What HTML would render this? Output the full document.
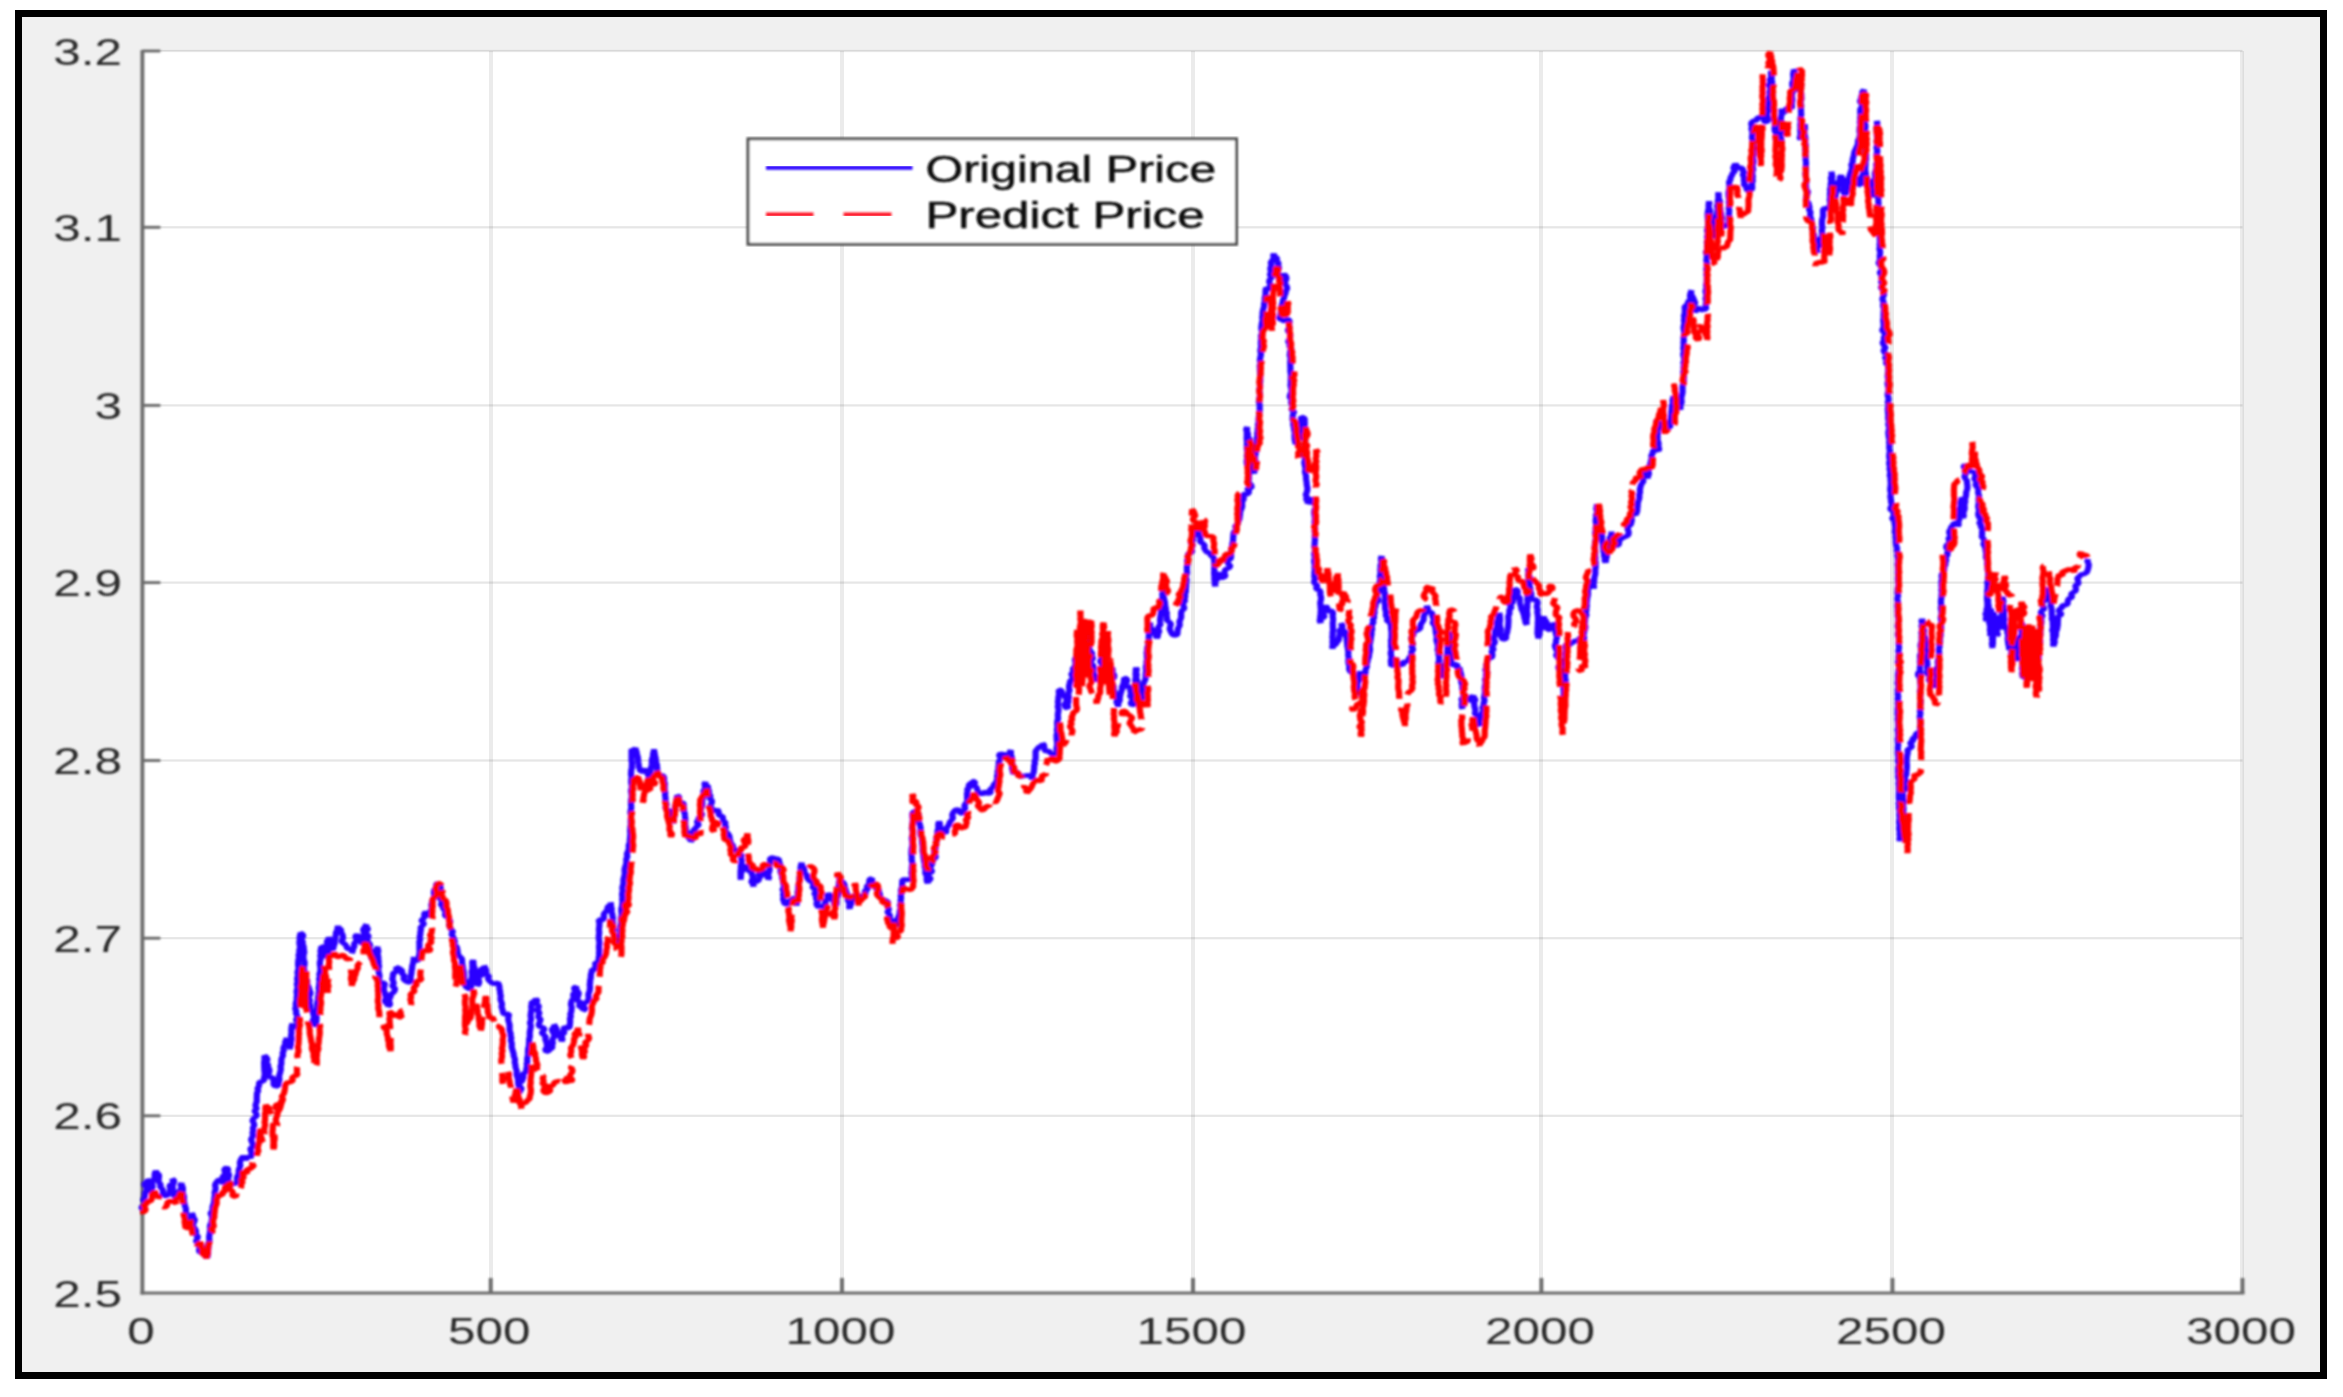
<!DOCTYPE html>
<html><head><meta charset="utf-8"><title>Original Price vs Predict Price</title>
<style>
html,body{margin:0;padding:0;background:#fff;}
body{width:2343px;height:1397px;overflow:hidden;}
svg{display:block;}
text{font-family:"Liberation Sans",Arial,Helvetica,sans-serif;fill:#2a2a2a;}
.lg text{fill:#111;stroke:#111;stroke-width:0.5px;}
</style></head><body>
<svg width="2343" height="1397" viewBox="0 0 2343 1397">
<defs><filter id="bl" x="-2%" y="-2%" width="104%" height="104%"><feGaussianBlur stdDeviation="0.9"/></filter></defs>
<rect x="0" y="0" width="2343" height="1397" fill="#ffffff"/>
<rect x="18.5" y="13.5" width="2305" height="1362" fill="#f0f0f0" stroke="#000" stroke-width="7"/>
<rect x="142.4" y="51" width="2100.1" height="1242" fill="#ffffff"/>
<g fill="#000">
<rect x="489" y="51" width="4" height="1242" fill-opacity="0.078"/>
<rect x="840" y="51" width="4" height="1242" fill-opacity="0.078"/>
<rect x="1191" y="51" width="4" height="1242" fill-opacity="0.078"/>
<rect x="1539" y="51" width="4" height="1242" fill-opacity="0.078"/>
<rect x="1890" y="51" width="4" height="1242" fill-opacity="0.078"/>
<rect x="2240" y="51" width="4" height="1242" fill-opacity="0.078"/>
<rect x="142.4" y="49.85" width="2100.1" height="2.3" fill-opacity="0.098"/>
<rect x="142.4" y="226.15" width="2100.1" height="2.3" fill-opacity="0.098"/>
<rect x="142.4" y="404.25" width="2100.1" height="2.3" fill-opacity="0.098"/>
<rect x="142.4" y="581.45" width="2100.1" height="2.3" fill-opacity="0.098"/>
<rect x="142.4" y="759.35" width="2100.1" height="2.3" fill-opacity="0.098"/>
<rect x="142.4" y="937.05" width="2100.1" height="2.3" fill-opacity="0.098"/>
<rect x="142.4" y="1114.65" width="2100.1" height="2.3" fill-opacity="0.098"/>
</g>
<g stroke="#6c6c6c" fill="none" filter="url(#bl)">
<line x1="142.4" y1="50" x2="142.4" y2="1294.5" stroke-width="3.8"/>
<line x1="140.5" y1="1293" x2="2244.5" y2="1293" stroke-width="3"/>
<line x1="490.7" y1="1293" x2="490.7" y2="1278" stroke-width="3.8"/>
<line x1="842" y1="1293" x2="842" y2="1278" stroke-width="3.8"/>
<line x1="1193" y1="1293" x2="1193" y2="1278" stroke-width="3.8"/>
<line x1="1541.4" y1="1293" x2="1541.4" y2="1278" stroke-width="3.8"/>
<line x1="1892.5" y1="1293" x2="1892.5" y2="1278" stroke-width="3.8"/>
<line x1="2242.5" y1="1293" x2="2242.5" y2="1278" stroke-width="3.8"/>
<line x1="142.4" y1="51" x2="160.4" y2="51" stroke-width="2.8"/>
<line x1="142.4" y1="227.3" x2="160.4" y2="227.3" stroke-width="2.8"/>
<line x1="142.4" y1="405.4" x2="160.4" y2="405.4" stroke-width="2.8"/>
<line x1="142.4" y1="582.6" x2="160.4" y2="582.6" stroke-width="2.8"/>
<line x1="142.4" y1="760.5" x2="160.4" y2="760.5" stroke-width="2.8"/>
<line x1="142.4" y1="938.2" x2="160.4" y2="938.2" stroke-width="2.8"/>
<line x1="142.4" y1="1115.8" x2="160.4" y2="1115.8" stroke-width="2.8"/>
</g>
<g transform="scale(1.35 1)" fill="none" stroke-linejoin="bevel" stroke-linecap="butt" filter="url(#bl)">
<path d="M105.5 1209.5 L104.7 1206.8 L107.2 1205.0 L107.3 1202.5 L106.0 1199.7 L107.1 1197.5 L107.3 1195.1 L107.4 1192.7 L108.3 1190.5 L108.9 1188.2 L107.1 1185.5 L107.1 1183.1 L109.8 1181.1 L109.0 1178.6 L109.7 1180.8 L109.0 1183.4 L111.9 1184.9 L110.9 1187.7 L110.4 1190.3 L111.6 1192.3 L111.7 1190.1 L112.8 1188.1 L113.1 1186.0 L112.6 1183.6 L113.0 1181.4 L113.9 1179.4 L114.7 1177.4 L114.5 1175.1 L114.8 1172.9 L115.4 1170.8 L116.1 1173.0 L117.8 1174.9 L117.7 1177.5 L117.4 1180.0 L117.7 1182.4 L119.0 1184.5 L118.6 1187.1 L120.1 1188.8 L120.8 1190.9 L120.6 1193.5 L121.1 1195.7 L123.1 1195.3 L124.3 1197.5 L123.2 1194.7 L126.2 1193.1 L125.7 1190.5 L126.3 1188.2 L125.3 1185.4 L128.3 1183.8 L128.2 1181.3 L127.5 1178.6 L129.0 1180.7 L128.6 1183.2 L127.7 1185.9 L128.1 1188.2 L127.7 1190.7 L129.6 1192.7 L128.7 1195.4 L130.0 1197.5 L131.2 1195.7 L130.6 1193.0 L132.2 1191.4 L133.8 1189.9 L134.4 1187.7 L133.8 1185.0 L134.4 1182.9 L134.6 1185.2 L135.4 1187.4 L135.5 1189.8 L135.2 1192.2 L135.8 1194.4 L136.3 1196.7 L136.2 1199.1 L136.3 1201.4 L136.6 1203.7 L137.0 1206.0 L137.7 1208.3 L137.7 1210.7 L137.7 1213.1 L137.2 1215.6 L138.2 1217.8 L138.8 1220.1 L138.8 1222.5 L139.0 1224.9 L138.0 1221.7 L138.7 1219.4 L141.6 1218.0 L143.1 1216.1 L142.1 1212.9 L142.3 1215.4 L143.3 1217.5 L144.4 1219.7 L143.7 1222.4 L142.6 1225.2 L143.7 1227.3 L144.8 1229.5 L145.3 1231.8 L144.5 1234.3 L146.7 1236.2 L146.1 1238.7 L145.1 1241.3 L146.5 1243.3 L147.1 1245.5 L148.0 1247.7 L147.4 1250.1 L147.9 1252.4 L150.4 1252.4 L148.3 1247.1 L151.0 1247.3 L150.7 1250.3 L151.2 1252.9 L151.6 1255.6 L153.6 1257.6 L153.9 1255.3 L154.2 1252.9 L154.1 1250.6 L154.3 1248.2 L154.4 1245.9 L154.2 1243.5 L155.1 1241.2 L155.0 1238.8 L154.9 1236.5 L155.3 1234.1 L155.5 1231.8 L155.7 1229.5 L155.5 1227.1 L155.7 1224.9 L156.5 1222.7 L156.9 1220.4 L157.1 1218.1 L156.9 1215.8 L155.8 1213.2 L157.4 1211.2 L157.4 1208.8 L157.5 1206.4 L158.1 1204.1 L158.6 1201.8 L158.7 1199.5 L158.9 1197.1 L159.2 1194.7 L158.9 1192.3 L159.6 1190.0 L159.7 1187.6 L159.3 1185.2 L159.9 1182.9 L161.9 1179.7 L163.6 1180.0 L165.0 1183.7 L166.3 1181.6 L165.0 1178.8 L165.0 1176.3 L167.0 1174.5 L166.6 1171.9 L166.1 1169.3 L167.9 1167.4 L169.1 1169.5 L168.3 1172.0 L169.6 1174.1 L169.6 1176.4 L168.5 1179.0 L169.5 1181.1 L170.2 1183.3 L170.0 1185.7 L170.1 1188.0 L170.5 1183.8 L173.2 1184.0 L175.2 1182.9 L175.4 1180.7 L175.5 1178.4 L175.8 1176.2 L176.9 1174.2 L176.8 1171.9 L176.9 1169.7 L177.5 1167.6 L178.1 1165.5 L177.6 1163.1 L178.0 1160.9 L178.7 1158.8 L180.2 1156.0 L182.2 1159.9 L183.6 1155.7 L185.4 1157.9 L186.2 1155.7 L186.3 1153.4 L186.0 1151.1 L185.3 1148.6 L187.6 1146.6 L187.3 1144.3 L186.6 1141.9 L185.9 1139.5 L186.9 1137.3 L187.5 1135.1 L187.0 1132.6 L187.7 1130.4 L187.2 1128.0 L188.3 1125.8 L188.1 1123.4 L187.0 1120.8 L187.8 1118.4 L190.0 1116.2 L189.9 1113.7 L188.4 1111.0 L190.2 1108.8 L189.3 1106.2 L189.4 1104.0 L190.2 1101.9 L190.2 1099.7 L190.2 1097.4 L190.3 1095.2 L190.3 1093.0 L191.3 1090.9 L190.7 1088.6 L191.7 1086.5 L192.0 1084.4 L191.9 1082.1 L193.9 1081.7 L195.7 1080.4 L195.5 1078.1 L196.0 1075.9 L196.1 1073.6 L195.9 1071.3 L195.8 1069.1 L195.7 1066.8 L195.7 1064.6 L195.6 1062.3 L196.0 1060.0 L195.9 1057.8 L195.9 1055.5 L197.4 1057.4 L198.2 1059.6 L196.9 1062.7 L198.6 1064.5 L198.5 1067.1 L199.5 1069.2 L199.5 1071.8 L198.8 1074.6 L199.2 1077.0 L202.7 1078.0 L202.6 1080.6 L202.7 1083.1 L202.7 1085.6 L205.9 1086.5 L206.5 1082.1 L207.0 1079.9 L206.8 1077.6 L206.8 1075.4 L207.4 1073.2 L207.8 1071.0 L208.1 1068.8 L207.7 1066.5 L208.4 1064.3 L208.4 1062.1 L208.4 1059.8 L208.8 1057.6 L209.7 1055.5 L209.3 1053.0 L210.2 1050.9 L209.9 1048.5 L210.4 1046.3 L211.5 1044.3 L211.2 1041.9 L212.1 1039.8 L212.2 1037.5 L212.4 1040.0 L212.1 1042.7 L214.2 1044.5 L214.8 1046.9 L214.8 1049.5 L214.8 1047.1 L215.5 1044.9 L215.4 1042.5 L215.9 1040.2 L216.0 1037.8 L215.5 1035.4 L216.0 1033.1 L215.8 1030.7 L215.9 1028.3 L216.1 1026.0 L216.7 1023.7 L217.2 1027.2 L219.9 1027.1 L220.6 1024.8 L220.6 1022.5 L219.2 1020.3 L219.9 1017.9 L220.3 1015.6 L219.1 1013.4 L219.6 1011.1 L218.6 1008.8 L219.3 1006.5 L219.0 1004.2 L219.3 1002.0 L219.9 999.8 L219.7 997.5 L220.1 995.3 L219.8 993.1 L219.7 990.8 L220.3 988.6 L220.4 986.4 L219.8 984.1 L220.5 981.9 L220.1 979.6 L220.2 977.4 L220.9 975.2 L220.3 972.9 L220.6 970.7 L221.3 968.5 L220.9 966.2 L220.8 963.9 L220.9 961.7 L221.1 959.5 L221.6 957.2 L221.1 955.0 L221.9 952.8 L221.6 950.5 L222.2 948.3 L222.2 946.1 L221.8 943.8 L221.8 941.5 L222.1 939.3 L221.9 937.1 L222.5 934.8 L222.4 932.6 L224.3 934.4 L224.7 936.6 L222.0 939.7 L224.5 941.3 L223.9 943.8 L224.8 945.8 L225.0 948.1 L225.2 950.4 L225.4 952.7 L224.8 955.0 L224.8 957.3 L224.9 959.6 L225.6 961.8 L225.6 964.1 L225.3 966.4 L225.1 968.7 L225.5 971.0 L225.4 973.3 L225.6 975.6 L225.7 978.4 L227.7 980.4 L227.4 983.4 L228.1 985.9 L228.9 988.1 L229.3 990.3 L230.0 992.6 L229.7 994.9 L227.8 997.6 L229.6 999.6 L229.2 1002.0 L229.4 1004.3 L230.1 1006.5 L229.1 1009.3 L231.3 1011.0 L232.0 1013.2 L232.3 1015.5 L232.8 1017.7 L231.5 1020.6 L231.7 1022.9 L234.1 1024.6 L233.9 1027.1 L233.9 1024.8 L234.2 1022.5 L234.4 1020.2 L234.5 1018.0 L234.4 1015.6 L234.3 1013.3 L234.6 1011.1 L234.6 1008.7 L235.2 1006.5 L234.9 1004.2 L235.1 1001.9 L235.7 999.6 L235.5 997.3 L236.1 995.1 L236.0 992.8 L236.5 990.5 L236.0 988.2 L236.4 985.9 L236.5 983.6 L236.8 981.3 L236.3 978.9 L237.1 976.6 L236.5 974.3 L237.1 972.0 L237.4 969.7 L237.3 967.3 L237.0 965.0 L236.9 962.6 L237.3 960.3 L237.7 958.0 L237.2 955.7 L237.8 953.4 L237.3 951.0 L238.0 948.7 L237.7 946.4 L240.1 947.4 L239.8 950.1 L238.6 953.5 L239.7 955.3 L241.5 956.7 L242.9 954.7 L242.9 952.5 L242.9 950.2 L242.9 948.0 L241.6 945.5 L242.6 943.5 L242.0 941.1 L243.8 939.2 L243.4 936.9 L243.4 939.3 L245.3 940.8 L246.5 942.7 L244.0 946.2 L245.0 948.1 L246.6 949.8 L247.0 947.6 L247.3 945.4 L248.0 943.4 L247.9 941.1 L248.2 938.9 L248.5 936.7 L248.8 934.5 L248.9 932.2 L249.9 930.2 L250.0 928.0 L250.4 925.8 L250.7 928.0 L252.8 929.5 L252.3 932.1 L253.5 933.9 L254.0 936.1 L254.1 938.4 L252.7 941.3 L254.2 943.0 L255.6 944.3 L256.7 946.1 L257.0 948.6 L259.4 948.9 L261.2 949.7 L260.6 953.3 L261.2 951.0 L261.6 948.6 L262.5 946.4 L262.3 943.8 L263.6 941.7 L264.2 939.4 L263.1 936.4 L264.4 934.4 L265.2 936.4 L266.0 938.5 L267.7 939.9 L267.8 942.4 L268.2 944.7 L268.8 942.5 L270.2 940.5 L270.6 938.2 L268.9 935.3 L270.5 933.4 L268.9 930.6 L269.4 928.3 L271.1 926.4 L271.4 924.1 L270.5 926.7 L272.9 928.6 L271.3 931.3 L271.2 933.8 L273.2 935.8 L272.3 938.4 L272.0 940.8 L273.3 943.0 L274.2 945.0 L273.6 947.5 L274.0 949.7 L274.9 951.7 L274.6 954.2 L274.9 956.4 L275.2 958.6 L277.2 960.1 L277.8 957.9 L277.0 955.2 L277.6 953.0 L278.0 950.7 L279.5 948.8 L279.7 946.4 L279.6 948.6 L280.3 950.8 L279.8 953.0 L279.9 955.2 L280.3 957.4 L280.2 959.6 L280.6 961.8 L280.2 964.1 L280.9 966.2 L280.2 968.5 L280.4 970.7 L280.7 972.9 L281.1 975.1 L281.0 977.3 L280.5 980.6 L281.3 982.9 L285.1 982.7 L284.8 985.9 L284.3 988.4 L284.3 990.7 L285.2 992.9 L285.3 995.2 L286.4 997.3 L285.2 999.9 L285.3 1002.2 L287.4 1004.1 L287.3 1006.5 L289.0 1004.7 L288.4 1001.8 L288.1 999.1 L289.3 997.1 L289.3 994.4 L291.2 992.8 L292.4 990.6 L292.6 988.3 L290.3 985.9 L291.7 983.7 L291.3 981.3 L290.5 979.0 L291.1 976.7 L291.0 974.5 L291.8 972.2 L293.9 972.5 L293.5 967.0 L296.2 968.7 L297.9 970.8 L297.7 973.8 L299.8 975.7 L298.8 979.0 L300.2 980.9 L301.9 982.0 L303.9 982.5 L304.4 980.2 L304.1 977.8 L304.4 975.4 L304.8 973.1 L304.8 970.7 L305.3 968.4 L305.3 966.0 L305.9 963.8 L306.2 961.4 L306.5 959.1 L306.4 956.7 L307.0 961.0 L310.2 960.1 L310.4 957.8 L310.4 955.4 L310.8 953.1 L310.8 950.8 L310.7 948.5 L310.7 946.1 L310.7 943.8 L310.6 941.4 L311.3 939.2 L310.8 936.8 L311.4 934.5 L311.3 932.2 L311.8 929.9 L311.5 927.5 L312.9 925.7 L314.2 923.8 L311.9 920.3 L313.7 918.6 L314.5 916.5 L314.2 913.9 L315.3 912.0 L316.6 913.7 L318.4 914.8 L319.2 917.2 L319.4 914.8 L318.1 912.1 L319.6 909.8 L319.8 907.4 L319.5 904.8 L320.0 902.4 L320.4 900.0 L321.6 897.6 L321.6 895.0 L321.4 892.3 L321.7 889.7 L323.1 887.7 L323.0 884.8 L324.2 882.8 L325.5 885.0 L326.5 887.3 L326.0 890.0 L325.4 892.7 L324.9 895.4 L325.4 897.8 L326.8 900.0 L327.4 902.2 L326.4 905.2 L328.8 906.4 L328.2 909.2 L330.3 910.6 L329.8 913.3 L329.6 915.9 L331.9 917.2 L332.8 919.5 L333.6 921.8 L332.6 924.7 L333.2 927.1 L334.1 929.4 L335.6 931.5 L334.4 934.4 L335.6 936.6 L336.2 939.1 L337.0 941.4 L336.2 944.7 L338.2 946.4 L338.7 949.0 L339.0 951.7 L339.2 954.4 L340.5 956.5 L342.1 958.4 L342.3 960.6 L342.3 962.8 L342.6 965.0 L342.9 967.2 L343.1 969.4 L343.5 971.5 L343.6 973.8 L343.8 976.0 L343.7 978.2 L344.1 980.4 L344.6 982.5 L344.7 986.0 L346.2 988.0 L348.4 989.3 L348.9 987.1 L348.8 984.8 L348.8 982.5 L348.8 980.3 L349.4 978.1 L349.7 975.9 L349.5 973.6 L349.3 971.3 L350.1 969.1 L349.9 966.8 L350.0 964.6 L349.8 962.3 L350.4 960.1 L350.7 962.4 L350.7 964.8 L351.3 967.1 L351.7 969.5 L351.7 971.9 L352.5 974.1 L352.4 976.5 L352.3 979.0 L352.8 981.2 L353.4 983.5 L353.6 985.9 L354.7 983.9 L355.0 981.5 L354.3 978.6 L354.8 976.3 L357.6 975.0 L356.1 971.8 L356.1 969.2 L359.1 968.1 L358.6 965.3 L359.1 967.5 L360.1 969.5 L360.2 972.0 L360.0 974.5 L362.4 975.9 L361.4 978.8 L362.4 980.8 L364.3 982.9 L366.4 984.1 L368.8 982.5 L369.6 984.8 L370.0 987.0 L369.9 989.2 L370.5 991.3 L370.4 993.6 L371.0 995.7 L370.7 998.0 L370.8 1000.2 L371.5 1002.3 L371.9 1004.5 L371.4 1006.8 L372.1 1008.9 L372.5 1011.7 L373.2 1014.3 L377.1 1013.8 L376.6 1017.5 L376.4 1019.8 L376.9 1022.1 L377.4 1024.3 L377.5 1026.6 L377.4 1029.0 L377.6 1031.2 L378.3 1033.4 L378.2 1035.8 L378.8 1038.0 L378.3 1040.4 L379.0 1042.6 L379.1 1044.9 L379.0 1047.2 L379.5 1049.3 L379.9 1051.5 L380.5 1053.6 L380.5 1055.9 L381.2 1058.0 L381.5 1060.2 L381.2 1062.5 L381.8 1064.6 L381.8 1066.9 L382.3 1069.0 L382.8 1071.1 L382.6 1073.4 L382.8 1075.6 L383.4 1077.7 L383.8 1079.9 L383.8 1082.1 L383.9 1084.3 L384.5 1086.5 L384.6 1088.7 L385.0 1090.8 L384.8 1093.1 L385.3 1090.8 L386.5 1088.6 L384.7 1085.9 L384.4 1083.4 L386.6 1081.4 L387.2 1079.1 L387.9 1076.8 L386.7 1074.2 L388.7 1073.0 L389.9 1070.7 L389.9 1068.4 L390.5 1066.2 L390.1 1063.9 L390.7 1061.7 L390.4 1059.4 L390.8 1057.2 L391.0 1054.9 L391.1 1052.6 L391.1 1050.4 L391.3 1048.1 L391.9 1045.9 L391.8 1043.6 L392.0 1041.4 L391.9 1039.1 L392.5 1036.9 L392.4 1034.6 L392.4 1032.3 L392.7 1029.9 L393.1 1027.6 L393.2 1025.3 L392.5 1022.9 L393.2 1020.6 L393.4 1018.3 L393.0 1016.0 L393.2 1013.6 L393.4 1011.3 L393.8 1009.0 L393.4 1006.7 L393.9 1004.4 L393.7 1002.0 L396.1 1001.6 L396.9 998.6 L398.2 1000.8 L396.1 1003.6 L399.1 1005.4 L398.9 1007.9 L397.6 1010.5 L399.7 1012.5 L398.9 1015.1 L398.8 1017.5 L400.5 1019.1 L399.9 1021.7 L399.1 1024.4 L399.4 1026.6 L402.8 1027.6 L403.2 1029.7 L401.1 1032.9 L402.7 1034.6 L404.3 1036.8 L403.9 1039.4 L404.7 1041.7 L405.0 1044.2 L405.5 1046.6 L403.9 1049.4 L404.6 1051.8 L406.5 1051.0 L407.4 1049.1 L409.1 1048.0 L409.0 1044.9 L409.6 1042.7 L409.0 1040.3 L409.8 1038.1 L410.9 1035.9 L410.1 1033.5 L409.1 1031.1 L408.8 1028.7 L411.4 1026.7 L410.3 1024.3 L410.7 1026.6 L412.3 1028.1 L412.2 1030.7 L413.1 1032.7 L414.1 1034.6 L414.6 1036.9 L416.8 1038.4 L416.0 1041.5 L415.8 1039.2 L416.3 1037.0 L415.9 1034.6 L418.3 1032.9 L417.1 1030.4 L418.1 1028.3 L417.9 1026.0 L419.4 1028.3 L421.7 1027.8 L422.1 1025.5 L422.2 1023.2 L422.4 1021.0 L422.1 1018.6 L422.9 1016.4 L422.4 1014.0 L423.2 1011.8 L423.3 1009.5 L423.5 1007.2 L422.9 1004.8 L423.1 1002.5 L423.6 1000.3 L425.2 998.4 L424.6 995.7 L424.8 993.2 L427.4 991.8 L424.8 988.2 L426.8 986.5 L427.0 988.8 L427.6 991.0 L428.8 993.1 L428.3 995.6 L427.6 998.1 L427.4 1000.5 L430.3 1002.2 L429.0 1004.8 L429.4 1007.1 L432.0 1007.1 L431.9 1010.6 L433.7 1009.2 L432.0 1005.5 L432.6 1003.3 L434.5 1002.1 L435.7 1000.3 L436.1 998.1 L435.9 995.8 L435.9 993.6 L436.7 991.5 L436.9 989.3 L437.1 987.1 L436.8 984.8 L437.1 982.6 L437.1 980.3 L437.6 978.2 L437.6 975.9 L437.8 973.7 L438.4 971.6 L438.3 969.3 L441.0 969.6 L441.1 966.3 L440.9 962.5 L443.4 962.5 L443.6 960.2 L443.4 957.9 L443.9 955.5 L443.7 953.2 L443.9 950.9 L443.8 948.6 L443.7 946.2 L444.0 943.9 L444.0 941.6 L443.6 939.3 L443.5 936.9 L443.7 934.6 L443.9 932.3 L443.6 930.0 L443.8 927.6 L444.0 925.3 L444.0 923.0 L443.4 919.6 L447.0 919.9 L447.4 917.4 L447.2 914.4 L448.1 912.3 L449.7 910.9 L449.9 908.5 L450.4 906.3 L452.5 904.9 L452.3 902.3 L452.5 904.6 L452.7 906.9 L453.2 909.1 L452.8 911.5 L453.5 913.7 L453.7 916.0 L454.1 918.3 L453.5 920.7 L454.2 922.9 L454.0 925.3 L454.2 927.6 L454.8 929.8 L453.9 932.9 L455.0 934.9 L455.3 937.4 L456.0 939.7 L457.0 941.8 L458.7 943.6 L458.5 941.4 L458.9 939.2 L459.1 937.0 L459.6 934.8 L459.5 932.6 L459.6 930.4 L459.7 928.2 L459.5 925.9 L460.1 923.8 L460.0 921.5 L459.9 919.3 L460.1 917.1 L460.6 914.9 L460.4 912.7 L460.2 910.4 L460.3 908.2 L460.9 906.1 L460.9 903.8 L461.3 901.7 L460.8 899.4 L461.2 897.2 L460.8 895.3 L460.9 893.0 L461.4 890.8 L461.0 888.5 L461.2 886.2 L461.8 884.0 L461.8 881.7 L461.8 879.5 L462.2 877.2 L462.7 875.0 L462.8 872.8 L462.6 870.4 L462.8 868.2 L463.3 866.0 L463.9 863.7 L464.0 861.4 L463.9 858.9 L464.8 856.7 L464.3 854.2 L464.9 852.0 L465.7 849.7 L465.8 847.4 L465.7 844.9 L466.6 842.7 L466.5 840.3 L466.7 838.1 L466.9 835.8 L467.0 833.6 L466.7 831.3 L466.9 829.1 L466.9 826.8 L467.3 824.6 L467.2 822.4 L467.2 820.1 L467.3 817.9 L467.5 815.6 L467.0 813.4 L467.0 811.1 L467.5 808.9 L467.6 806.7 L467.4 804.4 L467.4 802.2 L467.4 799.9 L467.9 797.7 L467.9 795.4 L467.7 793.2 L467.3 790.9 L467.8 788.7 L468.1 786.4 L467.7 784.1 L467.5 781.7 L467.6 779.4 L467.9 777.1 L467.4 774.8 L467.5 772.4 L467.6 770.1 L468.1 767.8 L468.0 765.5 L468.2 763.1 L467.8 760.8 L467.8 758.5 L467.8 756.2 L467.8 753.8 L467.8 751.5 L467.8 749.2 L470.0 750.4 L471.0 747.5 L470.8 749.8 L471.6 751.8 L471.7 754.1 L472.3 756.2 L472.6 758.4 L472.7 760.6 L472.9 762.8 L473.2 765.0 L473.1 767.2 L474.2 769.2 L474.1 771.5 L476.0 771.2 L478.4 772.1 L478.7 768.1 L478.4 770.9 L479.4 773.3 L480.5 775.7 L480.5 778.4 L480.7 776.1 L481.5 774.0 L481.8 771.7 L481.9 769.5 L482.4 767.3 L482.7 765.0 L482.9 762.8 L482.8 760.4 L483.2 758.2 L483.8 756.0 L483.7 753.7 L484.3 751.5 L484.4 749.2 L484.6 751.4 L485.0 753.6 L485.2 755.9 L485.7 758.0 L485.8 760.3 L486.0 762.6 L486.6 764.7 L486.7 767.0 L486.9 769.2 L486.9 771.5 L487.0 774.8 L489.2 775.3 L491.4 775.8 L492.0 778.4 L491.7 780.9 L492.5 783.2 L492.4 785.6 L492.3 788.1 L492.5 790.5 L492.8 792.9 L492.6 795.3 L493.0 797.7 L492.9 800.1 L493.3 802.5 L493.9 804.8 L492.8 807.8 L494.2 809.7 L496.9 811.0 L497.3 813.4 L495.1 816.9 L498.1 818.1 L499.4 820.1 L498.4 823.1 L498.4 820.8 L498.9 818.5 L499.6 816.3 L499.3 813.9 L499.9 811.7 L500.3 809.4 L499.9 807.0 L500.6 804.8 L501.2 802.6 L501.1 800.2 L501.3 797.9 L501.6 795.6 L503.2 796.7 L502.3 800.8 L503.3 802.6 L506.0 802.5 L506.5 804.7 L506.3 807.0 L506.7 809.2 L506.6 811.5 L507.3 813.7 L507.4 815.9 L507.6 818.2 L507.6 820.5 L507.5 822.8 L507.6 825.0 L507.9 827.2 L508.2 829.5 L508.5 831.7 L510.6 833.0 L510.2 835.6 L509.9 838.2 L511.8 839.5 L511.7 842.0 L512.4 839.8 L514.3 838.3 L512.3 834.7 L515.4 833.8 L513.5 830.2 L515.1 828.5 L516.1 826.5 L517.8 824.8 L516.0 821.9 L517.4 820.1 L517.5 817.8 L519.4 816.2 L520.1 814.1 L518.3 811.2 L519.3 809.3 L519.6 807.0 L520.2 804.8 L520.2 802.5 L520.1 800.1 L520.9 797.9 L520.8 795.6 L521.2 793.3 L521.0 790.9 L522.2 788.8 L522.1 786.5 L522.6 784.3 L522.5 781.9 L521.6 785.0 L524.6 786.1 L524.3 788.8 L525.3 790.9 L524.9 793.8 L526.4 795.6 L525.5 798.1 L527.3 800.5 L527.3 802.9 L526.1 805.5 L527.0 807.9 L527.9 810.3 L527.0 812.8 L527.7 809.9 L530.1 810.8 L531.5 809.3 L532.4 811.9 L532.4 815.5 L535.3 816.2 L535.5 818.4 L535.6 820.7 L537.4 822.5 L537.0 825.0 L537.8 827.1 L536.8 829.7 L537.8 831.7 L539.3 833.6 L540.3 835.9 L540.5 838.6 L541.0 841.2 L541.6 843.7 L543.0 845.6 L542.9 848.5 L544.1 850.6 L546.6 849.8 L546.7 855.2 L549.3 854.0 L549.0 856.3 L549.1 858.7 L549.5 861.1 L549.2 863.4 L548.8 865.7 L548.8 868.1 L548.6 870.4 L548.5 872.8 L548.9 875.1 L548.7 877.5 L548.7 879.8 L548.6 877.3 L548.5 874.8 L549.1 872.6 L550.0 870.6 L550.0 868.1 L552.0 866.6 L552.4 864.3 L552.6 866.9 L554.0 868.6 L554.5 871.0 L556.9 871.8 L556.9 874.6 L558.0 876.8 L557.2 879.5 L556.5 882.1 L558.1 884.2 L558.1 886.7 L557.8 882.8 L559.2 881.1 L562.0 881.5 L561.8 879.0 L563.2 877.1 L561.9 874.2 L562.8 872.1 L564.7 870.3 L564.5 867.8 L563.6 870.9 L566.5 871.4 L566.4 874.0 L567.4 875.8 L569.9 876.7 L569.0 879.8 L569.0 877.5 L569.0 875.3 L569.3 873.1 L570.0 870.9 L570.1 868.7 L569.7 866.4 L569.9 864.1 L570.7 862.0 L570.3 859.7 L570.9 857.5 L572.9 857.7 L574.7 858.7 L576.8 858.7 L577.3 862.6 L578.0 864.7 L578.2 867.0 L578.3 869.3 L578.1 871.6 L578.7 873.8 L579.4 875.9 L579.3 878.3 L580.0 880.4 L580.1 882.7 L580.4 884.9 L581.0 887.2 L579.4 889.7 L581.1 892.0 L579.9 894.4 L580.5 896.7 L580.0 899.1 L580.7 901.5 L581.1 903.8 L583.6 904.5 L583.9 900.6 L586.2 900.7 L587.5 899.0 L588.7 897.0 L589.1 899.9 L589.4 902.8 L590.0 905.6 L590.2 903.3 L590.3 901.1 L591.0 898.9 L590.9 896.6 L591.0 894.3 L590.8 892.0 L591.4 889.8 L591.3 887.4 L591.5 885.2 L591.9 883.0 L592.2 880.7 L592.2 878.4 L592.4 876.1 L592.8 873.9 L593.0 871.6 L593.1 869.4 L593.0 867.1 L593.5 864.8 L593.8 862.6 L594.0 865.3 L595.2 867.5 L595.9 869.9 L595.7 872.9 L597.6 874.6 L597.7 877.4 L598.7 879.6 L600.1 881.5 L602.5 882.5 L602.4 885.2 L601.8 888.1 L604.4 888.9 L604.0 891.8 L603.1 894.4 L605.9 895.9 L603.9 898.8 L606.3 900.4 L604.7 903.2 L605.1 905.4 L606.5 907.3 L607.8 905.1 L610.8 907.3 L611.6 903.8 L611.0 900.9 L613.7 899.0 L612.7 895.9 L613.6 893.5 L614.7 895.3 L616.8 896.4 L616.1 899.9 L618.2 900.9 L617.7 904.1 L619.3 905.6 L619.7 903.4 L619.8 901.0 L619.5 898.6 L620.5 896.5 L620.7 894.2 L620.7 891.9 L620.7 889.5 L621.0 887.3 L621.5 885.0 L621.4 882.7 L621.9 880.4 L621.9 878.1 L622.8 880.7 L624.6 882.4 L625.6 884.9 L625.6 887.2 L626.4 889.3 L626.6 891.5 L627.5 893.5 L627.4 895.8 L628.2 897.9 L627.9 900.3 L628.9 902.3 L629.2 904.5 L629.5 906.7 L629.5 909.0 L628.8 906.3 L630.6 904.6 L630.6 902.1 L630.9 899.8 L633.8 898.6 L634.1 896.3 L633.3 893.5 L635.2 895.2 L637.2 896.8 L639.6 895.3 L641.5 893.9 L640.3 890.4 L643.1 889.6 L641.9 886.1 L643.8 884.7 L643.9 882.1 L644.0 879.5 L646.0 878.1 L645.9 881.0 L646.3 883.6 L649.2 884.5 L648.1 888.1 L650.8 889.2 L651.1 891.8 L651.8 894.5 L651.9 897.9 L654.0 899.2 L656.1 900.4 L658.0 902.2 L657.2 904.9 L657.8 907.2 L658.5 909.4 L657.3 912.2 L658.7 914.2 L659.3 916.4 L658.9 919.0 L659.6 921.2 L660.4 923.4 L662.3 925.1 L661.3 927.9 L662.7 926.0 L664.3 924.3 L662.7 920.3 L665.2 919.1 L665.5 916.5 L666.4 914.2 L666.4 911.9 L666.8 909.6 L667.2 907.4 L666.5 905.0 L667.4 902.8 L667.0 900.4 L667.6 898.2 L667.1 895.8 L667.7 893.6 L667.3 891.2 L667.6 889.0 L668.3 886.7 L668.2 884.4 L668.4 882.1 L668.3 879.8 L670.0 879.5 L671.8 879.6 L673.5 879.7 L675.3 879.8 L675.5 877.6 L675.5 875.3 L675.1 873.1 L675.3 870.9 L675.4 868.6 L675.5 866.4 L675.8 864.2 L675.7 861.9 L675.2 859.7 L675.4 857.5 L675.2 855.2 L675.1 853.0 L675.2 850.8 L675.3 848.5 L675.8 846.3 L675.8 844.1 L675.9 841.8 L675.5 839.6 L675.4 837.4 L676.1 835.1 L676.0 832.9 L676.1 830.7 L675.4 828.4 L675.7 826.2 L675.9 824.0 L676.0 821.7 L676.2 819.5 L675.9 817.3 L675.8 815.0 L675.9 812.8 L678.9 810.3 L680.4 814.5 L680.3 816.9 L680.4 819.3 L680.7 821.6 L681.1 823.9 L681.7 826.2 L682.0 828.5 L681.7 831.0 L681.8 833.3 L682.0 835.7 L683.0 837.9 L682.9 840.3 L683.0 842.5 L683.2 844.7 L683.5 846.9 L683.4 849.2 L683.4 851.4 L683.8 853.6 L684.0 855.8 L684.2 858.0 L684.4 860.2 L684.7 862.4 L685.1 864.5 L684.9 866.8 L685.6 868.9 L685.5 871.2 L685.4 873.7 L686.6 875.9 L686.4 878.5 L686.5 880.9 L687.3 883.2 L687.7 880.8 L689.6 878.9 L687.7 875.9 L687.4 873.3 L690.8 871.8 L689.1 868.8 L689.4 866.4 L690.5 864.3 L690.6 861.8 L691.6 859.5 L693.2 857.3 L692.7 854.7 L691.8 851.9 L692.8 849.6 L693.1 847.1 L693.3 844.8 L693.6 842.4 L693.7 840.1 L693.7 837.7 L694.2 835.4 L694.4 833.1 L694.4 830.7 L695.2 828.5 L695.0 826.1 L695.1 823.7 L695.6 821.4 L696.2 823.6 L696.1 826.3 L697.2 828.2 L698.6 829.7 L699.1 832.0 L700.7 833.4 L700.9 830.8 L701.0 828.2 L702.1 826.3 L703.1 824.2 L703.6 821.9 L705.0 820.0 L705.9 817.9 L705.3 815.1 L705.9 812.9 L706.9 811.0 L708.4 809.3 L710.7 810.2 L711.1 813.5 L713.4 813.1 L713.8 810.3 L715.0 808.4 L714.3 805.8 L715.3 803.4 L716.9 801.2 L716.3 798.6 L716.4 796.1 L716.2 793.6 L716.8 791.2 L716.4 788.6 L718.5 787.3 L717.3 784.2 L720.3 783.5 L720.0 780.9 L722.5 781.8 L721.1 785.9 L723.3 787.0 L723.9 789.5 L724.5 792.0 L726.1 793.3 L727.6 794.6 L729.4 791.4 L731.9 793.7 L734.0 792.9 L733.3 789.8 L734.6 788.2 L735.9 786.4 L736.3 784.2 L737.9 782.6 L738.3 780.4 L738.8 778.2 L738.5 775.9 L739.2 773.7 L738.9 771.4 L739.6 769.3 L739.5 767.0 L739.9 764.8 L739.7 762.5 L740.4 760.3 L741.6 758.2 L739.9 755.5 L741.0 753.4 L742.6 754.3 L744.5 754.4 L745.5 756.8 L747.6 755.4 L747.9 752.5 L748.7 750.0 L748.8 752.4 L748.8 754.8 L749.5 757.2 L749.8 759.5 L749.3 762.0 L750.0 764.4 L749.7 766.8 L749.8 769.3 L750.3 771.6 L750.6 774.0 L752.5 771.1 L754.4 774.0 L755.6 777.0 L757.6 776.1 L759.5 775.7 L761.8 775.3 L763.6 776.3 L764.6 779.2 L764.9 777.0 L764.8 774.6 L765.7 772.6 L765.8 770.3 L766.1 768.1 L766.0 765.7 L766.7 763.6 L766.3 761.2 L767.1 759.1 L767.1 756.8 L767.1 753.9 L767.1 751.1 L768.4 749.1 L769.5 747.0 L772.3 746.0 L772.2 743.1 L773.3 745.0 L773.5 747.4 L773.7 749.8 L774.7 751.7 L776.8 750.5 L778.4 753.5 L780.3 754.2 L782.4 753.4 L782.8 751.1 L782.5 748.8 L782.9 746.4 L783.1 744.1 L783.0 741.8 L782.7 739.5 L782.7 737.1 L782.6 734.8 L783.3 732.5 L782.8 730.1 L783.2 727.8 L783.2 725.5 L783.0 723.2 L783.2 720.9 L783.8 718.6 L783.6 716.2 L783.6 713.9 L784.0 711.5 L784.1 709.1 L783.5 706.7 L784.0 704.3 L783.6 701.8 L784.0 699.4 L784.0 697.0 L784.5 694.6 L784.3 692.2 L784.3 689.8 L786.4 690.3 L786.5 693.3 L787.6 695.1 L788.7 696.7 L790.1 698.8 L790.0 701.4 L788.7 704.2 L788.8 706.7 L790.7 708.7 L791.1 706.4 L790.6 704.1 L791.5 701.9 L791.3 699.5 L791.8 697.3 L791.3 694.9 L791.5 692.6 L792.3 690.4 L791.9 688.1 L791.9 685.7 L792.4 683.5 L792.6 681.2 L794.5 679.2 L794.4 676.6 L793.4 673.8 L795.7 671.9 L794.5 669.0 L796.0 667.0 L796.7 664.6 L796.6 662.0 L796.2 659.3 L797.1 657.0 L797.8 654.9 L797.7 652.5 L798.5 650.4 L798.4 648.1 L799.1 645.9 L799.0 643.6 L799.3 641.3 L799.7 639.1 L799.8 636.8 L800.3 634.6 L800.2 631.6 L802.7 631.5 L803.5 629.5 L803.0 632.4 L805.8 633.1 L804.5 636.5 L805.5 638.4 L807.3 639.8 L806.6 642.2 L807.8 644.4 L806.2 646.8 L807.0 649.0 L807.7 651.3 L809.2 653.4 L808.0 655.8 L809.8 658.0 L808.5 660.4 L807.6 663.2 L809.8 665.2 L810.0 667.7 L809.8 670.3 L809.9 672.8 L810.5 675.2 L811.1 677.6 L811.6 681.2 L812.9 678.9 L814.7 677.1 L815.5 674.4 L816.7 672.1 L815.7 669.5 L816.0 667.0 L817.1 664.7 L814.9 661.9 L815.6 659.5 L816.7 657.2 L817.6 659.5 L818.4 661.9 L816.6 664.9 L819.3 666.7 L819.8 669.2 L819.5 671.8 L819.3 674.4 L820.4 672.7 L822.6 672.2 L824.3 671.2 L823.8 667.5 L822.9 670.0 L823.6 672.4 L825.3 674.8 L825.3 677.3 L823.8 679.8 L823.4 682.3 L824.4 684.7 L825.0 686.9 L824.7 689.3 L825.5 691.4 L825.8 693.6 L826.2 695.9 L827.1 698.0 L827.4 700.2 L827.0 702.7 L828.1 704.7 L828.2 707.0 L828.2 704.6 L828.7 702.5 L829.5 700.3 L829.4 698.0 L829.7 695.7 L830.1 693.5 L830.6 691.3 L831.2 689.1 L831.1 686.7 L832.0 684.6 L832.4 682.4 L832.6 680.1 L832.7 677.8 L834.9 678.8 L834.8 681.4 L833.4 684.8 L834.4 686.6 L837.6 686.9 L837.1 689.8 L837.5 692.0 L837.9 694.2 L836.9 696.6 L839.2 698.5 L838.6 700.8 L837.5 703.2 L838.4 705.3 L841.0 703.9 L841.0 700.1 L840.6 697.8 L841.1 695.4 L841.2 693.1 L841.4 690.8 L841.1 688.5 L841.6 686.1 L841.0 683.8 L841.0 681.5 L841.0 679.1 L841.5 676.8 L841.1 674.5 L841.3 672.2 L841.3 669.8 L841.6 667.5 L842.1 669.8 L841.4 672.2 L842.1 674.5 L841.7 676.9 L842.1 679.2 L842.6 681.4 L842.1 683.8 L843.1 686.1 L842.4 688.5 L843.3 690.7 L843.3 693.1 L843.2 695.4 L843.8 697.7 L843.5 700.1 L845.6 699.6 L846.0 696.7 L845.0 694.0 L847.6 692.2 L845.5 689.3 L847.4 687.3 L846.7 684.7 L847.3 682.4 L848.2 680.2 L848.6 677.8 L848.6 675.5 L848.7 673.2 L849.0 670.9 L848.8 668.6 L848.8 666.3 L849.4 664.1 L849.2 661.7 L849.8 659.5 L849.5 657.2 L849.6 654.9 L849.3 652.6 L849.9 650.3 L849.9 651.8 L849.7 649.5 L849.9 647.3 L850.5 645.1 L850.7 642.8 L851.1 640.6 L850.8 638.3 L851.1 636.1 L851.0 633.8 L850.9 631.5 L851.3 629.3 L851.7 627.1 L852.0 624.9 L851.9 622.6 L851.0 625.7 L852.2 627.7 L853.8 629.4 L854.6 631.6 L855.4 633.7 L856.2 635.8 L856.9 638.1 L857.7 635.9 L857.7 633.6 L858.8 631.5 L857.9 628.9 L858.2 626.6 L859.6 624.6 L859.4 622.2 L859.3 619.8 L859.5 617.5 L859.7 615.2 L860.1 613.0 L860.1 610.6 L859.9 608.3 L860.1 606.0 L860.5 603.8 L860.2 601.4 L860.7 599.2 L861.3 596.9 L860.9 594.6 L861.2 592.3 L861.4 590.0 L861.5 592.3 L861.5 594.7 L862.0 596.9 L862.3 599.2 L862.8 601.4 L863.0 603.7 L863.1 606.1 L863.6 608.3 L863.5 610.7 L864.4 612.8 L864.0 615.3 L864.5 617.5 L864.2 620.1 L866.0 621.9 L867.4 623.8 L866.8 626.5 L866.4 629.0 L867.1 631.2 L868.2 634.1 L869.7 635.7 L872.2 634.6 L872.2 632.4 L872.4 630.1 L872.7 628.0 L873.8 626.0 L873.8 623.7 L873.6 621.4 L874.4 619.4 L875.0 617.2 L874.9 615.0 L874.9 612.7 L875.4 610.6 L877.3 608.7 L876.8 606.1 L875.6 603.2 L877.8 601.4 L877.4 598.8 L878.0 596.5 L877.7 593.9 L878.5 591.7 L878.4 589.3 L878.6 587.0 L878.7 584.7 L878.7 582.3 L879.1 580.0 L878.5 577.6 L878.7 575.3 L879.4 573.0 L879.2 570.6 L879.2 568.3 L879.2 565.9 L880.0 563.7 L879.2 560.9 L880.0 558.7 L879.9 556.2 L880.1 553.7 L883.1 552.2 L882.7 549.6 L882.4 547.0 L883.9 545.1 L881.5 542.1 L884.1 540.5 L883.2 538.0 L884.2 535.9 L885.1 533.9 L884.9 531.5 L887.7 531.2 L887.9 534.4 L888.7 536.7 L889.3 539.0 L888.9 541.9 L890.9 543.4 L892.3 545.2 L892.0 548.0 L892.8 550.2 L893.9 552.2 L896.1 552.8 L897.1 555.8 L898.9 557.3 L899.2 559.5 L899.5 561.8 L899.4 564.0 L899.6 566.3 L899.4 568.5 L899.5 570.8 L899.3 573.0 L899.5 575.3 L899.6 577.5 L899.5 579.8 L900.2 582.0 L900.2 584.2 L900.2 586.5 L899.8 583.9 L899.8 581.5 L901.5 579.7 L901.9 577.4 L901.1 574.7 L902.7 572.8 L903.5 576.5 L905.1 578.0 L907.9 576.2 L906.9 573.5 L907.2 571.2 L907.8 569.2 L910.5 567.9 L911.4 565.9 L909.3 562.7 L909.5 560.5 L911.6 559.0 L911.9 556.7 L911.9 554.4 L911.8 552.1 L912.1 549.8 L912.5 547.5 L912.7 545.2 L913.0 542.9 L913.4 540.7 L913.4 538.3 L913.6 536.0 L913.7 533.7 L914.2 531.5 L916.3 529.9 L914.8 526.2 L916.7 524.4 L917.1 521.8 L918.0 519.5 L918.2 517.2 L918.5 515.0 L918.5 512.7 L919.0 510.5 L919.7 508.4 L920.2 506.2 L920.0 503.8 L920.2 501.6 L921.2 499.5 L921.2 497.2 L920.7 494.0 L924.1 494.1 L925.3 492.3 L923.8 488.1 L927.1 488.2 L926.9 485.2 L925.4 483.2 L924.8 481.1 L925.2 478.6 L925.0 476.3 L925.4 473.8 L924.6 471.7 L925.4 469.1 L924.6 466.9 L923.8 464.8 L923.5 462.6 L923.5 460.4 L924.0 458.1 L923.5 455.9 L924.1 453.7 L924.0 451.5 L923.6 449.2 L923.6 447.0 L923.6 444.8 L923.7 442.6 L923.6 440.3 L923.4 438.1 L923.6 435.9 L923.5 433.7 L923.7 431.4 L923.7 429.2 L923.8 427.0 L923.0 429.8 L924.0 432.1 L924.5 434.5 L924.1 437.1 L926.0 439.2 L926.2 441.7 L926.4 444.2 L926.8 446.4 L926.5 448.7 L926.6 451.0 L926.8 453.2 L927.2 455.4 L927.9 457.6 L928.1 459.9 L927.7 462.2 L927.8 464.5 L928.3 466.7 L928.1 469.0 L928.3 471.2 L928.9 473.4 L929.3 471.2 L929.1 468.9 L929.3 466.7 L929.4 464.5 L929.6 462.3 L929.8 460.1 L929.5 457.8 L929.8 455.6 L930.0 453.4 L930.5 451.2 L930.9 449.0 L930.9 446.7 L930.6 444.5 L931.0 442.3 L931.3 440.1 L931.0 437.8 L931.5 435.6 L931.2 433.3 L931.8 431.1 L931.6 428.9 L932.1 426.7 L931.8 424.4 L932.5 422.2 L932.2 419.9 L932.4 417.7 L932.7 415.4 L932.7 413.2 L933.1 411.0 L933.1 408.7 L933.1 406.4 L933.0 404.2 L932.5 401.9 L932.7 399.6 L933.0 397.4 L933.4 395.1 L933.2 392.9 L932.8 390.6 L933.0 388.4 L933.5 386.1 L933.2 383.8 L933.5 381.6 L933.5 379.3 L933.5 377.1 L933.4 374.8 L933.4 372.6 L933.3 370.3 L933.3 367.9 L933.1 365.6 L933.9 363.3 L933.2 360.9 L933.4 358.6 L933.8 356.2 L934.1 353.9 L933.6 351.5 L933.7 349.2 L934.2 346.9 L934.0 344.5 L934.0 342.2 L934.1 340.0 L934.2 337.8 L934.0 335.5 L934.9 333.3 L934.7 331.0 L934.3 328.7 L934.4 326.5 L934.6 324.3 L934.9 322.0 L935.4 319.8 L934.9 317.5 L935.3 315.3 L935.2 313.0 L935.5 310.7 L935.9 308.4 L936.5 306.2 L936.3 303.8 L936.9 301.6 L936.8 299.3 L936.9 297.0 L937.5 294.7 L937.4 292.4 L937.5 290.1 L937.8 287.8 L939.3 288.7 L941.0 289.5 L940.7 287.0 L941.0 284.6 L940.1 282.0 L940.5 279.6 L942.2 277.3 L940.5 274.7 L941.6 272.3 L941.0 269.8 L941.1 267.4 L941.9 265.1 L941.2 262.6 L942.4 260.4 L943.4 258.2 L943.8 255.9 L943.6 253.4 L943.0 256.4 L946.2 257.6 L945.0 260.9 L947.1 262.6 L946.7 265.5 L947.4 267.6 L946.9 269.9 L946.3 272.2 L947.0 274.4 L946.2 276.7 L949.2 278.5 L948.0 280.9 L948.4 278.1 L950.1 276.3 L951.2 274.1 L952.7 276.4 L952.9 278.8 L952.1 281.4 L951.7 283.9 L953.1 286.2 L953.5 288.6 L952.4 291.2 L952.2 293.6 L951.4 295.7 L951.1 298.1 L950.3 300.2 L950.2 302.6 L949.5 304.8 L949.4 307.2 L949.1 309.5 L948.7 311.9 L948.6 314.3 L948.2 316.6 L947.3 318.7 L949.5 319.8 L951.6 321.3 L953.7 318.7 L955.3 320.8 L955.1 323.1 L954.8 325.5 L955.1 327.8 L953.8 330.4 L955.0 332.5 L955.7 334.7 L955.6 337.0 L955.2 339.4 L954.0 341.7 L955.9 343.9 L955.0 346.3 L956.7 348.4 L955.7 350.8 L955.6 353.1 L955.3 355.4 L956.0 357.7 L955.9 360.0 L955.7 362.3 L955.8 364.6 L955.8 366.9 L955.9 369.2 L955.8 371.5 L956.2 373.7 L956.2 376.0 L956.2 378.3 L956.1 380.6 L956.2 382.9 L955.9 385.2 L956.3 387.5 L956.7 389.9 L956.6 392.4 L955.6 394.9 L955.3 397.4 L957.4 399.7 L956.2 402.2 L956.9 404.6 L957.8 407.0 L956.5 409.6 L958.8 411.8 L957.6 414.4 L957.6 416.9 L957.4 419.4 L958.1 421.8 L957.9 424.1 L958.2 426.3 L958.5 428.5 L958.7 430.8 L959.2 433.0 L958.9 435.2 L959.0 437.5 L959.0 439.7 L959.6 441.9 L959.5 444.2 L961.0 442.8 L960.5 438.8 L963.3 439.0 L963.5 436.8 L963.7 434.6 L963.4 432.3 L963.7 430.1 L963.7 427.9 L963.5 425.6 L963.4 423.4 L964.0 421.2 L963.7 418.9 L963.9 416.7 L966.4 418.2 L966.4 421.8 L966.5 424.1 L966.2 426.3 L966.1 428.6 L966.4 430.9 L966.1 433.1 L966.7 435.4 L966.5 437.6 L966.8 439.9 L966.7 442.2 L966.1 444.4 L966.8 446.7 L966.3 449.0 L966.4 451.2 L966.1 453.5 L966.0 455.7 L966.7 458.0 L966.6 460.3 L966.1 462.5 L966.4 464.8 L966.8 467.1 L967.1 469.3 L966.6 471.7 L967.0 474.0 L967.5 476.2 L967.4 478.6 L967.7 480.8 L967.9 483.1 L968.0 485.4 L968.5 487.7 L968.4 490.0 L968.0 492.3 L967.1 494.7 L968.1 497.0 L967.5 499.4 L968.9 501.8 L968.3 504.1 L969.5 500.8 L971.1 498.7 L974.0 500.6 L972.7 503.1 L975.0 505.5 L974.3 508.0 L973.6 510.4 L973.4 512.9 L973.7 515.3 L974.0 517.8 L974.0 520.0 L973.7 522.3 L974.0 524.5 L973.6 526.7 L974.3 528.9 L973.7 531.2 L974.2 533.4 L973.9 535.6 L973.9 537.8 L974.1 540.1 L973.8 542.3 L973.8 544.6 L973.5 546.9 L974.1 549.2 L974.0 551.5 L973.4 553.8 L973.8 556.1 L973.9 558.4 L973.4 560.7 L973.6 563.0 L974.0 565.2 L973.7 567.5 L974.0 569.8 L973.6 572.1 L973.7 574.4 L973.5 576.7 L974.1 579.0 L973.4 581.3 L973.8 583.6 L975.8 584.9 L974.8 589.0 L977.3 589.9 L978.2 592.2 L977.9 594.4 L978.5 596.6 L978.6 598.8 L978.2 601.0 L977.9 603.2 L978.2 605.4 L978.2 607.7 L978.5 609.9 L978.2 612.1 L978.3 614.3 L977.9 616.5 L978.0 618.7 L978.2 620.9 L978.2 623.1 L977.5 620.5 L978.0 618.3 L981.2 617.3 L980.5 614.6 L979.7 612.0 L982.1 610.6 L980.7 607.7 L982.1 605.9 L983.2 607.8 L982.8 611.2 L986.5 610.9 L987.5 612.9 L987.1 616.2 L987.5 618.5 L987.4 620.9 L987.2 623.2 L987.3 625.5 L987.3 627.9 L987.5 630.2 L987.1 632.5 L987.2 634.9 L986.9 637.2 L987.3 639.6 L987.0 641.9 L987.3 644.2 L986.9 646.6 L987.1 648.9 L987.1 645.7 L989.3 644.6 L990.3 642.3 L991.6 640.3 L991.8 637.8 L992.3 635.4 L992.5 632.9 L992.1 630.4 L993.9 628.2 L994.6 625.8 L993.5 623.1 L993.9 625.5 L994.3 627.9 L994.7 630.3 L996.7 631.9 L996.4 634.7 L997.3 636.8 L997.5 639.1 L997.7 641.4 L997.9 643.7 L998.0 646.0 L998.4 648.2 L998.6 650.5 L998.8 652.8 L998.6 655.2 L999.1 657.4 L998.8 659.8 L998.8 662.1 L999.1 664.4 L999.7 666.6 L999.3 669.0 L999.9 671.2 L1001.7 673.0 L1002.9 675.3 L1003.7 678.1 L1003.5 680.6 L1003.4 683.0 L1004.2 685.5 L1003.2 688.0 L1003.1 690.4 L1004.8 692.8 L1004.3 695.3 L1004.3 693.0 L1004.8 690.9 L1005.3 688.8 L1005.6 686.6 L1005.4 684.3 L1005.9 682.1 L1006.7 680.1 L1007.0 677.9 L1007.0 675.6 L1007.5 673.5 L1007.5 671.2 L1007.0 674.0 L1009.7 675.0 L1010.9 676.8 L1010.1 679.8 L1010.6 677.6 L1010.7 675.3 L1011.4 673.2 L1011.4 670.8 L1011.9 668.6 L1012.6 666.5 L1012.3 664.1 L1013.0 661.9 L1013.1 659.6 L1013.9 657.5 L1014.1 655.2 L1014.4 652.8 L1014.8 650.5 L1014.8 648.1 L1014.4 645.7 L1014.8 643.4 L1015.1 641.1 L1015.4 638.8 L1015.6 636.4 L1016.0 634.1 L1015.8 631.7 L1016.5 629.4 L1016.1 626.9 L1016.3 624.6 L1017.4 622.4 L1016.9 619.9 L1017.9 617.7 L1017.5 615.2 L1018.2 613.0 L1018.0 610.5 L1018.3 608.2 L1019.0 605.9 L1018.8 603.4 L1020.7 601.6 L1020.9 599.3 L1020.1 596.6 L1019.9 594.1 L1021.5 592.2 L1021.5 589.9 L1021.4 587.7 L1021.6 585.4 L1022.0 583.2 L1022.1 580.9 L1022.6 578.7 L1022.0 576.4 L1022.5 574.2 L1022.6 571.9 L1022.4 569.6 L1022.7 567.4 L1022.6 565.1 L1023.4 562.9 L1023.0 560.6 L1022.9 558.3 L1023.4 556.1 L1023.6 558.4 L1023.7 560.8 L1023.5 563.1 L1023.8 565.4 L1024.3 567.7 L1023.9 570.1 L1024.8 572.4 L1024.3 574.7 L1025.0 577.0 L1024.5 579.4 L1025.2 581.7 L1024.8 584.1 L1024.9 586.4 L1025.3 588.7 L1025.2 591.0 L1025.9 593.3 L1025.7 595.6 L1026.1 597.8 L1025.7 600.2 L1025.5 602.5 L1026.0 604.7 L1026.0 607.0 L1026.1 609.3 L1026.7 611.6 L1026.6 613.9 L1026.6 616.2 L1027.9 617.9 L1027.3 620.9 L1029.2 622.2 L1030.1 624.1 L1030.4 626.5 L1030.4 628.8 L1030.7 631.1 L1030.8 633.5 L1030.7 635.8 L1030.8 638.1 L1030.3 640.4 L1030.5 642.8 L1030.4 645.1 L1030.4 647.4 L1030.8 649.7 L1030.2 652.1 L1030.2 654.4 L1030.8 656.7 L1030.5 659.0 L1030.2 661.4 L1030.5 663.7 L1030.4 666.0 L1032.6 664.9 L1033.0 662.3 L1033.8 660.1 L1034.2 657.5 L1034.1 661.1 L1035.8 662.8 L1037.8 664.2 L1039.3 666.0 L1038.8 662.5 L1041.3 661.8 L1043.2 660.6 L1043.7 658.1 L1044.9 656.3 L1045.7 654.0 L1045.4 651.6 L1047.0 649.4 L1045.4 646.8 L1046.7 644.6 L1046.3 642.2 L1045.6 639.7 L1045.4 637.3 L1047.0 635.1 L1047.0 631.8 L1048.8 630.7 L1050.7 629.8 L1052.1 628.2 L1052.1 625.8 L1052.7 623.6 L1053.9 621.6 L1054.6 619.5 L1054.5 617.0 L1055.1 614.8 L1055.7 612.6 L1055.7 610.2 L1056.6 608.1 L1057.1 605.9 L1057.8 608.8 L1058.2 612.0 L1061.0 612.8 L1060.9 615.4 L1061.5 617.8 L1062.3 620.1 L1061.1 623.0 L1062.7 625.1 L1063.2 627.5 L1063.5 630.0 L1063.5 632.2 L1063.9 634.4 L1064.4 636.6 L1064.1 638.8 L1064.1 641.1 L1064.7 643.2 L1065.1 645.4 L1065.3 647.6 L1064.8 649.9 L1065.7 652.0 L1065.4 654.3 L1066.1 656.4 L1065.9 658.7 L1066.1 660.9 L1065.1 663.5 L1067.2 665.7 L1067.2 668.2 L1066.5 670.8 L1066.8 673.2 L1067.0 675.7 L1067.3 678.1 L1067.5 675.7 L1066.9 673.0 L1069.3 671.6 L1068.7 668.9 L1070.4 667.2 L1070.4 664.7 L1071.1 662.6 L1071.1 660.4 L1071.9 658.3 L1071.5 656.0 L1072.3 653.8 L1072.0 651.6 L1072.3 649.4 L1072.2 647.1 L1072.3 644.9 L1073.0 642.8 L1072.9 640.5 L1073.2 638.3 L1073.1 636.1 L1073.5 633.9 L1073.7 631.7 L1073.7 634.0 L1073.7 636.2 L1073.9 638.4 L1074.2 640.7 L1074.0 642.9 L1074.2 645.2 L1074.4 647.4 L1074.4 649.7 L1074.7 651.9 L1075.0 654.1 L1075.1 656.4 L1074.5 658.7 L1075.0 660.9 L1075.1 664.2 L1076.5 665.3 L1079.5 663.8 L1079.1 668.1 L1081.3 667.8 L1081.3 670.0 L1081.8 672.2 L1082.2 674.3 L1082.6 676.5 L1082.0 678.8 L1082.3 681.0 L1082.6 683.1 L1083.2 685.2 L1083.2 687.5 L1083.3 689.7 L1083.9 691.8 L1083.7 694.2 L1084.7 696.8 L1082.3 699.1 L1083.4 701.6 L1082.7 704.0 L1083.0 706.5 L1083.3 709.0 L1082.6 705.8 L1084.8 704.9 L1084.1 701.7 L1085.8 700.4 L1089.1 700.2 L1088.3 697.0 L1090.3 697.4 L1091.5 695.3 L1091.5 697.6 L1093.1 699.7 L1091.6 702.2 L1092.1 704.5 L1092.2 706.8 L1092.8 709.0 L1092.7 711.4 L1092.4 713.9 L1094.4 715.4 L1094.3 717.7 L1095.1 719.8 L1095.4 722.0 L1095.5 724.3 L1096.6 726.2 L1095.9 723.7 L1095.8 721.3 L1096.3 719.1 L1096.3 716.7 L1098.2 714.8 L1097.7 712.3 L1099.4 710.4 L1097.8 707.7 L1099.1 705.6 L1098.9 703.2 L1099.7 700.8 L1099.2 698.3 L1099.5 695.9 L1099.9 693.6 L1100.0 691.1 L1099.8 688.7 L1099.9 686.3 L1100.4 683.9 L1100.4 681.5 L1099.9 679.1 L1101.7 677.0 L1100.2 674.6 L1102.2 672.5 L1099.8 669.9 L1101.6 667.8 L1100.8 665.4 L1101.5 663.2 L1101.7 660.9 L1102.7 658.4 L1105.3 657.4 L1105.5 654.0 L1104.8 651.4 L1106.6 649.2 L1104.7 646.4 L1106.6 644.2 L1107.4 641.8 L1106.4 639.2 L1106.8 636.8 L1107.5 634.7 L1107.4 632.4 L1107.7 630.2 L1108.6 628.2 L1109.0 626.0 L1109.1 623.8 L1109.0 621.5 L1110.0 619.5 L1109.8 617.1 L1110.6 615.1 L1110.6 612.8 L1110.9 615.2 L1111.1 617.6 L1111.2 620.0 L1110.9 622.4 L1110.8 624.8 L1111.3 627.2 L1111.8 629.6 L1111.4 632.0 L1111.4 634.4 L1111.9 636.8 L1113.3 639.6 L1115.7 638.6 L1115.5 636.3 L1115.9 634.1 L1116.5 631.9 L1116.7 629.6 L1117.1 627.4 L1117.2 625.1 L1117.3 622.9 L1117.4 620.6 L1117.3 618.3 L1117.2 616.0 L1118.1 613.8 L1118.0 611.5 L1118.2 609.3 L1119.8 607.4 L1117.9 604.3 L1120.7 602.8 L1120.4 600.3 L1121.6 598.3 L1121.4 595.8 L1121.0 593.2 L1121.7 591.0 L1122.1 588.7 L1124.1 590.3 L1124.2 592.9 L1123.7 595.7 L1125.7 597.4 L1125.7 600.0 L1125.9 602.5 L1126.2 604.8 L1126.8 607.0 L1127.0 609.4 L1128.0 611.4 L1128.4 613.7 L1129.0 615.8 L1129.2 618.2 L1129.8 620.4 L1130.0 622.8 L1131.0 624.8 L1130.7 622.5 L1130.8 620.3 L1130.9 618.0 L1131.3 615.7 L1131.3 613.5 L1131.0 611.2 L1131.1 608.9 L1131.4 606.7 L1131.2 604.4 L1131.7 602.1 L1131.2 599.8 L1131.8 597.6 L1131.3 595.3 L1131.8 593.1 L1132.0 590.8 L1132.1 588.5 L1132.2 586.3 L1131.5 584.0 L1132.1 581.7 L1132.3 579.5 L1132.2 577.2 L1132.0 574.9 L1132.3 572.6 L1132.0 570.4 L1132.2 568.1 L1132.1 570.4 L1132.6 572.6 L1132.3 574.9 L1133.2 577.0 L1132.9 579.3 L1133.4 581.5 L1133.0 583.9 L1133.0 586.1 L1133.6 588.3 L1133.4 590.6 L1134.1 592.8 L1134.4 595.0 L1134.1 597.3 L1134.9 600.2 L1137.3 599.1 L1138.6 600.8 L1139.0 603.0 L1138.5 605.3 L1138.4 607.5 L1139.1 609.7 L1138.7 611.9 L1139.0 614.1 L1139.2 616.4 L1139.3 618.6 L1139.3 620.8 L1139.1 623.0 L1139.2 625.3 L1139.0 627.5 L1139.0 629.7 L1138.9 631.9 L1138.9 634.2 L1139.5 636.4 L1139.3 638.6 L1139.8 636.4 L1140.5 634.3 L1140.3 631.8 L1141.1 629.7 L1142.0 627.6 L1142.1 625.2 L1142.6 623.0 L1142.6 620.6 L1143.7 618.6 L1143.7 616.2 L1143.1 618.9 L1145.1 620.6 L1145.6 622.9 L1147.0 624.9 L1145.9 627.7 L1146.2 630.0 L1148.8 629.0 L1149.8 626.4 L1150.1 623.1 L1151.5 625.3 L1151.6 627.8 L1152.2 630.2 L1152.3 632.7 L1152.8 635.1 L1153.3 637.6 L1152.6 640.3 L1152.6 642.8 L1151.7 645.4 L1152.1 647.8 L1153.0 650.2 L1154.0 652.5 L1152.5 655.2 L1153.9 657.5 L1155.1 659.6 L1155.9 661.9 L1155.7 664.4 L1154.2 667.2 L1154.9 669.5 L1156.4 671.5 L1157.0 673.8 L1156.4 676.4 L1156.5 678.6 L1156.9 680.8 L1156.9 683.0 L1157.4 685.1 L1158.0 687.2 L1158.2 689.4 L1158.3 691.6 L1158.3 693.9 L1158.3 696.1 L1158.7 698.2 L1159.0 700.4 L1158.6 698.1 L1159.4 695.9 L1159.1 693.6 L1159.2 691.3 L1159.0 689.0 L1159.1 686.8 L1159.1 684.5 L1159.5 682.3 L1159.8 680.0 L1159.3 677.7 L1159.4 675.4 L1159.4 673.2 L1159.2 670.9 L1159.3 668.6 L1159.9 666.4 L1160.2 664.1 L1159.4 661.8 L1159.5 659.6 L1159.9 657.3 L1159.8 655.0 L1159.8 652.8 L1160.4 650.5 L1159.9 648.2 L1159.9 646.0 L1160.2 643.7 L1162.6 645.5 L1163.6 642.8 L1165.4 642.4 L1166.6 640.3 L1168.7 641.5 L1170.8 636.9 L1173.0 640.3 L1173.5 638.1 L1172.9 635.7 L1173.2 633.4 L1173.6 631.1 L1174.1 628.9 L1174.4 626.6 L1173.7 624.2 L1174.0 621.9 L1174.1 619.6 L1174.3 617.3 L1175.2 615.1 L1174.6 612.7 L1175.2 610.5 L1175.0 608.2 L1175.5 605.9 L1175.2 603.5 L1175.5 601.2 L1175.6 598.8 L1176.0 596.5 L1176.4 594.2 L1176.2 591.8 L1176.4 589.5 L1176.3 587.1 L1176.3 584.8 L1176.7 582.4 L1176.8 580.1 L1178.1 582.0 L1177.3 585.5 L1180.7 585.7 L1180.6 588.7 L1180.3 586.3 L1180.5 583.9 L1180.8 581.5 L1180.9 579.1 L1181.1 576.7 L1181.7 574.3 L1181.7 571.9 L1181.7 569.5 L1182.0 567.1 L1181.9 564.7 L1182.1 562.4 L1181.5 560.2 L1181.9 557.9 L1181.5 555.6 L1181.7 553.4 L1181.6 551.1 L1181.5 548.8 L1181.3 546.5 L1181.4 544.3 L1181.6 542.0 L1181.9 539.8 L1182.2 537.6 L1182.2 535.4 L1181.5 533.1 L1182.1 530.9 L1181.8 528.6 L1182.2 526.4 L1182.3 524.2 L1182.0 522.0 L1182.0 519.7 L1182.4 517.5 L1182.1 515.3 L1182.9 513.1 L1183.0 510.9 L1182.3 508.6 L1183.1 506.4 L1182.9 504.2 L1182.8 506.5 L1183.8 508.6 L1183.5 511.0 L1183.9 513.2 L1184.4 515.4 L1184.1 517.7 L1184.5 519.9 L1184.6 522.2 L1184.7 524.5 L1184.9 526.7 L1185.4 528.9 L1185.5 531.2 L1186.1 533.4 L1186.7 535.6 L1186.7 537.9 L1186.8 540.1 L1187.0 542.4 L1187.4 544.6 L1187.3 546.9 L1187.7 549.1 L1187.7 551.4 L1188.3 553.6 L1188.1 555.9 L1188.9 558.1 L1188.6 560.4 L1189.3 562.6 L1189.6 560.4 L1189.8 558.1 L1190.3 556.0 L1190.2 553.6 L1191.0 551.6 L1191.3 549.3 L1191.8 547.2 L1191.4 544.8 L1192.0 542.7 L1192.5 540.5 L1192.3 538.1 L1193.3 536.1 L1193.8 533.9 L1193.7 531.6 L1193.7 534.0 L1193.7 536.5 L1193.6 539.0 L1195.6 540.8 L1195.8 543.1 L1196.3 545.4 L1198.8 545.4 L1199.4 542.7 L1199.4 539.3 L1201.4 538.5 L1203.0 537.2 L1204.8 536.2 L1206.3 534.8 L1206.4 531.6 L1205.6 529.0 L1206.1 526.6 L1208.0 524.7 L1208.4 522.3 L1208.8 520.0 L1208.4 517.4 L1208.4 515.0 L1209.0 512.7 L1211.7 514.9 L1212.8 511.0 L1212.8 508.6 L1213.1 506.3 L1213.1 503.9 L1213.4 501.6 L1214.1 499.3 L1214.4 497.0 L1214.2 494.6 L1214.9 492.3 L1214.6 489.9 L1215.1 487.6 L1215.4 485.3 L1216.4 483.3 L1217.4 481.3 L1216.9 478.6 L1218.6 476.9 L1218.0 474.2 L1219.2 472.3 L1219.2 469.8 L1218.6 472.9 L1219.8 475.6 L1220.4 478.4 L1220.8 476.1 L1221.5 473.9 L1221.0 471.4 L1221.3 469.1 L1221.6 466.8 L1222.2 464.6 L1222.7 462.4 L1223.1 460.1 L1223.5 457.8 L1223.2 455.4 L1224.3 453.3 L1224.3 450.9 L1226.5 449.0 L1228.7 450.9 L1229.0 448.6 L1228.3 446.5 L1228.6 444.2 L1228.4 442.1 L1227.6 439.9 L1227.9 437.7 L1227.7 435.5 L1228.1 433.2 L1227.3 431.1 L1227.3 428.8 L1226.9 426.7 L1226.7 424.5 L1227.0 422.2 L1226.8 420.0 L1227.4 422.4 L1230.0 423.1 L1228.7 427.2 L1231.9 427.4 L1231.9 430.3 L1234.6 430.5 L1235.0 427.6 L1237.3 427.2 L1237.0 423.4 L1237.2 421.1 L1237.8 418.9 L1237.8 416.5 L1238.1 414.3 L1238.0 411.9 L1238.3 409.7 L1238.3 407.3 L1238.6 405.0 L1239.3 402.8 L1238.8 400.4 L1239.6 398.2 L1239.6 395.9 L1239.4 398.5 L1242.2 399.1 L1242.0 401.7 L1241.3 404.6 L1243.2 405.8 L1243.9 407.7 L1244.7 409.7 L1244.8 407.5 L1244.7 405.2 L1245.6 403.1 L1245.6 400.9 L1245.4 398.6 L1245.6 396.4 L1246.1 394.2 L1246.4 392.0 L1246.3 389.8 L1246.3 387.5 L1246.5 385.3 L1246.9 383.1 L1247.3 381.0 L1247.2 378.7 L1247.4 376.4 L1247.0 374.1 L1246.8 371.9 L1247.3 369.6 L1247.0 367.3 L1247.5 365.0 L1246.9 362.8 L1247.6 360.5 L1247.5 358.2 L1247.0 355.9 L1246.8 353.7 L1247.5 351.4 L1246.9 349.1 L1247.0 346.8 L1247.2 344.6 L1247.0 342.3 L1247.3 340.0 L1247.0 337.8 L1247.4 335.6 L1247.5 333.4 L1247.6 331.2 L1247.1 329.0 L1247.1 326.7 L1247.5 324.6 L1247.7 322.4 L1247.3 320.1 L1247.7 317.9 L1247.3 315.7 L1248.0 313.5 L1248.0 311.3 L1248.1 309.1 L1247.8 306.9 L1249.2 305.0 L1251.1 304.3 L1250.1 301.6 L1252.7 299.8 L1251.9 297.2 L1251.9 294.8 L1252.4 292.5 L1253.0 290.2 L1252.6 292.6 L1252.8 294.8 L1253.9 296.9 L1254.6 299.1 L1255.2 301.2 L1255.8 303.4 L1253.3 306.2 L1254.9 308.2 L1255.6 312.1 L1258.9 307.1 L1259.7 310.8 L1261.3 309.5 L1263.8 309.4 L1263.5 305.6 L1263.6 303.4 L1264.0 301.2 L1263.3 298.9 L1263.8 296.7 L1264.0 294.5 L1263.4 292.2 L1263.5 290.0 L1264.2 287.8 L1263.7 285.5 L1264.0 283.3 L1264.3 281.1 L1264.2 278.9 L1264.3 276.7 L1263.9 274.4 L1264.4 272.2 L1263.9 270.0 L1264.1 267.7 L1264.3 265.5 L1264.5 263.3 L1264.0 261.0 L1264.1 258.8 L1264.4 256.6 L1264.1 254.2 L1263.5 251.8 L1265.5 249.4 L1264.3 247.0 L1264.7 244.5 L1264.2 242.1 L1265.4 239.7 L1264.4 237.3 L1264.9 235.1 L1265.0 232.8 L1264.4 230.5 L1264.9 228.3 L1265.1 226.0 L1265.3 223.8 L1265.1 221.5 L1265.1 219.2 L1265.0 217.0 L1264.9 214.7 L1265.0 212.5 L1265.3 210.2 L1265.8 208.0 L1265.6 205.7 L1265.8 203.5 L1265.9 201.2 L1266.2 203.4 L1265.7 205.8 L1265.9 208.0 L1266.7 210.2 L1266.7 212.5 L1267.1 214.7 L1267.0 217.0 L1267.3 219.2 L1267.0 221.5 L1267.5 223.7 L1267.4 226.0 L1268.1 228.2 L1267.7 230.6 L1267.9 232.8 L1268.3 235.0 L1268.3 237.3 L1269.7 235.5 L1270.4 233.5 L1271.0 231.4 L1270.8 229.0 L1270.4 226.5 L1271.1 224.4 L1271.3 222.1 L1271.6 219.8 L1271.4 217.5 L1272.0 215.2 L1272.0 212.9 L1272.1 210.6 L1272.3 208.3 L1271.8 206.0 L1272.6 203.7 L1272.4 201.4 L1272.8 199.1 L1272.9 196.8 L1272.8 194.5 L1273.0 192.2 L1273.0 194.6 L1273.1 196.9 L1273.2 199.2 L1274.2 201.4 L1273.6 203.9 L1273.9 206.2 L1274.3 208.5 L1274.3 210.8 L1274.9 213.1 L1275.0 215.4 L1275.6 217.7 L1275.0 220.1 L1275.3 222.4 L1275.7 224.7 L1275.9 227.0 L1277.8 225.9 L1280.0 225.2 L1280.7 221.9 L1280.4 219.7 L1280.7 217.5 L1280.8 215.2 L1280.7 213.0 L1281.0 210.8 L1280.5 208.6 L1280.8 206.3 L1280.9 204.1 L1280.6 201.9 L1281.0 199.7 L1280.6 197.5 L1280.4 195.2 L1280.4 193.0 L1280.6 190.8 L1281.1 188.6 L1281.0 186.3 L1281.0 184.1 L1280.7 181.9 L1281.8 179.9 L1281.9 177.4 L1283.0 175.4 L1283.4 173.1 L1285.2 171.4 L1283.9 168.2 L1284.5 166.0 L1285.5 163.9 L1286.9 166.6 L1288.6 168.3 L1291.2 167.7 L1290.5 170.0 L1292.1 172.2 L1290.8 174.5 L1291.8 176.8 L1291.8 179.0 L1291.8 181.3 L1292.5 183.5 L1291.2 185.8 L1293.9 185.6 L1293.8 190.1 L1295.9 190.9 L1297.9 189.1 L1297.9 185.8 L1297.6 183.4 L1298.4 181.1 L1298.1 178.8 L1298.4 176.4 L1297.9 174.0 L1298.0 171.7 L1298.7 169.4 L1298.2 167.0 L1298.3 164.7 L1298.9 162.4 L1298.8 160.0 L1298.3 157.8 L1298.6 155.6 L1298.8 153.4 L1298.1 151.2 L1298.7 148.9 L1298.6 146.7 L1298.6 144.5 L1298.2 142.3 L1298.3 140.1 L1297.7 138.0 L1297.9 135.7 L1298.1 133.5 L1298.0 131.3 L1297.3 129.1 L1297.8 126.9 L1297.3 124.7 L1297.3 122.5 L1298.9 120.8 L1301.3 120.5 L1301.9 117.3 L1304.0 117.6 L1305.6 115.6 L1307.3 117.4 L1306.5 121.2 L1308.8 122.5 L1309.3 120.3 L1309.4 118.1 L1308.8 115.8 L1308.9 113.6 L1309.6 111.4 L1309.3 109.2 L1309.4 107.0 L1310.2 104.8 L1309.7 102.5 L1310.0 100.3 L1310.2 98.1 L1310.8 96.0 L1311.0 93.8 L1310.7 91.5 L1311.7 89.3 L1310.9 86.9 L1310.1 84.5 L1312.6 82.5 L1310.6 80.0 L1312.0 77.8 L1312.5 75.6 L1311.9 73.2 L1312.0 70.9 L1311.8 73.2 L1311.8 75.4 L1312.4 77.6 L1312.2 79.9 L1312.8 82.1 L1312.6 84.4 L1312.5 86.6 L1313.0 88.9 L1313.0 91.1 L1312.7 93.4 L1313.3 95.6 L1312.8 97.9 L1313.6 100.1 L1313.6 102.3 L1313.4 104.6 L1313.8 106.8 L1313.4 109.1 L1313.9 111.3 L1314.2 113.6 L1313.8 115.8 L1314.1 118.1 L1314.0 120.3 L1314.6 122.5 L1314.7 124.8 L1314.6 127.0 L1314.5 129.3 L1314.8 131.8 L1316.2 134.0 L1316.5 136.4 L1314.9 139.4 L1317.2 141.4 L1317.2 143.9 L1317.1 146.5 L1318.8 144.3 L1319.7 141.9 L1319.4 139.1 L1319.0 136.2 L1318.8 133.9 L1319.4 131.6 L1318.8 129.3 L1319.5 127.0 L1319.1 124.7 L1319.1 122.4 L1319.3 120.2 L1319.1 117.9 L1319.6 115.6 L1319.8 113.3 L1319.7 111.0 L1319.6 108.7 L1320.3 111.9 L1322.8 112.2 L1322.8 109.1 L1324.3 107.9 L1327.3 108.3 L1327.3 105.3 L1327.2 103.0 L1327.6 100.8 L1327.6 98.5 L1327.3 96.3 L1327.4 94.0 L1328.1 91.8 L1328.1 89.5 L1328.0 87.3 L1327.6 85.0 L1327.6 82.7 L1328.5 80.5 L1328.5 78.2 L1328.4 76.0 L1328.2 73.7 L1328.8 71.5 L1328.5 69.2 L1329.3 71.3 L1329.1 73.7 L1329.5 75.9 L1330.2 78.1 L1330.1 80.4 L1331.1 82.5 L1330.8 84.9 L1331.2 87.2 L1332.1 89.2 L1332.4 91.5 L1332.3 89.1 L1334.3 87.7 L1333.3 84.9 L1334.3 83.0 L1334.2 85.3 L1334.1 87.5 L1333.9 89.8 L1334.0 92.1 L1334.3 94.3 L1334.3 96.6 L1334.5 98.9 L1333.8 101.1 L1333.8 103.4 L1334.3 105.7 L1334.0 107.9 L1334.1 110.2 L1334.1 112.5 L1334.3 114.8 L1333.8 117.0 L1333.5 119.3 L1334.1 121.6 L1333.6 123.8 L1333.6 126.1 L1333.7 128.4 L1333.5 130.6 L1333.8 132.9 L1333.6 135.2 L1334.0 137.4 L1333.6 139.7 L1333.0 137.1 L1334.8 135.4 L1336.1 133.5 L1335.4 130.8 L1337.3 129.2 L1336.3 126.4 L1336.8 124.2 L1336.9 126.5 L1336.7 128.8 L1336.6 131.1 L1336.7 133.4 L1336.9 135.7 L1337.3 138.0 L1337.3 140.2 L1337.1 142.5 L1337.6 144.8 L1337.4 147.1 L1337.1 149.4 L1337.6 151.7 L1337.3 154.0 L1337.6 156.3 L1337.5 158.6 L1337.5 160.0 L1337.8 162.3 L1337.7 164.6 L1337.7 166.8 L1337.8 169.1 L1337.8 171.4 L1337.3 173.7 L1337.7 175.9 L1337.8 178.2 L1338.0 180.5 L1338.0 182.8 L1337.6 185.1 L1338.0 187.3 L1337.9 189.6 L1339.3 191.6 L1338.8 194.0 L1338.2 196.4 L1337.7 198.8 L1338.3 200.9 L1339.6 202.9 L1339.9 205.1 L1340.4 207.3 L1340.0 209.8 L1341.1 211.9 L1340.9 214.3 L1340.8 216.7 L1341.7 218.9 L1341.8 221.2 L1342.2 223.5 L1342.4 225.8 L1343.0 228.0 L1342.8 230.4 L1343.0 232.7 L1343.8 234.9 L1343.7 237.3 L1345.7 239.0 L1345.3 241.5 L1345.4 243.8 L1345.5 246.1 L1345.0 248.6 L1346.1 250.6 L1346.5 252.8 L1345.4 250.1 L1345.8 247.8 L1347.6 246.1 L1347.1 243.6 L1349.6 242.1 L1349.8 239.8 L1349.4 237.3 L1349.7 235.0 L1349.7 232.6 L1349.4 230.2 L1350.0 227.9 L1349.6 225.5 L1349.6 223.1 L1349.6 220.8 L1350.0 218.4 L1350.5 216.1 L1350.4 213.7 L1350.4 211.4 L1350.4 209.0 L1352.7 208.1 L1355.1 209.0 L1355.1 206.8 L1355.6 204.6 L1355.8 202.4 L1355.3 200.2 L1355.6 198.0 L1355.6 195.8 L1355.5 193.6 L1355.8 191.4 L1355.5 189.2 L1356.2 187.0 L1356.0 184.8 L1356.3 182.6 L1356.5 180.4 L1356.1 178.2 L1356.8 176.0 L1356.9 173.8 L1356.6 171.6 L1356.8 173.9 L1357.3 176.1 L1357.0 178.4 L1357.2 180.7 L1357.8 182.9 L1357.4 185.3 L1358.1 187.5 L1358.3 189.8 L1358.6 192.0 L1358.3 194.4 L1358.4 196.7 L1358.6 198.9 L1359.0 201.2 L1359.2 199.0 L1359.6 196.9 L1359.7 194.6 L1360.2 192.5 L1360.7 190.4 L1361.1 188.3 L1361.3 186.1 L1362.0 184.0 L1362.0 181.8 L1362.9 179.8 L1362.8 177.5 L1363.7 175.5 L1364.4 177.8 L1365.7 180.0 L1365.8 182.4 L1364.5 185.3 L1366.8 187.2 L1365.0 190.2 L1365.7 192.5 L1366.6 194.8 L1367.6 192.7 L1367.9 190.2 L1369.1 188.2 L1368.0 185.1 L1369.5 183.2 L1369.7 180.9 L1369.6 178.5 L1369.9 176.1 L1370.5 173.9 L1371.0 171.6 L1371.6 169.4 L1371.8 167.0 L1371.3 164.5 L1372.4 162.4 L1372.3 160.0 L1372.7 157.8 L1373.2 155.6 L1373.4 153.4 L1373.8 151.2 L1374.6 149.2 L1375.2 147.0 L1376.0 145.0 L1376.3 142.8 L1376.3 140.4 L1377.2 138.4 L1377.6 136.2 L1377.9 133.9 L1377.4 131.6 L1377.5 129.3 L1377.6 127.0 L1378.2 124.8 L1377.6 122.4 L1378.0 120.2 L1377.8 117.9 L1378.2 115.6 L1378.0 113.3 L1377.9 111.0 L1378.1 108.7 L1379.6 106.6 L1378.9 104.0 L1377.6 101.2 L1378.6 99.0 L1378.7 96.6 L1379.5 94.4 L1379.4 91.9 L1380.7 89.8 L1380.7 92.0 L1380.8 94.2 L1381.0 96.5 L1381.2 98.7 L1380.9 100.9 L1381.2 103.1 L1380.9 105.4 L1380.9 107.6 L1381.0 109.8 L1380.9 112.0 L1381.5 114.2 L1381.1 116.5 L1381.5 118.7 L1381.2 120.9 L1381.4 123.1 L1381.8 125.3 L1381.8 127.5 L1381.4 129.8 L1381.8 132.0 L1382.1 134.2 L1381.8 136.4 L1382.2 138.6 L1382.3 140.9 L1382.0 143.1 L1382.2 145.4 L1381.8 147.7 L1382.2 150.0 L1381.7 152.3 L1382.4 154.6 L1382.1 156.9 L1382.4 159.2 L1381.8 161.4 L1381.9 163.7 L1381.8 166.0 L1381.7 168.3 L1381.7 170.6 L1382.1 172.9 L1382.1 175.2 L1382.0 177.5 L1380.5 178.7 L1379.7 180.9 L1379.5 183.8 L1377.5 184.4 L1376.1 185.8 L1376.3 183.4 L1378.5 181.9 L1376.4 178.5 L1379.1 177.3 L1379.5 175.0 L1380.8 173.1 L1379.9 170.3 L1380.4 172.6 L1380.6 175.1 L1383.3 176.2 L1381.4 179.9 L1384.9 180.5 L1383.7 183.8 L1384.7 185.8 L1386.4 187.7 L1386.4 190.2 L1385.3 192.9 L1386.7 195.0 L1386.7 197.4 L1387.1 195.2 L1386.9 193.0 L1387.0 190.7 L1387.4 188.6 L1387.8 186.4 L1388.3 184.3 L1388.6 182.1 L1388.3 179.8 L1389.1 177.7 L1388.9 175.4 L1388.8 173.1 L1389.3 171.0 L1389.7 168.8 L1390.0 166.6 L1389.7 164.3 L1390.6 162.3 L1390.4 160.0 L1390.5 157.7 L1390.0 155.4 L1390.2 153.1 L1390.7 150.8 L1390.0 148.5 L1390.2 146.2 L1390.5 143.9 L1390.1 141.6 L1390.5 139.2 L1390.4 136.9 L1390.2 134.6 L1390.6 132.3 L1390.0 130.0 L1390.1 127.7 L1390.5 125.4 L1390.4 123.1 L1390.3 120.8 L1390.6 123.1 L1390.5 125.4 L1390.1 127.8 L1390.7 130.1 L1390.8 132.4 L1390.5 134.7 L1390.8 137.1 L1390.4 139.4 L1390.8 141.7 L1390.9 144.0 L1390.6 146.4 L1390.3 148.7 L1390.7 151.0 L1390.4 153.3 L1390.4 155.7 L1390.6 158.0 L1390.9 160.3 L1390.9 162.5 L1391.0 164.8 L1391.3 167.0 L1391.0 169.3 L1391.3 171.5 L1391.0 173.7 L1391.1 176.0 L1391.1 178.2 L1391.1 180.5 L1391.1 182.7 L1390.8 184.9 L1391.2 187.2 L1391.5 189.4 L1390.9 191.7 L1391.1 193.9 L1391.4 196.1 L1391.4 198.4 L1391.3 200.6 L1391.5 202.9 L1391.4 205.1 L1391.1 207.6 L1390.3 210.0 L1393.1 212.2 L1390.8 214.8 L1390.7 217.2 L1391.2 219.6 L1392.4 221.9 L1392.4 224.2 L1392.2 226.4 L1392.4 228.7 L1392.5 231.0 L1392.6 233.3 L1392.6 235.5 L1392.4 237.8 L1392.5 240.1 L1392.6 242.3 L1392.3 244.6 L1392.5 246.9 L1392.1 249.1 L1392.7 251.4 L1392.6 253.7 L1392.4 256.0 L1392.6 258.2 L1392.4 260.5 L1391.5 263.0 L1392.6 265.4 L1393.9 267.7 L1393.6 270.2 L1392.3 272.7 L1393.6 275.1 L1393.7 277.5 L1394.0 279.9 L1393.3 282.4 L1395.0 284.6 L1393.0 287.4 L1394.6 289.6 L1395.1 292.0 L1395.7 294.3 L1394.8 297.0 L1394.3 299.5 L1395.3 301.8 L1394.9 304.1 L1394.9 306.5 L1395.6 308.8 L1395.3 311.1 L1395.3 313.5 L1395.2 315.8 L1395.3 318.2 L1394.9 320.5 L1395.2 322.8 L1395.3 325.2 L1395.3 327.5 L1394.1 330.1 L1395.4 332.5 L1396.9 334.9 L1395.3 337.5 L1395.7 340.0 L1394.5 342.7 L1395.4 345.2 L1396.8 347.8 L1395.1 350.4 L1396.1 353.0 L1398.0 354.9 L1395.9 358.2 L1398.6 359.8 L1396.8 363.0 L1398.4 365.0 L1398.7 367.2 L1398.7 369.4 L1398.6 371.6 L1398.5 373.8 L1398.3 376.0 L1398.5 378.2 L1398.9 380.4 L1398.2 382.6 L1398.3 384.8 L1398.7 387.0 L1399.0 389.2 L1398.7 391.4 L1398.3 393.6 L1398.3 395.8 L1398.9 398.0 L1398.9 400.2 L1398.3 402.4 L1398.9 404.6 L1398.6 406.8 L1398.4 409.0 L1398.5 411.2 L1398.6 413.4 L1398.8 415.6 L1398.6 417.8 L1398.9 420.0 L1399.2 422.2 L1398.7 424.5 L1399.3 426.7 L1399.4 428.9 L1398.9 431.2 L1398.8 433.4 L1399.0 435.6 L1399.2 437.8 L1399.7 440.1 L1399.3 442.3 L1399.7 444.5 L1399.4 446.8 L1399.6 449.0 L1399.9 451.2 L1399.6 453.4 L1399.4 455.7 L1399.5 457.9 L1400.0 460.1 L1399.4 462.4 L1399.5 464.6 L1400.0 466.8 L1399.6 469.1 L1400.2 471.3 L1400.1 473.5 L1399.8 475.8 L1400.5 478.0 L1400.3 480.2 L1400.6 482.4 L1400.5 484.7 L1400.4 486.9 L1400.1 489.1 L1400.3 491.4 L1400.8 493.6 L1400.3 495.8 L1400.4 498.0 L1400.8 500.3 L1400.7 502.5 L1402.0 504.6 L1400.5 507.2 L1400.2 509.7 L1402.7 511.5 L1402.6 513.8 L1402.9 516.1 L1401.2 518.9 L1404.3 520.5 L1403.3 523.1 L1403.8 525.3 L1403.9 527.6 L1403.8 530.0 L1403.5 532.3 L1404.5 534.5 L1404.0 536.9 L1404.4 539.2 L1404.3 541.5 L1404.4 543.8 L1404.7 546.1 L1405.3 548.3 L1404.9 550.7 L1405.9 552.9 L1405.2 555.3 L1405.8 557.5 L1405.8 559.7 L1406.0 562.0 L1405.5 564.2 L1405.8 566.5 L1405.9 568.7 L1405.9 570.9 L1405.8 573.2 L1406.0 575.4 L1405.8 577.7 L1405.8 579.9 L1406.0 582.1 L1406.2 584.4 L1406.1 586.6 L1405.6 588.8 L1405.6 591.1 L1405.4 593.3 L1406.1 595.6 L1405.4 597.8 L1405.5 600.0 L1405.9 602.3 L1405.4 604.5 L1405.4 606.8 L1405.8 609.0 L1405.5 611.2 L1405.8 613.4 L1405.6 615.7 L1406.2 617.9 L1406.2 620.1 L1406.2 622.3 L1405.8 624.5 L1405.6 626.7 L1406.3 629.0 L1406.4 631.2 L1405.8 633.4 L1405.8 635.6 L1406.5 637.8 L1406.6 640.0 L1406.4 642.3 L1406.4 644.5 L1406.7 646.7 L1406.6 648.9 L1406.1 651.1 L1406.7 653.3 L1406.4 655.6 L1406.2 657.8 L1406.4 660.0 L1405.7 662.4 L1406.8 664.8 L1407.2 667.3 L1406.3 669.6 L1406.3 672.0 L1405.9 674.4 L1405.9 676.6 L1406.0 678.8 L1405.9 681.0 L1405.5 683.3 L1406.2 685.5 L1406.1 687.7 L1405.6 689.9 L1405.9 692.1 L1405.6 694.3 L1406.2 696.6 L1405.5 698.8 L1406.2 701.0 L1405.6 703.2 L1406.1 705.4 L1405.7 707.6 L1405.6 709.9 L1405.7 712.1 L1405.5 714.3 L1406.1 716.5 L1405.6 718.7 L1405.8 720.9 L1406.1 723.2 L1406.1 725.4 L1406.2 727.6 L1405.5 729.8 L1406.0 732.0 L1406.0 734.2 L1406.2 736.5 L1405.6 738.7 L1405.8 740.9 L1405.9 743.1 L1406.1 745.3 L1405.7 747.6 L1405.9 749.8 L1405.7 752.1 L1405.8 754.3 L1406.1 756.5 L1406.2 758.8 L1405.8 761.0 L1406.4 763.2 L1406.5 765.5 L1405.9 767.7 L1406.0 770.0 L1405.9 772.2 L1406.2 774.4 L1405.9 776.7 L1406.4 778.9 L1406.7 781.2 L1406.2 783.4 L1406.6 785.6 L1406.5 787.9 L1406.6 790.1 L1406.6 792.4 L1406.5 794.6 L1406.5 796.8 L1406.5 799.0 L1407.0 801.2 L1406.3 803.4 L1406.8 805.6 L1406.5 807.9 L1406.9 810.1 L1407.1 812.3 L1406.9 814.5 L1407.1 816.7 L1407.0 818.9 L1406.8 821.1 L1406.8 823.3 L1407.2 825.5 L1406.8 827.7 L1406.9 830.0 L1407.3 832.2 L1407.0 834.4 L1407.5 836.6 L1407.0 838.8 L1407.2 841.0 L1407.7 838.3 L1409.7 837.6 L1409.8 835.3 L1410.1 833.1 L1409.9 830.8 L1409.8 828.5 L1409.8 826.3 L1409.5 824.0 L1409.7 821.8 L1409.3 819.5 L1409.7 817.2 L1410.1 815.0 L1409.7 812.7 L1409.9 810.4 L1410.0 808.2 L1409.8 805.9 L1409.4 803.7 L1410.1 801.4 L1409.7 799.1 L1409.6 796.9 L1409.7 794.6 L1408.6 792.0 L1410.9 790.2 L1411.6 788.0 L1410.9 785.5 L1410.1 782.9 L1412.0 781.0 L1410.7 778.4 L1411.5 776.2 L1412.2 774.0 L1412.1 771.6 L1412.4 769.2 L1412.5 766.8 L1412.5 764.4 L1412.3 762.0 L1412.4 759.6 L1412.5 757.2 L1412.8 754.8 L1413.2 752.4 L1412.9 750.0 L1414.5 748.4 L1416.3 746.9 L1414.8 742.2 L1417.3 741.4 L1416.5 738.1 L1419.2 737.5 L1419.0 734.6 L1420.2 732.9 L1422.4 731.9 L1422.4 729.3 L1422.1 727.1 L1422.7 724.8 L1422.4 722.6 L1422.5 720.3 L1422.1 718.1 L1422.1 715.8 L1422.6 713.6 L1422.1 711.3 L1422.6 709.1 L1422.3 706.8 L1422.3 704.6 L1422.8 702.3 L1422.7 700.1 L1422.3 697.9 L1422.4 695.6 L1422.3 693.4 L1422.1 691.1 L1422.8 688.9 L1422.6 686.6 L1422.6 684.4 L1422.4 682.1 L1422.2 679.9 L1422.5 677.6 L1422.2 675.4 L1422.8 673.1 L1422.4 670.9 L1420.9 672.9 L1420.7 675.1 L1421.9 677.5 L1421.7 675.2 L1421.8 673.0 L1422.4 670.8 L1422.1 668.5 L1422.3 666.3 L1422.5 664.0 L1422.1 661.7 L1422.4 659.5 L1422.2 657.2 L1422.2 655.0 L1423.1 652.8 L1422.9 650.5 L1422.9 648.3 L1422.6 646.0 L1422.8 643.7 L1423.4 641.5 L1423.5 639.3 L1423.3 637.0 L1423.6 634.8 L1423.2 632.5 L1423.7 630.3 L1423.7 628.0 L1423.3 625.7 L1424.0 623.5 L1423.3 621.2 L1423.8 619.0 L1424.2 621.3 L1424.2 623.7 L1424.1 626.1 L1424.8 628.3 L1425.3 630.6 L1424.9 633.0 L1425.2 635.4 L1425.9 637.6 L1425.7 640.1 L1426.2 642.3 L1426.4 644.7 L1426.1 647.1 L1426.4 649.4 L1427.0 651.7 L1426.6 654.0 L1426.9 656.2 L1427.3 658.4 L1427.3 660.6 L1427.6 662.8 L1427.7 665.1 L1427.4 667.3 L1427.8 669.5 L1427.5 671.8 L1427.6 674.0 L1429.4 675.2 L1429.2 678.0 L1428.7 681.0 L1431.0 681.8 L1430.2 685.0 L1433.2 685.3 L1433.3 687.8 L1432.5 685.3 L1434.4 683.3 L1433.8 680.9 L1434.7 678.7 L1434.6 676.3 L1434.4 674.0 L1434.4 671.6 L1434.2 669.3 L1435.3 667.1 L1435.8 664.9 L1435.3 662.5 L1435.6 660.2 L1436.2 658.0 L1436.2 655.7 L1436.5 653.4 L1436.3 651.1 L1436.2 648.8 L1436.8 646.5 L1436.3 644.2 L1437.2 642.0 L1436.9 639.6 L1437.2 637.4 L1437.6 635.1 L1437.4 632.8 L1437.8 630.5 L1437.9 628.2 L1437.8 625.9 L1437.8 623.7 L1438.2 621.4 L1437.7 619.2 L1437.6 616.9 L1438.1 614.7 L1438.2 612.5 L1437.9 610.2 L1437.6 608.0 L1438.0 605.7 L1437.8 603.5 L1437.7 601.3 L1437.9 599.0 L1438.2 596.8 L1438.1 594.5 L1438.5 592.3 L1438.0 590.1 L1438.4 587.8 L1438.1 585.6 L1438.2 583.4 L1438.1 581.1 L1438.6 578.9 L1438.2 576.6 L1438.4 574.4 L1439.5 572.2 L1440.1 569.8 L1440.1 567.2 L1441.0 564.9 L1441.0 562.3 L1441.8 560.1 L1440.3 557.3 L1442.7 555.4 L1442.3 552.9 L1443.5 550.7 L1441.6 547.8 L1441.8 545.4 L1443.5 543.4 L1444.0 540.9 L1443.2 538.4 L1445.2 536.0 L1443.9 533.4 L1443.9 531.0 L1445.0 529.2 L1445.3 526.9 L1446.7 525.3 L1447.1 523.1 L1449.6 523.4 L1450.3 526.5 L1450.9 524.3 L1450.5 522.0 L1451.3 519.8 L1451.5 517.6 L1451.1 515.2 L1451.8 513.1 L1452.0 510.8 L1451.5 508.5 L1452.5 506.4 L1452.2 504.0 L1452.3 501.8 L1453.0 499.6 L1452.9 497.3 L1454.0 499.5 L1454.5 501.7 L1452.0 504.3 L1454.8 506.3 L1453.2 508.8 L1453.5 511.1 L1454.1 513.3 L1453.1 515.7 L1454.1 517.9 L1454.7 515.6 L1454.2 513.2 L1454.9 510.9 L1455.4 508.6 L1455.2 506.2 L1455.2 503.9 L1455.8 501.6 L1455.5 499.2 L1456.1 496.9 L1456.4 494.6 L1456.4 492.2 L1457.0 490.0 L1457.4 487.7 L1457.3 485.3 L1457.0 483.0 L1457.0 480.7 L1455.8 478.6 L1455.0 476.4 L1456.2 473.9 L1455.3 471.7 L1456.2 469.2 L1454.4 467.2 L1455.4 464.7 L1456.8 466.2 L1457.9 468.2 L1458.3 471.0 L1460.5 471.5 L1463.3 472.7 L1463.0 476.7 L1462.3 479.6 L1465.2 481.1 L1463.2 484.4 L1464.1 486.7 L1465.6 488.7 L1465.3 491.0 L1465.3 493.3 L1466.0 495.6 L1465.7 497.9 L1465.6 500.2 L1465.8 502.5 L1465.5 504.7 L1465.3 507.0 L1465.9 509.3 L1465.8 511.6 L1465.3 513.9 L1465.6 516.2 L1466.5 518.3 L1467.7 520.2 L1465.9 523.1 L1467.7 524.9 L1467.2 527.3 L1469.2 529.1 L1468.1 531.7 L1468.3 534.2 L1467.9 536.9 L1469.4 539.0 L1470.0 541.4 L1469.1 544.2 L1470.2 546.5 L1470.7 548.9 L1470.9 551.1 L1471.3 553.3 L1471.1 555.6 L1471.1 557.9 L1472.1 560.0 L1472.0 562.3 L1471.9 564.5 L1472.5 566.7 L1472.1 569.0 L1472.6 571.2 L1472.8 573.5 L1472.7 575.7 L1472.5 577.9 L1472.7 580.2 L1472.0 582.4 L1472.3 584.7 L1472.3 586.9 L1472.1 589.2 L1471.9 591.4 L1472.0 593.7 L1471.9 595.9 L1471.8 598.1 L1471.9 600.4 L1472.1 602.7 L1472.4 605.0 L1472.8 607.2 L1471.3 609.4 L1472.0 611.7 L1470.4 614.0 L1472.2 616.3 L1470.8 618.5 L1471.5 620.8 L1471.6 618.6 L1471.4 616.3 L1471.8 614.1 L1472.1 611.9 L1472.3 609.6 L1472.1 607.3 L1472.1 605.1 L1472.2 602.8 L1472.7 600.6 L1472.7 598.4 L1472.7 600.6 L1472.6 602.9 L1473.0 605.1 L1473.2 607.3 L1472.9 609.5 L1473.1 611.7 L1473.1 614.0 L1473.7 616.2 L1473.2 618.4 L1473.6 620.6 L1473.5 622.9 L1474.0 625.1 L1474.2 627.3 L1474.2 629.5 L1474.3 631.7 L1474.3 634.0 L1474.1 636.2 L1474.4 633.9 L1474.2 631.6 L1473.9 629.3 L1474.7 627.0 L1474.3 624.7 L1474.5 622.5 L1474.6 620.2 L1474.4 617.9 L1474.8 615.6 L1475.0 613.3 L1474.5 611.0 L1474.7 608.7 L1474.9 611.0 L1474.9 613.3 L1474.6 615.7 L1475.0 618.0 L1475.4 620.3 L1475.5 622.6 L1475.1 625.0 L1475.6 627.3 L1475.1 629.6 L1475.3 631.9 L1475.7 634.2 L1475.9 636.6 L1475.5 638.9 L1476.0 641.2 L1475.4 643.6 L1475.8 645.9 L1475.9 648.2 L1475.8 645.9 L1476.3 643.7 L1476.2 641.5 L1476.3 639.2 L1476.4 637.0 L1476.2 634.7 L1475.9 632.4 L1476.1 630.2 L1476.8 628.0 L1476.6 625.7 L1476.1 623.4 L1476.3 621.2 L1476.3 618.9 L1476.5 616.7 L1476.9 614.5 L1476.8 612.2 L1475.9 615.4 L1477.3 618.0 L1477.9 620.8 L1478.0 623.0 L1477.0 625.4 L1479.5 627.2 L1477.4 629.8 L1478.3 631.9 L1479.7 633.9 L1479.1 636.2 L1480.0 634.0 L1478.5 631.5 L1479.8 629.4 L1479.6 627.0 L1478.7 624.6 L1481.3 622.6 L1479.3 620.1 L1479.9 617.8 L1480.4 615.6 L1480.2 618.0 L1481.5 620.1 L1482.3 622.2 L1481.9 624.6 L1481.9 627.0 L1481.7 629.3 L1482.1 626.9 L1481.9 624.5 L1482.3 622.1 L1481.8 619.7 L1482.5 617.3 L1482.7 614.9 L1482.8 612.5 L1482.3 610.1 L1482.2 607.7 L1482.7 605.3 L1483.8 602.6 L1483.1 599.5 L1483.6 596.7 L1483.6 599.0 L1484.1 601.3 L1483.5 603.7 L1484.1 606.0 L1483.7 608.4 L1484.6 610.6 L1484.4 613.0 L1484.4 615.3 L1484.5 617.6 L1484.8 620.0 L1484.2 622.3 L1484.7 624.6 L1484.4 627.0 L1484.9 629.3 L1486.7 625.9 L1486.9 628.3 L1486.8 630.7 L1487.0 633.1 L1487.6 635.5 L1487.2 638.0 L1487.3 640.4 L1487.5 642.8 L1487.8 645.2 L1488.3 647.6 L1488.1 650.0 L1489.6 648.1 L1490.4 645.9 L1489.3 643.1 L1490.9 645.3 L1491.3 647.7 L1490.4 650.4 L1489.7 653.1 L1490.9 655.4 L1490.0 658.0 L1491.3 660.3 L1491.7 657.9 L1491.6 655.5 L1491.7 653.1 L1491.9 650.7 L1491.8 648.2 L1491.8 645.8 L1492.5 643.5 L1492.1 641.0 L1492.7 638.6 L1492.5 636.2 L1492.8 638.5 L1492.4 641.0 L1492.6 643.3 L1492.6 645.7 L1493.1 648.0 L1494.4 650.0 L1495.3 652.5 L1494.1 655.4 L1494.3 658.0 L1495.7 660.3 L1495.9 657.9 L1495.6 655.5 L1496.4 653.1 L1496.3 650.7 L1496.1 648.2 L1496.1 645.8 L1496.6 643.4 L1496.6 641.0 L1496.5 638.6 L1496.7 636.2 L1498.0 634.1 L1498.4 631.8 L1497.7 629.4 L1498.3 627.2 L1497.7 624.8 L1497.6 622.5 L1497.8 624.7 L1497.4 626.9 L1497.5 629.1 L1497.4 631.3 L1497.9 633.5 L1497.4 635.7 L1497.6 637.9 L1497.6 640.1 L1497.6 642.3 L1497.9 644.5 L1497.6 646.7 L1497.6 648.9 L1497.6 651.1 L1497.9 653.3 L1498.3 655.5 L1498.2 657.7 L1498.3 659.9 L1498.3 662.1 L1498.2 664.3 L1498.0 666.5 L1497.7 668.7 L1498.5 670.9 L1497.8 673.1 L1498.2 675.3 L1498.2 677.5 L1500.3 676.9 L1501.4 675.3 L1500.8 671.8 L1503.0 671.4 L1503.3 668.9 L1503.6 671.8 L1506.1 672.6 L1505.2 676.7 L1507.8 677.5 L1509.2 675.3 L1506.8 672.3 L1509.7 670.3 L1508.5 667.6 L1510.5 665.5 L1508.1 662.5 L1509.7 660.3 L1510.1 658.1 L1510.0 655.9 L1510.0 653.6 L1510.3 651.4 L1510.7 649.2 L1510.5 647.0 L1510.7 644.7 L1511.2 642.6 L1511.3 640.3 L1510.9 638.0 L1511.3 635.8 L1511.4 633.6 L1511.4 631.4 L1511.5 629.1 L1511.6 626.9 L1511.8 624.7 L1512.2 622.5 L1512.1 620.2 L1511.8 617.8 L1513.3 615.7 L1511.6 613.2 L1512.2 611.0 L1514.4 608.9 L1513.4 606.5 L1512.4 604.1 L1513.5 601.9 L1515.2 600.2 L1513.1 596.5 L1514.8 594.7 L1514.8 592.1 L1516.4 590.2 L1517.3 588.1 L1517.6 590.3 L1517.4 592.6 L1518.0 594.7 L1517.9 596.9 L1518.1 599.1 L1519.1 601.2 L1519.3 603.4 L1518.9 605.7 L1519.6 607.8 L1519.7 610.0 L1519.9 612.2 L1519.8 614.5 L1520.1 616.8 L1519.8 619.1 L1520.6 621.3 L1520.5 623.6 L1520.7 625.9 L1520.6 628.2 L1520.1 630.5 L1521.0 632.8 L1520.7 635.1 L1521.0 637.3 L1520.7 639.7 L1521.2 641.9 L1520.8 644.2 L1521.1 646.5 L1521.4 644.3 L1522.1 642.2 L1521.6 639.9 L1522.3 637.8 L1522.9 635.7 L1522.9 633.4 L1523.1 631.2 L1523.8 629.1 L1524.0 626.9 L1524.3 624.7 L1524.3 622.5 L1524.4 620.2 L1524.5 618.0 L1524.8 615.8 L1527.4 614.4 L1524.9 611.3 L1525.5 609.2 L1527.5 607.6 L1527.5 605.3 L1530.0 605.2 L1531.6 603.9 L1531.7 600.6 L1532.6 598.4 L1534.9 597.5 L1534.2 593.9 L1535.7 592.3 L1537.6 591.0 L1537.7 588.1 L1537.2 585.3 L1539.6 583.9 L1539.3 581.1 L1538.7 578.2 L1540.4 576.4 L1541.5 574.4 L1543.9 573.9 L1545.8 572.5 L1546.6 569.2 L1547.1 566.6 L1547.2 564.0 L1546.2 561.5 L1546.6 558.9" stroke="#2a00ff" stroke-width="4.6"/>
<path d="M103.9 1212.1 L106.7 1212.0 L108.0 1210.0 L106.3 1204.5 L109.0 1204.3 L108.4 1201.3 L111.8 1201.3 L112.3 1199.0 L112.9 1196.9 L112.4 1194.0 L114.3 1192.8 L114.7 1190.6 L115.0 1193.0 L115.7 1195.1 L117.8 1196.6 L117.5 1199.3 L118.3 1201.4 L117.8 1204.2 L119.2 1206.0 L122.0 1207.6 L123.5 1206.0 L124.1 1202.4 L125.6 1200.9 L127.4 1201.7 L129.5 1201.7 L130.7 1204.3 L129.8 1201.0 L130.6 1198.6 L132.8 1197.0 L133.1 1194.3 L134.4 1192.3 L134.8 1194.5 L134.5 1196.9 L135.0 1199.1 L135.2 1201.3 L135.7 1203.5 L136.1 1205.8 L136.0 1208.1 L136.4 1210.3 L136.2 1212.6 L136.0 1214.9 L136.5 1217.1 L137.1 1219.3 L136.7 1221.7 L137.0 1223.9 L137.2 1226.2 L137.6 1228.4 L139.8 1227.2 L140.1 1224.7 L141.0 1222.6 L140.8 1219.8 L141.3 1222.0 L141.0 1224.4 L141.3 1226.6 L142.4 1228.6 L142.2 1231.0 L142.5 1233.2 L143.1 1235.4 L143.3 1237.6 L143.7 1239.9 L144.0 1242.1 L146.2 1245.2 L148.4 1242.1 L149.1 1244.4 L148.6 1247.3 L150.9 1248.9 L149.7 1252.1 L150.3 1254.5 L152.4 1256.1 L153.0 1258.5 L153.3 1256.2 L153.9 1254.0 L154.0 1251.7 L154.1 1249.4 L154.2 1247.1 L154.5 1244.8 L155.2 1242.6 L155.0 1240.2 L155.9 1238.1 L155.6 1235.7 L156.1 1233.5 L157.7 1231.4 L156.2 1228.6 L158.5 1226.8 L158.0 1224.2 L157.7 1221.7 L158.1 1219.3 L158.8 1217.1 L158.7 1214.6 L159.0 1212.4 L159.1 1210.2 L159.3 1208.0 L159.8 1205.9 L160.5 1203.8 L160.5 1201.5 L160.3 1199.2 L161.3 1197.2 L161.5 1195.0 L161.9 1192.9 L161.9 1190.6 L163.9 1191.1 L163.2 1194.9 L165.0 1195.7 L164.3 1192.5 L167.0 1191.4 L166.5 1188.4 L167.1 1186.0 L170.0 1185.0 L169.5 1182.0 L171.2 1183.9 L170.2 1186.6 L169.6 1189.2 L172.0 1190.9 L172.5 1193.1 L172.0 1195.7 L174.6 1197.0 L175.4 1193.1 L177.7 1193.8 L179.0 1191.4 L177.8 1189.0 L178.8 1186.7 L178.4 1184.4 L179.9 1182.1 L178.3 1179.7 L180.8 1177.5 L179.6 1175.1 L179.8 1171.2 L183.1 1173.8 L182.7 1168.6 L185.4 1170.0 L185.4 1167.3 L188.2 1166.8 L186.7 1163.0 L187.7 1161.1 L190.3 1160.4 L190.4 1157.9 L190.5 1155.6 L190.4 1153.3 L191.5 1151.2 L190.9 1148.9 L191.0 1146.6 L191.5 1144.4 L191.9 1142.2 L192.3 1140.0 L191.9 1137.6 L192.3 1135.4 L192.2 1133.1 L192.8 1130.9 L193.0 1128.7 L192.6 1131.3 L193.1 1133.6 L193.0 1136.0 L193.9 1138.2 L194.0 1140.6 L195.6 1142.5 L195.8 1140.3 L195.7 1138.1 L195.5 1135.8 L196.0 1133.6 L195.8 1131.4 L195.7 1129.1 L196.0 1126.9 L196.5 1124.7 L195.9 1122.5 L196.4 1120.3 L196.3 1118.0 L196.5 1115.8 L196.2 1113.6 L197.0 1111.4 L196.5 1109.1 L196.8 1106.9 L196.8 1104.7 L197.8 1106.7 L199.9 1108.1 L198.8 1111.4 L201.0 1112.8 L202.0 1114.8 L202.8 1116.9 L201.9 1120.1 L202.3 1122.3 L202.4 1124.6 L202.0 1126.8 L202.1 1129.1 L201.8 1131.3 L201.9 1133.6 L201.9 1135.8 L202.6 1138.1 L202.4 1140.3 L202.6 1142.6 L202.4 1144.8 L202.4 1147.1 L202.6 1149.3 L203.0 1147.1 L203.1 1144.9 L202.9 1142.6 L203.3 1140.4 L203.5 1138.2 L203.3 1135.9 L203.5 1133.6 L204.0 1131.4 L203.9 1129.2 L204.4 1127.0 L205.5 1124.7 L204.4 1121.9 L204.3 1119.3 L204.9 1116.9 L205.5 1114.5 L205.8 1112.0 L207.0 1109.8 L207.7 1107.3 L208.2 1104.6 L208.3 1101.8 L209.6 1099.5 L208.1 1101.1 L208.6 1104.4 L205.2 1104.3 L204.0 1106.1 L204.6 1109.6 L206.4 1108.3 L206.4 1105.3 L207.7 1103.5 L209.0 1101.6 L209.7 1099.3 L208.6 1096.4 L210.1 1094.1 L210.7 1091.6 L211.0 1089.0 L211.2 1085.6 L212.1 1083.0 L214.8 1082.1 L216.9 1081.0 L216.4 1077.6 L217.9 1076.0 L220.3 1075.2 L219.9 1071.8 L220.0 1069.6 L219.9 1067.3 L220.6 1065.1 L220.2 1062.8 L220.0 1060.5 L220.6 1058.3 L220.2 1056.0 L220.5 1053.8 L221.1 1051.6 L221.0 1049.4 L220.6 1047.1 L221.0 1044.8 L221.2 1042.6 L221.2 1040.4 L221.4 1038.2 L221.2 1036.0 L221.6 1033.8 L221.3 1031.5 L221.5 1029.3 L221.7 1027.1 L222.3 1025.0 L221.6 1022.7 L222.3 1020.5 L221.9 1018.3 L222.3 1016.1 L222.3 1013.9 L222.4 1011.7 L222.5 1009.4 L222.8 1007.2 L222.6 1004.9 L222.4 1002.6 L222.5 1000.4 L222.5 998.1 L223.2 995.9 L223.1 993.6 L223.4 991.4 L223.3 989.1 L222.8 986.8 L223.4 984.5 L223.5 982.3 L223.6 980.0 L223.4 977.8 L223.4 975.5 L223.5 973.2 L223.9 971.0 L223.7 968.7 L225.0 965.7 L227.5 965.3 L227.4 967.5 L227.4 969.7 L226.9 971.9 L226.9 974.2 L226.8 976.4 L226.8 978.6 L227.1 980.9 L227.1 983.1 L226.8 985.3 L226.9 987.5 L226.7 989.8 L226.4 992.0 L226.2 994.2 L226.4 996.4 L226.1 998.6 L226.6 1000.9 L226.2 1003.1 L226.6 1005.4 L226.3 1007.8 L227.3 1009.9 L227.3 1012.3 L227.9 1014.5 L228.1 1016.8 L227.7 1019.2 L227.8 1021.5 L228.4 1023.8 L229.1 1026.0 L229.2 1028.3 L229.5 1030.6 L229.4 1032.9 L229.7 1035.2 L230.1 1037.5 L230.4 1039.7 L230.6 1041.9 L231.2 1044.0 L231.1 1046.3 L231.0 1048.6 L231.5 1050.8 L232.3 1052.9 L232.2 1055.2 L232.3 1057.4 L233.0 1059.5 L232.7 1061.9 L233.3 1064.0 L233.4 1066.2 L233.9 1068.4 L234.0 1066.2 L234.7 1064.1 L234.7 1061.8 L234.7 1059.6 L234.5 1057.3 L234.9 1055.1 L234.7 1052.9 L235.4 1050.8 L235.9 1048.6 L235.4 1046.3 L235.9 1044.1 L236.1 1041.9 L236.2 1039.7 L236.4 1037.5 L236.7 1035.2 L236.9 1032.9 L236.8 1030.6 L236.7 1028.3 L237.2 1026.0 L236.7 1023.7 L237.1 1021.5 L237.1 1019.2 L237.3 1016.9 L237.4 1014.6 L237.0 1012.2 L237.4 1010.0 L237.3 1007.7 L237.6 1005.4 L237.9 1003.1 L237.7 1000.8 L237.2 998.5 L237.7 996.2 L237.9 994.0 L238.3 991.8 L238.6 989.6 L238.6 987.4 L238.9 985.2 L238.4 982.9 L239.4 980.8 L239.3 978.6 L239.4 976.3 L239.9 974.2 L240.0 972.0 L239.5 969.7 L240.3 967.5 L240.2 965.3 L240.2 967.6 L240.9 969.8 L240.7 972.2 L241.0 974.5 L241.6 976.7 L241.2 979.1 L242.1 981.3 L241.9 983.7 L242.2 985.9 L242.6 988.2 L242.5 990.5 L242.8 992.8 L242.9 990.6 L242.7 988.3 L243.4 986.2 L242.8 983.9 L242.8 981.7 L243.2 979.5 L243.6 977.3 L243.5 975.0 L243.7 972.8 L243.5 970.6 L243.8 968.4 L243.6 966.1 L243.6 963.9 L243.9 961.7 L243.5 959.4 L243.6 957.2 L244.1 955.0 L245.9 956.8 L247.6 952.7 L249.4 956.8 L251.2 957.0 L253.0 955.0 L254.7 955.2 L255.8 957.8 L257.2 959.4 L259.3 958.4 L259.1 960.7 L259.9 963.0 L259.9 965.3 L259.9 967.6 L259.9 969.9 L260.1 972.1 L260.5 974.4 L260.1 976.7 L259.9 979.1 L260.5 981.3 L260.5 983.6 L260.6 985.9 L261.0 983.6 L261.6 981.4 L262.5 979.4 L262.4 976.9 L263.3 974.8 L263.6 972.5 L264.2 970.3 L265.1 968.2 L264.8 965.7 L265.7 963.6 L267.4 961.9 L266.3 958.7 L268.1 957.0 L269.2 954.9 L269.4 952.4 L269.1 949.7 L271.3 948.2 L269.4 944.6 L271.4 943.0 L271.9 945.3 L272.7 947.4 L273.1 949.7 L273.4 952.1 L274.0 954.3 L274.7 956.4 L275.6 958.5 L276.3 960.7 L276.7 963.0 L277.2 965.3 L278.3 967.4 L278.4 969.7 L276.6 972.5 L279.5 974.2 L277.6 977.0 L279.2 979.0 L279.6 981.2 L280.0 983.5 L279.7 985.9 L280.1 988.2 L279.9 990.5 L280.2 992.8 L280.1 995.1 L280.3 997.4 L279.9 999.7 L279.9 1002.0 L280.4 1004.2 L280.3 1006.5 L280.2 1008.9 L280.8 1011.1 L281.0 1013.4 L281.0 1015.7 L281.1 1018.0 L281.0 1020.3 L281.4 1022.7 L283.4 1023.3 L284.5 1024.9 L284.1 1028.3 L286.1 1028.9 L286.6 1031.1 L286.4 1033.4 L286.9 1035.6 L287.4 1037.8 L287.4 1040.1 L288.1 1042.2 L288.0 1044.6 L288.2 1046.8 L288.9 1049.0 L289.3 1051.2 L289.4 1048.9 L289.5 1046.5 L289.3 1044.2 L289.3 1041.9 L289.4 1039.6 L289.4 1037.2 L289.2 1034.9 L289.3 1032.6 L288.7 1030.3 L289.0 1028.0 L289.0 1025.6 L288.7 1023.3 L288.7 1021.0 L288.4 1018.7 L289.0 1016.3 L288.5 1014.0 L288.6 1011.7 L290.2 1012.8 L290.8 1016.5 L294.2 1013.7 L295.0 1016.8 L297.6 1017.6 L296.4 1012.1 L297.4 1010.2 L299.6 1010.3 L300.9 1008.9 L302.6 1008.2 L304.3 1006.4 L304.6 1004.2 L304.5 1001.9 L303.9 999.3 L304.6 997.2 L304.0 994.7 L305.2 992.8 L307.1 991.7 L306.4 988.6 L306.8 986.4 L308.8 985.4 L307.9 982.2 L309.3 980.7 L312.2 980.3 L311.5 977.3 L311.3 974.9 L311.4 972.6 L311.6 970.2 L311.8 967.9 L312.0 965.6 L312.0 963.2 L312.2 960.9 L312.2 958.5 L312.4 956.2 L312.8 953.9 L312.8 951.5 L314.5 950.3 L316.2 950.6 L317.9 951.5 L318.9 949.3 L317.0 946.7 L317.4 944.5 L319.8 942.5 L318.7 940.0 L320.0 937.9 L318.3 935.3 L319.6 933.2 L319.8 930.9 L320.1 928.7 L319.7 926.5 L320.1 924.3 L320.1 922.1 L319.9 919.9 L320.5 917.7 L320.0 915.4 L320.1 913.2 L320.3 911.0 L320.1 908.8 L320.6 906.6 L320.4 904.4 L320.5 902.2 L320.4 900.0 L321.0 897.9 L323.0 896.3 L323.5 894.2 L323.5 891.8 L322.7 889.2 L323.0 887.0 L323.8 885.0 L324.2 882.8 L326.5 884.0 L327.0 886.3 L324.7 890.3 L328.4 890.6 L326.3 894.5 L327.9 896.1 L327.9 898.7 L330.0 900.0 L330.7 902.2 L330.8 904.5 L330.6 906.9 L331.6 909.1 L331.8 911.4 L331.9 913.7 L332.4 916.0 L332.7 918.3 L332.5 920.7 L333.3 922.8 L332.8 925.3 L333.4 927.6 L334.3 929.7 L333.8 932.2 L334.4 934.4 L334.9 936.6 L334.8 938.8 L334.9 941.0 L335.5 943.2 L335.3 945.4 L335.9 947.6 L336.0 949.8 L335.5 952.1 L335.8 954.3 L336.2 956.5 L336.3 958.7 L336.3 960.9 L337.1 963.0 L337.0 965.3 L337.0 967.5 L337.3 969.8 L337.3 972.0 L337.3 974.2 L337.2 976.5 L337.3 978.7 L337.2 980.9 L337.1 983.1 L336.9 985.4 L337.0 987.6 L337.7 985.5 L338.1 983.3 L338.3 981.0 L338.5 978.7 L339.3 976.6 L339.0 974.1 L339.3 971.9 L340.3 969.9 L340.6 967.6 L340.8 965.3 L341.4 967.4 L341.5 969.7 L341.8 971.9 L342.0 974.1 L342.2 976.3 L342.5 978.5 L342.4 980.8 L342.7 983.0 L343.2 985.2 L343.5 987.4 L344.0 989.5 L343.8 991.8 L343.9 994.1 L344.6 996.2 L344.8 998.4 L344.4 1000.6 L344.4 1002.9 L344.5 1005.1 L345.0 1007.3 L344.6 1009.5 L344.8 1011.8 L344.8 1014.0 L344.5 1016.2 L344.5 1018.4 L344.5 1020.7 L344.4 1022.9 L344.4 1025.1 L344.6 1027.3 L345.0 1029.6 L344.4 1031.8 L344.6 1034.0 L346.2 1032.3 L346.8 1030.1 L346.6 1027.5 L345.3 1024.5 L346.3 1022.5 L346.6 1020.2 L348.4 1018.6 L348.8 1016.4 L348.9 1014.1 L348.7 1011.8 L349.6 1009.6 L349.8 1007.4 L350.0 1005.1 L349.8 1002.8 L349.8 1000.5 L349.9 998.3 L350.7 996.1 L350.8 993.8 L350.6 991.5 L351.0 989.3 L350.9 991.6 L351.4 993.7 L351.9 995.8 L352.1 998.0 L352.1 1000.2 L352.6 1002.3 L352.7 1004.5 L353.5 1006.6 L353.2 1008.9 L353.9 1011.0 L353.5 1013.3 L354.5 1015.3 L354.6 1017.5 L354.7 1019.7 L355.1 1021.9 L355.2 1024.1 L355.1 1026.3 L356.1 1028.4 L356.1 1030.6 L356.6 1028.4 L356.8 1026.0 L357.1 1023.8 L357.0 1021.4 L357.3 1019.1 L357.4 1016.8 L357.8 1014.5 L357.9 1012.2 L358.1 1009.9 L358.6 1007.7 L358.6 1005.3 L359.1 1003.1 L359.4 1000.8 L359.4 998.5 L359.9 996.2 L360.4 998.4 L360.3 1000.7 L360.3 1003.0 L361.1 1005.1 L361.0 1007.4 L361.3 1009.7 L361.3 1012.0 L361.8 1014.2 L362.4 1016.3 L362.4 1018.6 L364.9 1017.1 L366.3 1022.1 L368.8 1020.3 L369.9 1022.2 L371.4 1024.0 L369.0 1027.2 L371.7 1028.5 L371.8 1030.8 L372.2 1033.0 L372.9 1035.0 L372.6 1037.5 L372.3 1039.7 L372.5 1042.0 L372.3 1044.2 L372.2 1046.4 L371.7 1048.6 L372.3 1050.9 L371.6 1053.1 L371.9 1055.4 L371.8 1057.6 L371.3 1059.8 L371.4 1062.2 L371.7 1064.6 L372.1 1067.0 L371.8 1069.4 L371.6 1071.8 L372.0 1074.2 L372.2 1076.6 L372.1 1079.0 L372.1 1081.4 L372.6 1083.8 L372.2 1080.7 L373.4 1078.6 L376.5 1077.5 L377.1 1075.1 L376.4 1071.8 L377.0 1073.9 L376.8 1076.3 L376.9 1078.5 L377.4 1080.6 L377.6 1082.9 L378.0 1085.0 L378.6 1087.2 L378.9 1089.4 L379.3 1091.6 L379.0 1093.9 L379.7 1096.0 L379.6 1098.3 L380.1 1100.5 L380.2 1102.7 L380.4 1100.3 L382.6 1098.7 L381.2 1095.7 L381.9 1093.5 L382.0 1091.1 L382.8 1089.0 L383.5 1091.1 L383.8 1093.2 L383.9 1095.5 L384.0 1097.7 L385.1 1099.6 L384.7 1102.0 L385.3 1104.1 L386.3 1106.1 L386.0 1108.4 L386.6 1110.5 L387.0 1108.2 L388.2 1106.5 L387.6 1103.4 L389.8 1102.4 L390.6 1100.4 L392.3 1099.0 L392.4 1096.4 L393.0 1094.2 L393.2 1092.0 L393.3 1089.7 L392.9 1087.5 L392.8 1085.2 L393.2 1083.0 L393.0 1080.7 L393.1 1078.5 L393.3 1076.2 L393.5 1074.0 L393.6 1071.8 L393.7 1069.5 L394.0 1067.3 L393.3 1065.0 L393.8 1062.8 L393.4 1060.5 L394.0 1058.3 L393.8 1056.1 L393.7 1053.8 L393.8 1051.6 L394.2 1049.3 L394.1 1047.1 L394.5 1044.9 L394.2 1042.6 L394.7 1044.8 L395.1 1047.0 L395.0 1049.4 L395.7 1051.6 L396.5 1053.6 L396.3 1056.1 L397.0 1058.2 L396.9 1060.6 L397.6 1062.7 L398.1 1064.9 L397.7 1067.7 L398.0 1070.2 L399.9 1071.8 L399.0 1074.9 L402.8 1075.6 L401.9 1078.7 L402.8 1081.0 L401.6 1083.9 L404.7 1085.5 L403.0 1088.6 L402.4 1091.4 L404.4 1093.3 L406.2 1092.2 L407.8 1090.8 L406.2 1086.2 L408.8 1086.0 L410.1 1084.4 L410.8 1082.1 L412.6 1081.4 L414.4 1081.0 L416.4 1083.4 L417.9 1078.7 L419.7 1077.6 L421.8 1081.3 L423.6 1080.4 L421.5 1077.3 L419.7 1078.5 L417.9 1081.0 L419.5 1082.5 L421.5 1080.1 L423.0 1081.9 L424.1 1079.5 L421.8 1077.1 L422.4 1074.7 L423.8 1072.3 L424.1 1070.0 L422.8 1067.6 L424.1 1065.2 L422.0 1062.8 L423.0 1060.4 L423.6 1058.0 L422.3 1055.2 L423.0 1052.9 L423.2 1050.4 L422.9 1047.8 L424.3 1045.6 L424.9 1043.2 L425.3 1041.0 L425.1 1038.5 L426.7 1036.8 L425.3 1033.9 L427.2 1032.2 L427.7 1030.0 L428.1 1027.8 L428.4 1030.0 L428.2 1032.3 L429.2 1034.3 L429.2 1036.6 L429.5 1038.8 L429.8 1041.0 L429.6 1043.3 L430.2 1045.5 L430.5 1047.7 L430.9 1049.9 L431.2 1052.1 L431.0 1054.4 L431.4 1056.6 L431.9 1058.7 L432.8 1056.6 L431.7 1053.7 L433.5 1051.9 L432.4 1049.1 L433.5 1047.0 L434.4 1044.9 L433.2 1042.4 L435.5 1040.4 L436.5 1038.3 L435.7 1035.8 L435.7 1033.5 L435.0 1031.0 L435.8 1028.8 L436.1 1026.6 L436.4 1024.3 L436.6 1022.1 L436.7 1019.9 L437.0 1017.7 L437.8 1015.6 L438.2 1013.5 L438.4 1011.3 L438.5 1009.1 L438.2 1006.7 L438.8 1004.6 L439.6 1002.6 L439.6 1000.3 L442.0 999.4 L441.3 996.3 L442.1 994.3 L443.3 992.5 L443.4 990.0 L443.3 987.6 L443.8 985.3 L443.6 983.0 L444.2 980.6 L443.9 978.3 L444.2 975.9 L444.3 973.6 L444.4 971.2 L444.4 968.9 L444.9 966.6 L444.7 964.2 L446.5 962.8 L446.3 959.7 L447.5 957.8 L448.4 955.6 L449.0 953.4 L449.1 951.1 L449.3 948.9 L449.8 946.7 L449.3 944.3 L450.0 942.1 L450.2 939.8 L450.3 937.5 L451.0 935.4 L451.3 933.1 L451.0 930.8 L451.4 928.5 L451.8 926.3 L452.0 924.0 L451.9 921.7 L452.3 919.5 L451.7 922.2 L453.5 924.3 L454.5 926.6 L453.2 929.5 L453.6 931.9 L454.7 934.2 L454.8 936.7 L455.4 939.0 L454.3 942.0 L455.5 944.0 L457.4 945.7 L456.3 948.8 L458.0 950.5 L459.1 952.6 L458.9 955.2 L459.9 957.3 L460.2 955.0 L460.4 952.7 L460.3 950.4 L460.4 948.2 L460.3 945.9 L460.0 943.6 L460.5 941.3 L460.3 939.0 L461.1 936.7 L460.7 934.4 L460.9 932.2 L461.1 929.9 L460.7 927.6 L461.4 925.3 L461.2 923.0 L461.1 920.5 L460.7 917.9 L462.8 916.2 L462.6 913.7 L464.7 912.0 L463.6 909.1 L462.9 906.5 L463.1 904.1 L465.0 902.3 L466.1 905.0 L464.3 906.8 L463.2 908.9 L464.9 911.8 L463.6 913.8 L462.7 915.9 L461.0 917.8 L460.4 920.0 L461.5 922.7 L462.2 920.6 L462.4 918.3 L462.7 916.0 L462.7 913.7 L463.5 911.6 L463.4 909.2 L463.9 907.0 L464.8 905.0 L464.9 902.7 L465.3 900.4 L465.6 898.2 L465.5 895.9 L465.4 893.7 L465.8 891.5 L466.0 889.3 L465.8 887.0 L466.4 884.8 L466.7 882.6 L466.1 880.3 L466.5 878.1 L466.5 875.7 L467.2 873.5 L467.3 871.1 L467.0 868.7 L467.5 866.4 L467.4 864.1 L468.1 861.8 L468.1 859.4 L468.2 857.1 L468.1 854.7 L468.5 852.4 L468.7 850.1 L468.8 847.7 L469.1 845.4 L468.7 843.1 L468.6 840.8 L468.9 838.4 L469.0 836.0 L468.8 833.7 L468.5 831.4 L468.5 829.0 L467.8 826.7 L467.8 824.4 L468.1 822.0 L467.8 819.7 L467.4 817.5 L467.6 815.3 L468.2 813.1 L467.8 810.9 L467.9 808.7 L468.1 806.5 L468.6 804.3 L468.0 802.1 L468.8 799.9 L468.4 797.7 L468.7 795.5 L468.6 793.3 L468.4 791.1 L469.2 788.9 L468.6 786.7 L469.2 784.5 L469.4 782.3 L469.1 780.1 L470.9 778.1 L472.9 776.7 L472.8 779.1 L473.9 781.3 L474.1 783.7 L474.1 786.1 L474.7 788.3 L474.3 790.8 L474.9 793.1 L474.9 795.5 L475.7 797.8 L476.2 800.1 L476.1 802.5 L476.8 800.4 L476.5 798.0 L477.0 795.9 L477.1 793.6 L477.9 791.6 L478.1 789.3 L478.2 787.1 L478.4 784.8 L479.1 782.7 L479.8 780.7 L479.9 778.4 L481.6 780.2 L481.9 782.6 L481.1 785.5 L481.6 787.8 L481.6 790.3 L483.1 792.2 L483.9 790.0 L484.9 787.9 L483.1 785.0 L485.9 783.4 L483.4 780.3 L484.0 778.1 L484.3 775.8 L486.8 774.0 L486.3 771.5 L487.8 773.3 L488.0 777.0 L490.7 776.7 L490.5 779.0 L490.7 781.3 L491.2 783.5 L491.6 785.7 L491.3 788.0 L491.7 790.2 L492.4 792.4 L492.2 794.7 L492.9 796.8 L493.1 799.1 L492.7 801.4 L492.9 803.7 L493.3 805.9 L493.2 808.2 L493.6 810.4 L494.4 812.4 L494.1 814.8 L494.2 817.0 L494.7 819.2 L495.2 821.3 L495.6 823.5 L496.1 825.7 L495.9 828.0 L495.9 830.3 L496.9 832.3 L496.5 834.7 L497.1 836.8 L497.7 834.7 L497.5 832.4 L498.2 830.3 L497.8 828.0 L498.2 825.8 L498.7 823.6 L499.2 821.5 L499.1 819.3 L499.0 817.0 L500.0 814.9 L499.9 812.7 L500.3 810.5 L500.1 808.2 L500.4 806.0 L500.4 803.8 L500.8 801.6 L501.3 799.5 L501.6 797.3 L503.0 799.2 L503.2 802.1 L503.7 804.8 L506.0 805.9 L506.2 808.1 L505.8 810.3 L506.1 812.5 L506.5 814.7 L506.7 816.9 L506.2 819.2 L506.5 821.4 L507.1 823.5 L506.7 825.8 L507.0 828.0 L507.1 830.2 L506.9 832.4 L507.4 834.6 L507.3 836.8 L509.0 835.1 L510.7 837.1 L512.4 836.8 L514.9 839.1 L516.2 832.8 L518.7 835.1 L519.0 832.8 L518.9 830.4 L518.5 828.1 L518.9 825.8 L518.8 823.5 L518.9 821.1 L518.8 818.8 L518.6 816.5 L518.7 814.1 L518.5 811.8 L518.7 809.5 L518.7 807.2 L518.4 804.8 L518.7 802.5 L518.6 799.7 L519.7 797.6 L520.6 795.4 L521.9 793.4 L523.3 791.5 L523.2 788.7 L523.7 790.9 L523.7 793.3 L524.1 795.5 L524.5 797.8 L524.8 800.1 L524.4 802.5 L524.6 804.8 L525.0 807.1 L525.9 809.3 L526.2 811.5 L526.5 813.8 L526.4 816.2 L527.4 818.2 L527.3 820.6 L529.0 822.4 L528.1 825.0 L527.6 827.4 L527.5 829.8 L528.9 831.7 L528.6 828.7 L528.7 825.9 L532.2 825.1 L531.6 821.9 L532.7 819.7 L533.8 821.6 L534.8 823.5 L534.9 825.8 L535.4 827.9 L535.9 830.1 L536.5 832.2 L536.0 834.7 L536.5 836.8 L536.5 839.8 L539.2 840.3 L539.9 842.7 L540.7 845.0 L541.6 847.1 L540.9 849.8 L541.5 852.2 L541.2 854.9 L544.1 856.7 L542.5 859.6 L544.4 861.7 L544.1 864.3 L545.3 862.2 L545.9 859.8 L547.0 857.6 L546.9 854.7 L546.9 851.9 L549.3 850.6 L548.2 847.7 L551.8 847.0 L552.2 844.8 L551.3 841.9 L550.7 839.2 L553.7 838.2 L553.2 835.6 L553.7 833.4 L553.8 835.6 L553.8 837.8 L554.3 840.0 L554.3 842.2 L553.9 844.5 L554.0 846.7 L553.9 848.9 L554.5 851.1 L554.1 853.3 L554.3 855.5 L554.7 857.7 L554.5 859.9 L555.2 862.1 L555.0 864.3 L557.7 864.0 L556.9 869.2 L560.4 867.8 L560.7 871.2 L562.1 869.9 L564.0 869.6 L565.1 868.0 L565.0 864.3 L567.1 864.3 L569.3 865.9 L570.5 860.2 L572.9 863.5 L574.7 862.6 L575.3 866.4 L578.0 866.3 L579.8 867.8 L580.7 870.0 L578.9 872.9 L580.0 875.1 L580.2 877.5 L580.2 879.9 L580.4 882.3 L581.8 884.4 L582.4 886.7 L582.2 889.0 L582.7 891.2 L583.1 893.4 L583.2 895.6 L583.4 897.8 L583.7 900.0 L583.4 902.3 L583.7 904.5 L583.4 906.8 L584.4 908.9 L583.9 911.3 L584.5 913.4 L584.6 915.7 L584.8 917.9 L584.4 920.2 L584.8 922.4 L585.1 924.6 L585.5 926.8 L585.8 929.0 L585.6 931.3 L585.6 929.1 L586.2 926.9 L585.9 924.7 L586.3 922.5 L586.6 920.3 L586.0 918.0 L586.4 915.8 L586.6 913.6 L586.6 911.4 L586.8 909.2 L587.2 907.0 L586.9 904.8 L587.5 902.6 L587.5 900.4 L589.7 899.9 L591.3 902.1 L591.5 899.9 L591.2 897.7 L591.8 895.5 L591.6 893.3 L592.0 891.1 L592.2 888.9 L592.0 886.7 L591.6 884.4 L592.0 882.2 L592.6 880.1 L592.4 877.8 L592.6 875.6 L592.4 873.4 L592.5 871.2 L595.0 872.8 L596.5 871.6 L597.4 868.8 L598.8 867.6 L600.1 866.0 L602.2 867.4 L603.3 869.4 L603.3 872.0 L602.3 875.3 L602.6 877.8 L603.6 879.8 L605.3 881.5 L604.4 884.2 L607.6 885.6 L608.0 887.9 L607.7 890.4 L608.9 892.5 L607.8 895.3 L607.8 897.6 L607.7 900.0 L607.8 902.3 L608.7 904.6 L608.3 907.0 L608.5 909.3 L608.6 911.6 L609.0 913.9 L609.2 916.2 L608.8 918.6 L608.9 921.0 L609.2 923.3 L609.5 925.6 L609.7 927.9 L609.6 925.6 L610.1 923.4 L610.4 921.1 L610.7 918.9 L611.0 916.7 L611.8 914.6 L612.1 912.3 L611.9 910.0 L612.9 907.9 L612.9 905.6 L615.5 906.7 L613.0 911.2 L615.2 912.6 L615.8 915.1 L617.9 916.5 L618.0 919.3 L618.3 917.1 L618.6 914.9 L618.1 912.6 L618.2 910.4 L618.8 908.3 L618.5 906.0 L618.5 903.8 L619.0 901.6 L618.8 899.4 L619.0 897.2 L619.1 895.0 L619.1 892.8 L619.8 890.6 L619.7 888.4 L619.9 886.2 L619.7 883.9 L620.3 881.8 L620.6 879.6 L620.7 877.4 L620.0 875.1 L620.5 872.9 L621.7 875.1 L622.9 877.2 L622.2 880.1 L622.1 882.7 L623.1 884.9 L623.6 887.2 L625.4 888.4 L624.2 892.2 L626.3 893.1 L625.9 896.2 L628.8 896.5 L629.5 898.7 L630.5 896.7 L629.2 893.7 L631.2 892.1 L632.1 890.1 L631.3 887.2 L633.1 885.6 L633.3 883.2 L633.9 885.4 L633.8 887.7 L633.9 889.9 L634.3 892.2 L634.9 894.3 L635.1 896.6 L635.2 898.9 L635.2 901.1 L635.7 903.3 L635.9 905.6 L636.1 902.4 L637.8 900.7 L639.0 898.5 L640.9 897.0 L640.6 893.9 L643.2 893.3 L643.8 891.0 L644.3 888.6 L644.2 885.5 L648.3 886.5 L647.9 883.2 L650.1 884.6 L650.5 886.9 L650.5 889.5 L649.5 892.6 L649.6 895.0 L650.9 896.9 L652.4 898.7 L654.4 899.3 L653.3 903.4 L657.0 902.1 L657.8 904.2 L657.5 907.3 L658.7 909.5 L657.6 911.9 L657.6 914.2 L657.7 916.5 L656.9 918.9 L657.6 921.1 L657.8 923.4 L659.5 925.5 L658.7 927.9 L661.3 927.9 L662.6 926.2 L662.5 922.7 L662.1 924.9 L662.6 927.2 L662.0 929.4 L662.0 931.7 L661.9 933.9 L662.0 936.2 L661.4 938.4 L661.2 940.6 L661.2 942.8 L661.3 945.1 L661.5 942.6 L663.9 941.8 L662.6 938.0 L665.5 937.7 L664.2 933.9 L665.0 931.8 L667.6 931.3 L667.3 929.1 L667.8 926.8 L668.0 924.6 L667.6 922.4 L667.7 920.1 L667.7 917.9 L667.9 915.7 L668.0 913.5 L667.9 911.2 L667.6 909.0 L667.6 906.8 L667.5 904.5 L668.3 902.3 L667.9 900.1 L668.5 897.9 L668.7 895.7 L668.2 893.4 L668.4 891.1 L668.7 888.9 L668.9 886.7 L670.8 889.2 L672.7 889.2 L674.6 890.2 L676.5 886.7 L676.3 884.5 L676.6 882.3 L676.8 880.1 L676.4 877.9 L676.5 875.7 L676.2 873.4 L676.7 871.2 L676.4 869.0 L676.4 866.8 L676.5 864.6 L676.2 862.4 L676.6 860.2 L676.3 858.0 L676.3 855.8 L676.5 853.6 L676.4 851.3 L676.4 849.1 L676.6 846.9 L676.5 844.7 L676.2 842.5 L676.3 840.3 L676.5 838.1 L675.8 835.9 L676.3 833.7 L676.2 831.5 L676.1 829.3 L675.8 827.0 L676.0 824.8 L676.3 822.6 L676.4 820.4 L676.5 818.2 L676.3 816.0 L676.4 813.8 L676.3 811.6 L675.8 809.4 L676.2 807.2 L676.3 804.9 L676.2 802.7 L675.8 800.5 L676.1 798.3 L675.9 796.1 L675.9 793.9 L676.6 795.9 L676.1 798.4 L676.8 800.4 L679.1 801.8 L677.9 804.6 L680.3 805.9 L680.4 808.2 L678.8 811.2 L680.4 812.8 L680.2 815.1 L681.1 817.3 L680.8 819.6 L681.6 821.8 L681.6 824.1 L681.9 826.3 L682.4 828.5 L682.3 830.8 L682.4 833.1 L682.4 835.4 L683.3 837.6 L683.4 839.8 L683.9 842.0 L683.9 844.3 L684.1 846.6 L684.1 848.9 L684.2 851.2 L684.4 853.5 L685.4 855.5 L685.4 857.8 L685.7 860.1 L686.1 862.3 L685.9 864.6 L686.3 866.8 L687.4 868.9 L687.3 871.2 L687.6 868.9 L688.6 866.9 L689.5 865.0 L689.7 862.6 L691.2 861.0 L689.4 857.7 L691.2 856.1 L691.9 854.0 L693.3 852.1 L691.6 849.1 L692.1 846.8 L693.9 845.0 L692.8 842.2 L694.5 840.3 L693.6 837.6 L694.2 835.4 L695.6 833.4 L697.5 833.4 L698.0 837.2 L700.0 837.2 L701.5 838.2 L703.3 838.6 L704.6 837.0 L704.7 834.4 L707.6 834.1 L707.2 831.0 L708.3 829.1 L707.2 825.5 L709.6 824.8 L711.2 826.3 L711.1 829.0 L712.7 827.6 L715.1 827.5 L715.6 824.7 L716.2 822.1 L715.1 819.6 L717.6 817.7 L716.0 815.1 L717.4 813.0 L716.4 810.5 L716.2 808.1 L718.5 806.2 L717.9 803.8 L718.1 801.5 L719.3 799.6 L720.4 797.7 L720.8 795.3 L721.3 792.9 L722.2 794.9 L723.1 796.9 L723.1 799.4 L724.7 801.0 L725.3 803.2 L724.0 806.4 L726.3 807.7 L726.4 810.1 L728.4 810.0 L729.7 808.4 L730.5 805.9 L732.8 806.3 L733.0 802.5 L733.5 799.4 L737.2 802.6 L738.4 800.8 L739.1 798.1 L739.9 795.7 L740.6 793.4 L739.2 790.8 L739.4 788.4 L739.8 786.0 L740.0 783.7 L740.4 781.4 L740.1 779.0 L740.7 776.7 L741.0 774.4 L740.6 772.0 L740.5 769.6 L740.8 767.3 L741.4 765.0 L741.2 762.6 L741.6 760.3 L743.9 763.0 L745.1 756.6 L747.7 761.8 L749.3 758.6 L750.0 760.9 L748.5 763.7 L750.5 765.7 L751.5 768.0 L750.6 770.6 L751.7 772.9 L754.3 772.0 L754.3 777.0 L757.0 775.7 L756.4 778.3 L758.7 779.7 L758.4 782.1 L758.7 784.4 L758.4 786.8 L760.6 788.3 L760.1 790.8 L760.7 792.9 L761.9 791.0 L763.2 789.2 L764.1 787.1 L764.8 784.7 L765.7 782.5 L767.1 780.9 L768.4 779.2 L771.3 781.8 L771.7 777.9 L772.3 774.3 L774.7 775.7 L774.6 773.2 L775.9 770.9 L775.8 768.4 L774.2 765.8 L775.4 763.5 L775.7 761.0 L776.0 758.6 L777.8 761.1 L779.6 756.9 L781.4 761.6 L783.2 760.9 L785.0 758.6 L784.6 756.3 L785.0 754.1 L785.0 751.8 L785.1 749.6 L785.3 747.3 L784.7 745.1 L785.2 742.8 L784.6 740.5 L785.2 738.3 L784.8 736.0 L784.6 733.8 L785.2 731.5 L785.3 729.3 L785.1 727.0 L785.2 724.8 L785.0 722.5 L785.3 724.7 L785.6 726.8 L785.5 729.1 L785.6 731.3 L786.3 733.4 L786.4 735.6 L786.8 737.7 L787.0 739.9 L786.7 742.2 L787.7 744.2 L787.5 746.5 L788.1 742.4 L790.2 742.3 L792.6 743.1 L793.6 740.8 L793.1 738.4 L793.8 736.1 L793.8 733.7 L794.5 731.4 L793.8 729.0 L792.3 726.4 L793.9 724.2 L793.0 721.5 L794.3 719.5 L793.7 716.9 L794.7 714.8 L795.0 712.4 L797.5 710.8 L797.8 708.4 L797.3 705.9 L797.1 703.4 L797.1 701.2 L797.1 698.9 L796.8 696.7 L797.1 694.4 L796.9 692.2 L797.2 690.0 L797.5 687.7 L797.2 685.5 L797.4 683.2 L797.5 681.0 L797.6 678.8 L797.3 676.5 L797.1 674.3 L797.7 672.1 L797.4 669.8 L797.2 667.6 L797.6 665.3 L797.7 663.1 L797.8 660.9 L797.4 658.6 L797.3 656.4 L797.3 654.1 L797.4 651.9 L797.3 649.7 L797.9 647.4 L797.7 645.2 L797.2 642.9 L797.3 640.7 L797.4 638.5 L798.0 636.2 L797.5 634.0 L797.9 631.7 L797.7 629.5 L798.0 631.7 L798.0 634.0 L797.5 636.3 L798.2 638.5 L797.9 640.8 L798.0 643.0 L798.2 645.3 L797.9 647.5 L797.8 649.8 L798.4 652.0 L798.4 654.3 L798.3 656.5 L798.3 658.8 L798.2 661.0 L798.2 663.3 L798.6 665.5 L798.1 667.8 L798.6 670.0 L799.0 672.3 L798.7 674.5 L798.6 676.8 L799.0 679.0 L798.4 681.3 L798.7 683.5 L798.8 685.8 L799.1 688.0 L799.2 690.3 L799.2 692.5 L799.0 694.8 L799.2 692.6 L799.3 690.4 L799.3 688.2 L798.8 685.9 L799.4 683.7 L799.4 681.5 L799.4 679.3 L799.3 677.1 L799.6 674.9 L799.7 672.7 L799.5 670.4 L799.4 668.2 L799.5 666.0 L799.7 663.8 L799.7 661.6 L799.8 659.4 L799.4 657.1 L799.7 654.9 L799.5 652.7 L799.8 650.5 L799.3 648.3 L799.8 646.1 L800.0 643.8 L800.2 641.6 L799.9 639.4 L800.2 637.2 L799.7 635.0 L799.6 632.7 L800.0 630.5 L799.9 628.3 L800.0 626.1 L800.2 623.9 L800.3 621.7 L800.5 619.5 L800.1 617.2 L800.3 615.0 L800.4 612.8 L800.3 610.6 L800.2 612.8 L800.3 615.0 L800.4 617.3 L800.2 619.5 L800.9 621.7 L800.3 623.9 L800.8 626.2 L800.9 628.4 L800.5 630.6 L800.7 632.8 L800.8 635.1 L801.1 637.3 L801.1 639.5 L801.0 641.7 L801.2 643.9 L800.7 646.2 L801.2 648.4 L801.1 650.6 L801.1 652.8 L800.9 655.1 L800.8 657.3 L801.0 659.5 L801.4 661.7 L801.5 664.0 L801.2 666.2 L801.4 668.4 L801.1 670.6 L801.6 672.9 L801.2 675.1 L801.5 677.3 L801.6 679.5 L801.7 681.7 L801.3 684.0 L801.6 686.2 L801.6 684.0 L801.7 681.8 L802.0 679.6 L801.4 677.3 L801.9 675.1 L801.8 672.9 L801.8 670.7 L802.3 668.5 L801.9 666.2 L802.1 664.0 L802.2 661.8 L802.0 659.6 L802.2 657.4 L802.0 655.2 L802.5 653.0 L802.7 650.7 L803.0 648.5 L803.1 646.3 L802.6 644.1 L803.2 641.9 L802.5 639.6 L802.6 637.4 L803.0 635.2 L803.2 633.0 L803.2 630.8 L802.8 628.6 L803.2 626.4 L803.3 624.1 L803.3 621.9 L803.6 619.7 L803.5 617.5 L803.3 619.7 L803.9 621.9 L803.6 624.2 L803.5 626.4 L803.5 628.6 L803.6 630.9 L803.4 633.1 L803.7 635.3 L804.0 637.5 L803.7 639.8 L803.9 642.0 L804.0 644.2 L804.0 646.4 L803.9 648.7 L804.0 650.9 L804.3 653.1 L804.0 655.3 L804.4 657.6 L804.2 659.8 L804.1 662.0 L804.4 664.2 L804.8 666.5 L804.2 668.7 L804.8 670.9 L804.9 673.1 L805.1 675.4 L804.7 677.6 L804.8 675.4 L804.8 673.2 L805.2 671.0 L804.8 668.8 L805.0 666.6 L805.4 664.4 L804.9 662.2 L805.3 660.0 L805.1 657.8 L805.7 655.6 L805.4 653.4 L805.4 651.2 L805.4 649.0 L805.6 646.8 L806.1 644.6 L805.7 642.4 L805.7 640.2 L805.9 638.0 L805.8 635.8 L806.5 633.6 L806.6 631.4 L806.5 629.2 L806.4 627.0 L806.2 624.8 L806.7 622.6 L808.5 620.9 L808.3 623.1 L808.7 625.4 L808.5 627.6 L808.1 629.8 L808.7 632.0 L808.4 634.3 L808.6 636.5 L808.5 638.7 L808.6 641.0 L808.5 643.2 L807.5 645.5 L807.7 648.1 L808.9 651.0 L806.1 652.8 L807.5 655.7 L806.8 658.1 L806.0 660.4 L806.3 662.8 L806.3 665.4 L806.0 667.9 L808.3 670.0 L807.7 672.6 L807.3 675.2 L807.9 677.6 L808.1 679.9 L808.8 682.1 L807.3 684.5 L806.9 686.8 L807.9 689.1 L808.2 691.3 L809.3 693.6 L808.5 695.9 L808.5 698.2 L808.9 701.2 L811.7 700.9 L812.4 703.4 L812.8 700.7 L813.5 698.2 L813.6 695.4 L814.9 693.1 L815.0 690.8 L814.8 688.5 L815.3 686.2 L815.3 683.9 L814.9 681.6 L814.8 679.3 L814.8 677.0 L815.4 674.8 L815.2 672.4 L814.9 670.1 L814.9 667.9 L815.6 665.6 L815.1 663.3 L815.8 661.0 L815.3 658.7 L815.6 656.4 L815.4 654.1 L815.6 651.8 L815.8 649.6 L815.5 647.3 L815.8 645.0 L815.8 642.8 L815.9 640.5 L816.5 638.3 L817.0 636.1 L816.3 633.8 L817.2 631.6 L816.9 629.3 L816.9 627.1 L816.9 624.8 L817.5 622.6 L817.6 624.9 L817.9 627.1 L817.6 629.4 L817.7 631.7 L818.0 633.9 L817.4 636.2 L817.7 638.5 L817.6 640.8 L818.1 643.0 L817.7 645.3 L817.8 647.6 L817.8 649.9 L818.3 652.1 L817.7 654.4 L818.2 656.7 L818.5 658.9 L817.9 661.2 L818.5 663.5 L818.0 665.8 L818.6 668.0 L818.8 670.3 L818.5 672.6 L818.5 674.8 L818.4 677.1 L818.5 679.4 L818.8 681.7 L818.5 683.9 L818.7 686.2 L818.8 684.0 L818.6 681.8 L819.0 679.6 L818.9 677.4 L819.2 675.2 L818.9 673.0 L819.1 670.8 L819.2 668.6 L819.6 666.4 L819.1 664.2 L819.5 662.0 L819.6 659.8 L820.1 657.6 L819.5 655.4 L819.9 653.2 L820.2 651.0 L820.0 648.8 L820.5 646.6 L820.0 644.4 L820.3 642.2 L820.2 640.0 L820.3 637.8 L820.2 635.6 L820.8 633.4 L820.7 631.2 L820.6 633.5 L820.5 635.8 L820.8 638.0 L821.1 640.3 L820.8 642.6 L820.6 644.8 L820.9 647.1 L821.2 649.4 L821.1 651.6 L820.8 653.9 L820.9 656.2 L821.1 658.5 L821.1 660.7 L821.7 663.0 L821.6 665.3 L821.8 667.5 L821.5 669.8 L821.5 672.1 L821.9 674.3 L821.3 676.6 L821.6 678.9 L821.5 681.2 L821.3 683.5 L821.5 685.7 L821.6 688.0 L821.7 690.3 L821.9 692.5 L821.9 694.8 L822.2 692.6 L822.2 690.3 L821.9 688.0 L822.3 685.8 L821.8 683.5 L822.2 681.3 L822.5 679.0 L822.0 676.7 L822.6 674.5 L822.3 672.2 L822.5 670.0 L822.1 667.7 L822.0 665.5 L822.2 663.2 L822.6 661.0 L822.5 658.7 L822.3 661.0 L822.7 663.1 L822.8 665.4 L823.1 667.6 L823.1 669.8 L823.0 672.0 L823.0 674.3 L823.5 676.5 L823.3 678.7 L823.7 680.9 L823.9 683.1 L824.2 685.3 L824.0 687.6 L823.9 689.8 L824.1 692.0 L824.3 694.2 L824.1 696.5 L824.5 698.7 L824.4 700.9 L824.6 703.1 L824.4 705.4 L825.0 707.5 L825.1 709.8 L825.1 712.0 L824.9 714.2 L825.4 716.4 L825.0 718.6 L825.4 720.8 L825.6 723.0 L825.4 725.2 L825.4 727.4 L825.6 729.6 L825.7 731.8 L825.2 734.0 L825.6 736.2 L826.2 733.8 L827.4 731.7 L826.9 728.9 L827.9 726.7 L828.2 724.2 L828.1 721.5 L828.4 719.0 L831.2 717.9 L831.4 715.3 L830.7 712.4 L832.0 710.4 L834.0 711.6 L835.2 714.2 L837.1 715.6 L838.8 717.7 L837.5 720.6 L836.6 723.4 L838.0 725.6 L839.0 727.9 L840.5 730.0 L839.6 732.8 L841.0 731.6 L842.4 730.4 L844.0 729.6 L845.9 729.2 L846.0 725.9 L845.5 723.7 L845.1 721.5 L845.6 719.0 L845.0 716.9 L845.0 714.5 L844.5 712.3 L844.5 710.0 L844.0 707.8 L843.8 705.5 L843.5 703.3 L843.5 701.0 L843.0 698.8 L843.0 696.5 L842.2 694.3 L841.8 692.1 L841.5 689.8 L841.5 687.5 L841.3 685.2 L841.0 683.0 L840.6 685.5 L841.4 687.9 L840.1 690.5 L842.0 692.7 L843.3 695.0 L842.0 697.7 L842.2 700.1 L843.3 702.3 L846.0 701.4 L846.1 705.6 L849.2 704.0 L849.9 707.0 L850.2 704.7 L849.9 702.3 L850.3 700.0 L850.1 697.7 L850.2 695.4 L849.9 693.0 L850.5 690.7 L850.6 688.4 L849.9 686.0 L850.3 683.7 L850.0 681.4 L850.7 679.1 L850.7 676.7 L850.4 674.4 L850.8 672.1 L850.8 669.8 L850.5 667.5 L850.7 665.2 L850.3 662.9 L850.4 660.6 L850.8 658.3 L851.0 656.1 L850.7 653.8 L850.5 651.5 L850.6 649.2 L850.8 646.9 L850.9 644.6 L851.4 642.3 L851.1 640.0 L849.9 643.2 L850.1 640.9 L850.2 638.5 L850.1 636.2 L850.1 633.9 L850.1 631.5 L849.7 629.2 L850.1 626.8 L850.0 624.5 L850.0 622.2 L849.9 619.8 L849.9 617.5 L850.9 615.6 L853.3 615.4 L854.3 613.5 L854.4 610.6 L854.7 607.5 L858.1 608.7 L858.3 605.6 L859.5 603.7 L858.3 601.4 L860.3 599.1 L859.5 596.8 L860.1 594.7 L859.9 592.4 L860.1 590.2 L860.2 588.0 L860.3 585.8 L860.9 583.7 L861.0 581.5 L861.5 579.4 L861.7 577.2 L861.5 574.9 L862.0 572.8 L861.5 575.2 L863.0 577.0 L863.5 579.1 L864.6 581.1 L863.6 583.7 L863.8 585.9 L863.9 588.2 L865.2 590.0 L864.9 592.9 L867.3 594.0 L867.5 596.7 L868.0 599.1 L869.6 600.7 L871.8 602.1 L870.9 605.4 L872.3 603.7 L873.5 601.8 L872.7 598.9 L874.9 597.6 L872.6 593.8 L875.0 592.7 L875.0 590.2 L876.0 588.2 L876.5 585.9 L876.6 583.5 L877.3 581.2 L877.1 578.8 L877.6 576.5 L878.0 574.2 L878.4 571.8 L878.7 569.5 L879.6 567.3 L879.5 564.8 L879.9 562.5 L880.5 559.7 L879.5 556.5 L881.1 553.9 L881.4 551.7 L882.2 549.6 L882.2 547.3 L883.2 545.2 L882.3 542.9 L881.8 540.6 L882.4 538.4 L882.7 536.2 L882.9 533.9 L882.9 531.7 L882.3 529.4 L882.8 527.2 L882.4 524.9 L882.5 522.7 L883.0 520.4 L883.1 518.2 L883.0 515.9 L882.8 513.7 L883.0 511.4 L883.0 509.2 L884.2 511.2 L884.8 513.5 L885.5 515.7 L883.5 518.9 L884.1 521.2 L887.0 522.5 L885.4 525.7 L886.2 527.8 L887.5 529.8 L888.9 527.9 L887.9 524.8 L889.5 523.0 L891.1 521.2 L891.3 518.7 L891.3 516.1 L890.2 518.5 L892.9 520.3 L892.3 522.6 L892.4 524.8 L892.4 527.1 L890.9 529.5 L892.5 531.5 L892.9 535.5 L894.9 536.0 L896.9 536.3 L898.9 536.7 L898.8 539.0 L898.8 541.2 L899.4 543.4 L899.2 545.7 L899.0 548.0 L899.8 550.2 L899.7 552.4 L899.8 554.7 L899.5 556.9 L899.9 559.2 L900.3 561.4 L900.2 563.6 L900.2 565.9 L901.9 565.2 L902.9 563.3 L902.6 559.3 L906.3 561.7 L905.9 557.7 L907.9 557.3 L907.4 553.8 L910.4 554.3 L911.6 552.8 L912.5 550.8 L911.8 547.2 L914.2 547.0 L914.0 544.7 L914.9 542.7 L914.9 540.5 L914.7 538.2 L915.4 536.1 L915.2 533.8 L915.8 531.7 L916.2 529.6 L916.0 527.3 L916.4 525.2 L916.7 523.0 L916.9 520.7 L916.6 518.4 L916.8 516.1 L916.4 513.8 L916.9 511.5 L916.5 509.2 L916.7 507.0 L917.1 504.7 L917.0 502.4 L916.5 500.1 L917.0 497.8 L916.7 495.5 L917.7 493.3 L919.3 492.0 L919.9 489.4 L920.8 487.2 L923.1 486.9 L925.1 485.1 L923.6 482.2 L924.4 480.0 L924.1 477.7 L924.6 475.4 L924.1 473.2 L924.3 470.9 L924.1 468.6 L924.0 466.3 L924.8 464.1 L924.4 461.8 L924.5 459.5 L924.1 457.2 L924.3 454.9 L924.1 452.7 L924.7 450.4 L924.0 448.1 L924.8 445.8 L924.8 443.6 L924.2 441.3 L924.4 439.0 L925.5 440.9 L926.3 443.0 L927.2 444.9 L926.1 447.6 L926.4 449.8 L925.6 452.3 L927.3 454.0 L927.6 456.2 L929.1 458.1 L928.7 460.7 L930.0 462.7 L930.8 464.8 L930.1 467.5 L930.1 469.9 L930.6 467.7 L930.1 465.4 L931.0 463.3 L931.0 461.0 L931.2 458.8 L931.0 456.5 L930.9 454.3 L931.4 452.1 L931.0 449.8 L931.5 447.6 L931.9 445.2 L933.3 443.1 L932.7 440.4 L933.8 438.2 L933.3 435.6 L933.0 433.3 L933.5 431.0 L932.9 428.7 L933.0 426.4 L933.2 424.1 L933.4 421.8 L932.7 419.6 L932.8 417.3 L933.1 415.0 L932.6 412.7 L932.7 410.4 L932.7 408.1 L932.5 405.9 L933.2 403.7 L933.1 401.5 L932.8 399.2 L933.4 397.0 L933.3 394.8 L932.9 392.6 L932.7 390.4 L933.3 388.2 L933.3 386.0 L933.0 383.7 L932.8 381.5 L933.1 379.3 L933.3 377.1 L933.8 374.7 L933.8 372.3 L933.9 369.9 L934.0 367.5 L933.8 365.1 L934.5 362.7 L934.2 360.3 L934.8 357.9 L934.6 355.5 L934.7 353.1 L935.3 350.7 L935.9 348.3 L936.3 345.8 L935.6 343.3 L936.3 340.9 L934.9 338.3 L935.3 335.9 L935.3 333.4 L935.7 331.2 L936.7 329.2 L937.8 327.3 L938.2 325.1 L937.7 322.9 L937.7 320.7 L937.6 318.5 L938.2 316.3 L938.4 314.1 L938.0 311.8 L937.9 309.6 L938.4 307.4 L938.5 305.2 L938.2 303.0 L938.3 300.8 L938.3 298.6 L938.4 296.4 L939.9 298.3 L941.6 299.8 L941.5 302.1 L941.4 304.5 L941.9 306.8 L941.4 309.2 L941.8 311.5 L941.9 313.8 L941.7 316.2 L942.2 318.5 L942.0 320.8 L941.8 323.2 L941.9 325.5 L941.9 327.8 L942.2 330.2 L942.3 332.5 L942.5 330.3 L942.6 328.0 L942.3 325.8 L942.9 323.5 L942.8 321.3 L942.6 319.0 L942.8 316.8 L943.1 314.6 L942.4 312.3 L942.7 310.1 L943.2 307.8 L942.6 305.6 L943.2 303.3 L942.9 301.1 L942.9 298.8 L942.8 296.6 L943.0 294.4 L943.2 292.1 L943.5 289.9 L943.6 287.6 L943.5 285.4 L943.2 283.1 L943.6 280.9 L944.1 278.6 L945.8 276.8 L944.0 273.8 L945.9 272.0 L944.8 269.2 L946.1 267.2 L946.9 269.4 L946.4 271.8 L945.7 274.2 L946.8 276.4 L948.1 278.5 L947.1 281.0 L948.9 283.0 L947.1 285.6 L948.0 287.8 L948.1 290.1 L948.4 292.4 L948.2 294.7 L948.5 297.0 L948.5 299.3 L948.6 301.6 L948.5 303.9 L949.1 306.1 L948.6 308.5 L948.8 310.7 L949.4 313.0 L949.3 315.3 L952.4 315.3 L953.9 313.2 L952.2 310.6 L954.1 308.6 L952.4 306.0 L954.6 304.0 L953.7 301.5 L953.5 303.8 L953.9 306.1 L953.9 308.4 L954.0 310.7 L954.2 313.0 L954.6 315.2 L954.4 317.6 L954.4 319.9 L954.8 322.1 L954.7 324.5 L955.2 326.7 L955.3 329.0 L955.2 331.3 L955.7 333.6 L955.6 335.9 L955.6 338.3 L955.7 340.6 L956.4 342.9 L956.4 345.3 L956.2 347.7 L956.7 350.0 L957.3 352.3 L956.8 354.7 L957.5 357.0 L957.4 359.4 L957.6 361.7 L956.5 364.0 L957.0 366.3 L957.1 368.6 L959.2 370.8 L958.6 373.1 L959.0 375.4 L956.7 377.8 L958.9 380.0 L958.1 382.3 L958.4 384.7 L957.9 387.0 L957.8 389.3 L957.8 391.7 L957.9 394.0 L957.5 396.4 L957.7 398.7 L958.1 401.1 L957.4 403.4 L958.0 405.8 L957.6 408.1 L956.3 410.8 L957.9 412.7 L958.1 415.1 L959.7 417.0 L958.0 419.8 L959.5 421.8 L959.9 424.0 L959.9 426.3 L960.6 428.4 L960.3 430.8 L960.4 433.1 L960.9 435.3 L961.0 437.5 L961.4 439.7 L961.7 442.0 L962.0 444.2 L961.2 446.5 L963.1 448.5 L962.6 450.8 L961.5 453.1 L961.8 455.3 L961.4 457.5 L962.7 459.6 L964.6 461.2 L966.4 459.6 L966.6 457.3 L966.7 454.9 L966.4 452.6 L966.9 450.3 L966.9 448.0 L966.5 445.6 L966.7 443.3 L966.8 441.0 L967.1 438.7 L966.6 436.3 L966.7 434.0 L967.4 431.7 L967.3 429.3 L967.1 427.0 L967.4 429.3 L968.2 431.5 L968.7 433.8 L968.3 436.1 L966.4 438.5 L968.7 440.7 L966.6 443.1 L968.5 445.3 L967.7 447.6 L967.6 450.0 L968.3 452.4 L968.1 454.8 L968.2 457.2 L968.7 459.6 L969.1 462.0 L969.1 464.4 L969.5 466.8 L969.0 469.3 L969.6 471.6 L971.0 470.2 L972.8 469.8 L974.1 468.2 L973.7 465.8 L974.1 463.5 L975.4 461.2 L975.5 458.8 L975.4 456.4 L975.8 454.1 L976.0 451.8 L974.7 449.3 L975.1 451.6 L974.9 454.0 L975.1 456.3 L974.5 458.6 L975.0 461.0 L974.5 463.3 L975.0 465.6 L975.0 468.0 L974.9 470.3 L974.4 472.7 L974.9 475.0 L975.0 477.3 L974.5 479.7 L974.7 482.0 L975.4 484.5 L974.5 487.1 L974.8 489.6 L974.1 492.1 L974.7 494.7 L974.7 497.2 L974.9 499.4 L975.0 501.7 L974.4 503.9 L974.9 506.1 L974.9 508.4 L974.6 510.6 L974.3 512.8 L974.8 515.0 L974.8 517.3 L974.7 519.5 L975.0 521.9 L974.6 524.2 L973.2 526.4 L974.1 528.9 L974.0 531.2 L974.6 533.6 L974.4 535.9 L974.0 538.3 L973.8 540.6 L973.7 542.8 L973.8 545.0 L974.0 547.2 L974.7 549.3 L974.3 551.6 L975.0 553.7 L975.2 555.9 L975.2 558.1 L975.7 560.3 L975.5 562.5 L975.7 564.7 L974.7 567.5 L977.8 568.9 L975.5 572.1 L977.7 573.8 L978.6 575.9 L978.1 578.5 L979.9 580.3 L979.6 582.8 L979.5 585.3 L980.8 583.5 L979.8 580.7 L981.7 579.2 L980.7 576.4 L982.7 574.9 L983.1 572.7 L983.1 570.4 L983.3 568.1 L983.5 570.3 L983.9 572.5 L984.2 574.7 L984.0 576.9 L984.4 579.1 L984.1 581.4 L984.9 583.5 L985.1 585.7 L985.1 587.9 L985.1 590.2 L985.1 592.4 L985.4 594.6 L985.9 596.8 L985.9 599.0 L985.9 596.7 L986.9 594.8 L986.8 592.4 L987.8 590.5 L988.1 588.3 L988.8 586.3 L988.8 584.0 L989.2 581.9 L989.8 579.8 L989.7 577.4 L990.9 575.6 L991.0 573.3 L991.0 575.5 L991.0 577.8 L991.5 579.9 L991.4 582.2 L991.6 584.4 L991.6 586.6 L991.6 588.9 L991.2 591.1 L991.7 593.3 L991.7 595.5 L991.8 597.8 L991.9 600.0 L992.3 602.2 L991.9 604.4 L992.1 606.7 L992.4 608.9 L992.2 611.1 L993.4 609.0 L991.5 605.9 L994.6 604.4 L993.9 601.7 L995.3 599.6 L994.6 596.9 L993.8 594.2 L995.4 592.2 L995.9 594.5 L997.2 596.5 L996.5 599.1 L998.7 600.8 L996.9 603.9 L997.0 606.3 L998.2 608.3 L999.3 610.3 L999.3 612.8 L999.0 615.4 L1000.1 617.7 L998.6 620.4 L999.1 622.9 L1000.8 625.0 L999.9 627.7 L1001.1 630.0 L1001.2 632.3 L1000.5 634.6 L1000.7 636.9 L1001.1 639.2 L1000.5 641.4 L1000.6 643.8 L1000.3 646.0 L1000.6 648.4 L1000.3 650.6 L999.7 652.9 L999.9 655.2 L999.9 657.5 L1000.2 659.9 L1000.0 662.5 L1002.2 664.5 L1002.5 667.0 L1002.0 669.6 L1002.5 672.0 L1002.4 674.6 L1002.6 677.0 L1002.7 679.4 L1003.2 681.8 L1003.1 684.2 L1002.8 686.7 L1003.0 689.1 L1003.2 691.5 L1003.8 693.8 L1003.4 696.3 L1003.7 698.7 L1004.7 701.3 L1004.1 703.7 L1003.7 706.0 L1001.2 708.0 L1002.4 710.7 L1003.4 708.3 L1004.7 706.4 L1005.5 703.6 L1008.1 703.8 L1008.2 701.5 L1009.6 699.6 L1008.5 697.1 L1009.0 694.9 L1008.3 692.5 L1008.8 690.4 L1010.1 688.4 L1010.2 690.7 L1009.4 692.8 L1009.2 695.1 L1009.3 697.4 L1009.0 699.6 L1009.0 701.9 L1008.5 704.1 L1008.7 706.4 L1008.4 708.6 L1007.9 710.8 L1008.0 713.1 L1007.2 715.3 L1007.5 717.6 L1007.7 720.0 L1009.0 722.2 L1007.8 724.7 L1006.8 727.1 L1008.8 729.4 L1008.1 731.8 L1007.9 734.1 L1008.1 736.5 L1008.6 734.3 L1008.0 732.0 L1008.7 729.9 L1008.2 727.6 L1008.9 725.5 L1009.2 723.3 L1009.1 721.0 L1008.7 718.8 L1009.0 716.6 L1009.3 714.4 L1009.7 712.2 L1009.5 710.0 L1009.4 707.7 L1010.0 705.6 L1010.1 703.4 L1010.4 701.2 L1010.2 698.9 L1010.4 696.7 L1010.6 694.5 L1010.2 692.3 L1010.1 690.0 L1010.9 687.9 L1010.9 685.7 L1011.2 683.5 L1011.3 681.3 L1010.8 679.0 L1011.0 676.8 L1011.3 674.6 L1011.7 672.4 L1011.5 670.2 L1011.7 668.0 L1011.9 665.8 L1011.2 663.5 L1011.4 661.3 L1011.3 659.1 L1011.5 656.9 L1011.7 654.7 L1012.2 652.5 L1011.6 650.3 L1011.9 648.1 L1011.9 645.9 L1012.0 643.7 L1013.8 641.6 L1013.3 638.9 L1012.8 636.3 L1012.2 633.5 L1013.1 631.2 L1013.0 628.6 L1014.5 626.5 L1015.3 624.3 L1014.9 621.8 L1015.1 619.4 L1015.2 617.1 L1015.6 614.7 L1016.3 612.5 L1016.5 610.1 L1016.9 607.8 L1017.3 605.5 L1017.1 603.1 L1017.7 600.8 L1018.4 598.7 L1018.7 596.5 L1020.3 594.6 L1018.9 591.9 L1018.6 589.5 L1019.0 587.3 L1020.2 585.3 L1022.2 584.5 L1023.8 583.2 L1023.4 579.2 L1025.3 578.4 L1026.1 575.9 L1026.3 573.5 L1024.5 571.4 L1023.5 569.1 L1025.8 566.4 L1023.7 564.3 L1025.7 561.7 L1024.1 559.5 L1024.6 561.6 L1024.8 563.9 L1025.3 566.0 L1026.0 568.1 L1026.1 570.4 L1026.7 572.5 L1026.7 574.8 L1027.5 576.8 L1027.4 579.2 L1027.8 581.3 L1027.9 583.6 L1028.3 585.8 L1028.9 587.9 L1029.1 590.1 L1029.8 592.2 L1030.0 594.4 L1029.9 596.7 L1030.2 598.8 L1030.2 601.1 L1030.3 603.3 L1030.7 605.5 L1030.7 607.7 L1031.6 609.8 L1031.0 612.1 L1031.6 614.3 L1031.8 616.5 L1032.2 618.7 L1032.3 620.9 L1032.3 623.1 L1032.7 620.7 L1032.4 618.1 L1031.6 615.4 L1032.9 613.2 L1032.6 610.6 L1035.4 608.7 L1034.2 605.9 L1034.5 608.2 L1033.9 610.5 L1033.7 612.8 L1033.5 615.0 L1033.6 617.4 L1033.5 619.6 L1033.5 621.9 L1033.2 624.2 L1033.2 626.5 L1033.4 628.8 L1032.9 631.1 L1033.2 633.4 L1033.2 635.7 L1033.2 638.0 L1033.0 640.3 L1032.8 642.7 L1033.1 645.0 L1034.0 647.3 L1033.7 649.7 L1034.0 652.1 L1032.8 654.6 L1035.2 656.7 L1034.2 659.2 L1034.7 661.4 L1034.5 663.8 L1034.6 666.1 L1035.2 668.3 L1035.0 670.6 L1035.4 672.9 L1035.5 675.2 L1035.1 677.5 L1035.9 679.8 L1035.9 682.1 L1035.8 684.4 L1035.7 686.7 L1035.8 689.0 L1036.2 691.2 L1036.4 693.5 L1036.3 695.9 L1036.6 698.1 L1036.8 700.4 L1036.9 702.8 L1037.6 705.1 L1038.2 707.3 L1037.8 709.9 L1038.8 712.1 L1038.8 714.5 L1039.1 716.9 L1039.6 719.2 L1040.0 721.5 L1040.7 723.7 L1040.6 726.2 L1040.7 723.8 L1040.6 721.5 L1041.2 719.2 L1041.2 716.8 L1041.1 714.4 L1041.5 712.1 L1041.8 709.8 L1041.8 707.4 L1042.6 705.1 L1042.2 702.7 L1042.5 700.4 L1041.8 697.2 L1042.4 694.7 L1043.3 692.3 L1045.3 690.7 L1046.3 688.4 L1045.9 686.2 L1046.3 684.0 L1046.6 681.8 L1046.1 679.6 L1046.5 677.4 L1046.3 675.2 L1046.0 673.0 L1046.2 670.7 L1045.9 668.5 L1046.2 666.3 L1046.0 664.1 L1046.0 661.9 L1046.3 659.7 L1046.3 657.5 L1046.1 655.2 L1045.9 652.9 L1045.9 650.6 L1045.9 648.3 L1046.4 646.0 L1046.4 643.7 L1045.8 641.5 L1045.5 639.2 L1045.8 636.9 L1046.1 634.6 L1045.5 632.3 L1045.7 630.0 L1047.9 628.5 L1046.5 625.5 L1046.6 623.0 L1046.5 620.5 L1047.7 618.6 L1049.1 616.8 L1049.5 614.5 L1050.1 611.9 L1051.7 610.5 L1054.0 610.3 L1054.6 607.6 L1054.7 605.3 L1053.7 602.9 L1053.8 600.6 L1056.2 598.6 L1054.4 596.1 L1055.1 593.8 L1056.1 591.6 L1057.1 589.4 L1055.9 587.0 L1057.6 587.1 L1059.3 588.8 L1061.0 587.0 L1061.0 589.4 L1060.8 591.9 L1062.3 593.9 L1063.5 595.9 L1062.9 598.5 L1063.5 600.8 L1063.5 603.2 L1064.0 605.6 L1063.8 608.0 L1064.1 610.4 L1064.3 612.8 L1064.3 615.2 L1064.5 617.6 L1064.7 620.0 L1064.3 622.4 L1064.8 624.8 L1065.7 626.8 L1065.6 629.2 L1067.5 631.0 L1066.9 633.5 L1065.6 636.2 L1067.0 638.1 L1067.3 640.3 L1067.0 642.5 L1066.7 644.6 L1066.7 646.9 L1066.4 649.0 L1066.3 651.2 L1066.7 653.5 L1066.2 655.6 L1066.6 657.9 L1066.0 660.0 L1065.6 662.2 L1065.6 664.4 L1065.3 666.6 L1065.5 668.8 L1065.1 671.0 L1065.5 673.2 L1065.3 675.4 L1065.3 677.6 L1064.8 679.8 L1065.4 681.9 L1065.0 684.2 L1065.9 686.3 L1065.5 688.6 L1066.2 690.7 L1065.9 693.0 L1066.0 695.2 L1067.1 697.2 L1066.8 699.4 L1067.0 701.6 L1067.3 703.8 L1068.5 701.4 L1068.2 697.6 L1071.1 697.0 L1071.2 694.7 L1071.4 692.4 L1071.3 690.1 L1071.0 687.8 L1071.4 685.5 L1071.0 683.2 L1071.2 680.9 L1071.3 678.6 L1071.5 676.4 L1071.4 674.1 L1071.4 671.8 L1072.0 669.5 L1071.4 667.2 L1071.5 664.9 L1071.8 662.6 L1072.0 660.4 L1071.6 658.2 L1072.1 656.0 L1072.1 653.8 L1071.8 651.6 L1071.9 649.4 L1071.7 647.2 L1072.0 644.9 L1072.2 642.7 L1071.9 640.5 L1071.7 638.3 L1072.1 636.1 L1071.4 633.9 L1071.8 631.7 L1072.3 629.5 L1072.7 627.3 L1072.3 624.9 L1072.9 622.8 L1072.7 620.4 L1073.2 618.2 L1073.9 616.1 L1073.4 613.7 L1073.8 611.5 L1074.3 609.3 L1076.8 610.4 L1078.0 612.7 L1078.1 616.2 L1078.9 618.5 L1076.9 620.8 L1077.9 623.1 L1078.1 625.4 L1077.3 627.6 L1077.7 629.9 L1076.9 632.2 L1078.6 634.5 L1078.1 636.8 L1077.9 639.4 L1076.6 641.8 L1078.2 644.6 L1077.5 647.1 L1077.3 649.5 L1078.0 651.7 L1078.2 654.0 L1078.4 656.3 L1078.9 658.5 L1078.9 660.8 L1078.8 663.2 L1078.9 665.5 L1079.4 667.7 L1080.0 669.9 L1079.8 672.3 L1080.1 674.6 L1080.8 677.0 L1082.2 678.6 L1083.9 679.8 L1084.7 682.0 L1085.4 684.2 L1084.2 686.7 L1085.1 688.9 L1083.6 691.3 L1083.7 693.6 L1086.1 695.7 L1084.2 698.2 L1085.1 700.4 L1084.9 702.6 L1084.7 704.9 L1084.4 707.1 L1083.8 709.3 L1084.2 711.6 L1083.2 713.7 L1083.0 715.9 L1083.2 718.3 L1082.4 720.4 L1082.6 722.7 L1082.5 725.0 L1082.7 727.2 L1082.9 729.4 L1082.9 731.7 L1083.2 733.9 L1083.1 736.2 L1083.7 738.4 L1083.7 740.6 L1083.9 742.8 L1083.9 745.1 L1083.2 741.6 L1086.6 742.4 L1087.3 740.3 L1087.1 737.3 L1089.0 736.5 L1090.2 734.4 L1090.3 731.9 L1090.7 729.6 L1090.5 727.1 L1089.9 724.5 L1091.3 722.4 L1090.4 719.8 L1091.5 717.6 L1091.7 719.8 L1091.7 722.1 L1092.3 724.3 L1092.2 726.6 L1092.5 728.8 L1093.1 731.0 L1093.4 733.2 L1093.8 735.4 L1093.8 737.7 L1094.1 739.9 L1096.1 741.3 L1094.2 744.8 L1096.8 745.9 L1096.6 748.5 L1095.7 745.6 L1096.5 743.4 L1097.7 741.4 L1098.2 739.1 L1099.6 737.2 L1099.8 734.8 L1099.8 732.4 L1099.8 730.1 L1100.1 727.8 L1100.2 725.4 L1100.4 723.1 L1100.4 720.7 L1100.6 718.4 L1101.1 716.1 L1100.7 713.7 L1101.1 711.4 L1101.0 709.0 L1101.0 706.6 L1101.2 704.2 L1101.0 701.8 L1101.3 699.4 L1101.4 697.0 L1101.2 694.5 L1101.2 692.1 L1100.7 689.7 L1101.2 687.3 L1101.0 684.9 L1101.3 682.5 L1100.9 680.1 L1101.5 677.7 L1101.6 675.3 L1101.7 672.9 L1101.4 670.5 L1101.2 668.1 L1101.3 665.7 L1101.2 663.3 L1101.7 660.9 L1101.7 658.7 L1102.2 656.5 L1101.7 654.3 L1101.9 652.1 L1101.6 649.9 L1102.2 647.7 L1101.9 645.4 L1101.9 643.2 L1102.3 641.0 L1102.3 638.8 L1102.2 636.6 L1102.4 634.4 L1102.0 632.2 L1102.3 630.0 L1103.6 628.2 L1103.7 625.8 L1104.4 623.7 L1104.0 621.1 L1105.0 619.2 L1104.3 616.4 L1106.1 614.9 L1106.8 612.8 L1107.3 610.5 L1108.1 608.5 L1108.4 606.1 L1109.3 604.1 L1109.7 601.8 L1111.7 600.2 L1110.6 597.3 L1113.1 596.7 L1113.4 600.7 L1114.7 602.6 L1117.0 602.5 L1117.4 600.2 L1117.0 597.9 L1117.2 595.6 L1117.8 593.4 L1117.9 591.1 L1117.8 588.7 L1118.4 586.5 L1118.2 584.2 L1118.2 581.8 L1118.5 579.6 L1118.5 577.3 L1118.9 575.0 L1120.4 573.3 L1121.7 571.5 L1121.5 569.0 L1121.4 566.4 L1121.8 568.6 L1124.1 569.7 L1121.8 573.4 L1122.7 575.4 L1124.6 576.7 L1124.3 579.5 L1125.5 581.2 L1128.6 581.3 L1128.6 583.8 L1128.9 586.2 L1129.3 588.5 L1131.5 589.3 L1130.0 593.1 L1132.2 593.9 L1132.3 591.6 L1132.6 589.3 L1132.8 586.9 L1132.3 584.6 L1132.3 582.3 L1132.7 580.0 L1132.4 577.6 L1132.4 575.3 L1132.5 573.0 L1133.2 570.7 L1133.3 568.4 L1133.0 566.0 L1133.2 563.7 L1133.3 561.4 L1133.2 559.0 L1133.3 556.7 L1133.5 554.4 L1134.0 556.6 L1134.6 558.9 L1133.5 561.4 L1134.2 563.6 L1135.7 565.6 L1136.0 567.9 L1134.2 570.5 L1135.2 572.7 L1135.4 575.0 L1135.0 578.0 L1136.2 579.8 L1137.5 581.6 L1138.6 583.6 L1140.2 585.5 L1139.8 588.6 L1141.0 590.7 L1140.8 593.7 L1142.4 595.6 L1142.7 593.0 L1146.2 594.0 L1147.1 592.1 L1148.3 590.6 L1147.4 586.6 L1148.8 585.3 L1150.1 587.2 L1149.7 589.7 L1149.1 592.2 L1149.8 594.3 L1152.2 595.9 L1151.8 598.3 L1151.3 600.8 L1150.3 603.6 L1152.0 605.6 L1153.9 607.5 L1152.7 610.3 L1152.4 612.9 L1152.4 615.4 L1155.3 617.0 L1154.5 619.7 L1154.4 622.0 L1154.9 624.3 L1154.5 626.6 L1154.7 628.8 L1155.1 631.1 L1155.1 633.4 L1154.9 635.7 L1154.7 638.0 L1154.5 640.3 L1155.1 642.6 L1155.2 644.8 L1154.9 647.1 L1155.1 649.4 L1155.1 651.7 L1155.2 654.0 L1154.9 656.4 L1155.0 658.8 L1155.2 661.2 L1155.3 663.6 L1155.0 666.0 L1155.1 668.5 L1155.1 670.9 L1155.2 673.3 L1155.0 675.7 L1155.2 678.1 L1155.5 680.4 L1155.1 682.7 L1155.5 685.0 L1155.6 687.2 L1156.0 689.5 L1155.4 691.8 L1155.7 694.1 L1155.7 696.4 L1156.1 698.7 L1156.4 700.9 L1156.1 703.3 L1156.2 705.5 L1156.5 707.8 L1156.1 710.1 L1156.4 712.4 L1157.0 714.6 L1156.4 716.9 L1156.5 719.2 L1157.3 721.3 L1156.7 723.6 L1156.8 725.9 L1157.5 728.1 L1157.5 730.3 L1157.3 732.6 L1157.7 734.8 L1157.5 732.5 L1158.3 730.3 L1157.7 728.0 L1158.4 725.8 L1158.1 723.5 L1158.6 721.3 L1158.9 719.1 L1158.9 716.8 L1158.9 714.6 L1159.0 712.3 L1159.0 710.0 L1159.3 707.8 L1159.6 705.6 L1159.5 703.3 L1159.5 701.1 L1159.5 698.9 L1159.6 696.6 L1159.8 694.4 L1159.7 692.1 L1160.2 689.9 L1159.9 687.7 L1160.4 685.5 L1160.2 683.2 L1160.3 681.0 L1160.5 678.7 L1160.6 676.5 L1160.3 674.2 L1160.6 672.0 L1160.2 669.7 L1160.9 667.5 L1160.8 665.3 L1161.1 663.1 L1160.6 660.8 L1160.5 658.6 L1161.1 656.3 L1160.7 654.1 L1161.3 651.9 L1160.9 649.6 L1161.4 647.4 L1160.8 645.1 L1161.0 642.9 L1161.5 640.7 L1161.0 638.4 L1161.6 636.2 L1161.3 633.9 L1161.5 631.7 L1163.4 630.3 L1164.0 626.6 L1166.6 626.5 L1165.9 623.9 L1167.6 621.4 L1167.2 618.8 L1165.6 616.2 L1165.5 613.7 L1166.6 611.1 L1169.2 610.1 L1170.5 611.9 L1171.9 613.7 L1173.0 616.2 L1173.0 618.4 L1173.2 620.7 L1172.8 622.9 L1173.5 625.2 L1173.2 627.4 L1173.2 629.7 L1173.1 631.9 L1173.4 634.1 L1173.3 636.4 L1173.8 638.6 L1173.7 640.9 L1173.3 643.1 L1174.1 645.3 L1173.7 647.6 L1173.4 649.9 L1173.5 652.1 L1174.1 654.3 L1173.5 656.6 L1174.0 658.8 L1174.4 661.1 L1173.9 663.3 L1174.1 665.6 L1174.2 667.8 L1171.9 665.0 L1171.3 671.5 L1169.2 669.5 L1169.6 667.3 L1169.3 665.0 L1169.2 662.8 L1169.5 660.6 L1170.2 658.5 L1170.4 656.2 L1170.4 654.0 L1170.5 651.8 L1170.5 649.5 L1170.5 647.3 L1170.7 645.1 L1170.6 642.9 L1170.8 640.7 L1171.1 638.5 L1171.8 636.3 L1171.9 634.1 L1171.5 631.8 L1172.3 629.7 L1171.7 627.4 L1172.3 625.2 L1172.0 622.9 L1172.6 620.8 L1173.1 618.6 L1173.0 616.3 L1173.1 614.1 L1173.2 611.9 L1173.5 609.7 L1173.4 607.5 L1173.9 605.3 L1173.9 603.1 L1174.0 600.8 L1173.8 598.6 L1174.4 596.4 L1174.7 594.2 L1174.1 591.9 L1174.5 589.7 L1174.9 587.5 L1174.9 585.3 L1175.8 582.9 L1175.9 580.4 L1174.6 577.9 L1175.1 575.5 L1176.0 573.1 L1176.7 570.6 L1175.5 568.1 L1176.3 564.6 L1177.8 562.9 L1180.6 564.7 L1181.0 562.5 L1180.4 560.2 L1180.6 558.0 L1181.0 555.7 L1180.8 553.5 L1181.7 551.3 L1181.0 549.0 L1181.2 546.8 L1181.7 544.6 L1181.7 542.3 L1182.1 540.1 L1182.4 537.9 L1181.8 535.6 L1182.3 533.4 L1182.8 531.2 L1182.2 528.9 L1182.6 526.6 L1182.7 524.4 L1182.8 522.1 L1182.8 519.9 L1183.6 517.7 L1183.3 515.4 L1183.5 513.2 L1184.1 511.0 L1183.8 508.7 L1183.8 506.4 L1184.2 504.2 L1184.8 506.4 L1184.8 508.8 L1185.3 511.0 L1184.9 513.4 L1185.4 515.6 L1185.3 517.9 L1185.8 520.2 L1186.3 522.4 L1185.7 524.9 L1186.1 527.1 L1186.5 529.4 L1187.1 531.6 L1186.9 533.9 L1187.2 536.2 L1187.4 538.5 L1187.4 541.1 L1190.4 542.0 L1189.0 545.5 L1188.7 548.3 L1190.0 550.2 L1191.2 552.1 L1192.4 554.0 L1192.0 551.4 L1194.0 550.0 L1194.8 548.0 L1193.9 545.2 L1196.6 544.2 L1195.1 541.0 L1195.0 538.6 L1196.9 537.2 L1197.6 535.1 L1199.8 534.2 L1200.0 531.6 L1199.3 528.5 L1200.6 526.8 L1203.2 526.2 L1202.7 523.1 L1205.3 523.3 L1205.0 519.4 L1206.4 517.9 L1207.7 516.2 L1207.2 513.9 L1208.3 511.7 L1209.0 509.4 L1207.5 507.0 L1209.0 504.8 L1208.1 502.5 L1208.8 500.2 L1208.9 497.9 L1208.4 495.6 L1209.2 493.6 L1208.1 490.9 L1211.1 489.7 L1208.5 486.5 L1209.4 484.5 L1209.5 482.3 L1211.7 480.7 L1211.6 478.4 L1212.7 476.8 L1215.5 477.9 L1214.4 472.5 L1215.4 470.7 L1216.4 468.8 L1219.2 469.8 L1220.3 467.1 L1223.5 467.9 L1224.3 464.6 L1224.2 462.4 L1224.4 460.2 L1224.3 458.0 L1224.3 455.8 L1224.7 453.6 L1224.1 451.3 L1224.6 449.2 L1225.0 447.0 L1224.5 444.7 L1224.7 442.5 L1224.9 440.3 L1224.6 438.1 L1224.6 435.9 L1224.9 433.7 L1225.7 431.7 L1225.3 429.2 L1225.9 427.2 L1226.6 425.1 L1226.7 422.8 L1227.1 420.6 L1228.3 418.8 L1228.7 416.6 L1228.9 414.4 L1229.7 412.4 L1230.0 410.2 L1230.4 408.0 L1230.5 405.7 L1231.3 403.7 L1231.3 401.4 L1231.9 399.3 L1232.1 401.6 L1232.4 403.9 L1232.6 406.2 L1232.0 408.5 L1232.1 410.8 L1232.1 413.1 L1232.6 415.3 L1232.4 417.7 L1232.6 419.9 L1233.0 422.2 L1232.9 424.5 L1233.3 426.8 L1232.7 429.1 L1232.9 431.4 L1233.2 433.7 L1233.6 429.8 L1236.9 432.3 L1238.5 431.1 L1239.6 428.6 L1239.4 426.3 L1240.5 424.2 L1240.8 422.0 L1240.6 419.6 L1240.7 417.4 L1240.6 415.1 L1241.6 413.0 L1241.8 410.7 L1241.6 408.4 L1242.1 406.2 L1241.5 404.0 L1241.6 401.8 L1241.8 399.5 L1241.2 397.3 L1241.2 395.0 L1241.1 392.8 L1240.5 390.6 L1240.7 388.3 L1240.1 386.2 L1240.2 383.9 L1241.8 386.6 L1244.1 384.9 L1245.9 385.6 L1247.5 383.5 L1246.3 380.8 L1246.6 378.4 L1247.0 376.1 L1247.3 373.7 L1248.7 371.6 L1247.5 368.9 L1248.4 366.7 L1248.2 364.3 L1248.9 362.0 L1248.7 359.6 L1248.8 357.3 L1249.2 355.0 L1249.5 352.6 L1249.4 350.2 L1250.2 348.0 L1249.9 345.6 L1250.6 343.3 L1250.4 340.9 L1248.2 340.0 L1247.9 337.3 L1247.5 334.6 L1250.4 332.8 L1249.4 329.9 L1250.1 327.5 L1250.0 325.2 L1250.8 323.1 L1251.2 320.9 L1251.1 318.6 L1251.6 316.4 L1252.1 314.2 L1251.7 311.9 L1252.3 309.7 L1252.9 307.5 L1252.5 305.2 L1253.0 303.0 L1252.8 305.3 L1253.7 307.4 L1253.3 309.7 L1253.6 311.9 L1253.6 314.2 L1254.0 316.4 L1254.0 318.6 L1254.7 320.8 L1254.2 323.1 L1254.7 325.3 L1254.9 327.5 L1254.8 330.3 L1255.2 332.9 L1256.6 335.0 L1256.0 338.0 L1257.8 340.0 L1258.8 337.8 L1257.7 335.1 L1257.6 332.6 L1259.9 330.7 L1260.8 328.5 L1259.4 325.7 L1259.7 323.3 L1260.7 321.1 L1260.6 323.7 L1260.1 326.4 L1261.7 328.3 L1263.9 330.1 L1263.0 332.9 L1263.6 335.3 L1264.9 337.3 L1264.4 340.0 L1264.6 337.8 L1264.6 335.5 L1264.5 333.3 L1264.7 331.0 L1264.3 328.8 L1265.0 326.5 L1264.5 324.3 L1264.6 322.0 L1265.0 319.8 L1264.8 317.5 L1265.2 315.3 L1265.0 313.0 L1265.0 310.8 L1265.2 308.6 L1265.1 306.3 L1264.6 304.0 L1265.0 301.8 L1265.0 299.6 L1264.9 297.3 L1264.9 295.1 L1265.3 292.8 L1265.2 290.6 L1265.0 288.3 L1265.1 286.1 L1264.4 283.9 L1264.7 281.6 L1264.7 279.4 L1264.5 277.1 L1265.0 274.9 L1264.3 272.6 L1264.9 270.4 L1265.0 268.1 L1264.5 265.9 L1264.2 263.7 L1264.5 261.4 L1264.2 259.2 L1264.9 256.9 L1264.5 254.7 L1264.2 252.4 L1264.4 250.2 L1264.7 248.0 L1264.6 245.7 L1264.8 243.4 L1264.6 241.2 L1265.3 238.9 L1265.3 236.7 L1265.4 234.4 L1265.4 232.2 L1265.6 229.9 L1265.1 227.6 L1265.6 225.4 L1265.4 223.1 L1265.3 220.9 L1265.9 218.6 L1265.8 216.4 L1265.9 214.1 L1266.2 216.4 L1266.1 218.7 L1266.3 221.0 L1266.3 223.3 L1266.3 225.6 L1266.4 228.0 L1266.9 230.2 L1267.0 232.5 L1267.2 234.8 L1266.8 237.2 L1266.9 239.5 L1267.6 241.7 L1267.6 244.1 L1267.6 246.4 L1268.1 248.6 L1267.8 251.0 L1267.9 253.3 L1268.4 255.6 L1268.3 257.9 L1270.0 260.0 L1269.6 263.5 L1271.1 265.7 L1272.5 263.4 L1270.3 260.7 L1272.1 258.5 L1272.6 256.0 L1272.3 253.6 L1273.1 251.2 L1271.2 248.6 L1271.1 246.2 L1272.1 243.8 L1272.5 241.5 L1272.2 239.2 L1272.5 236.9 L1272.4 234.6 L1272.6 232.3 L1272.2 230.0 L1272.3 227.7 L1272.4 225.4 L1273.1 223.2 L1272.5 220.8 L1272.9 218.6 L1272.8 216.2 L1273.3 214.0 L1273.4 211.7 L1273.6 209.4 L1273.6 207.1 L1273.7 204.8 L1273.6 202.5 L1273.9 204.7 L1273.8 207.0 L1273.5 209.4 L1274.1 211.6 L1273.8 213.9 L1274.2 216.1 L1274.5 218.4 L1274.1 220.7 L1274.9 222.9 L1274.6 225.2 L1274.6 227.5 L1274.6 229.8 L1275.4 232.0 L1275.0 234.3 L1275.4 236.6 L1275.2 238.9 L1275.9 241.1 L1275.6 243.4 L1275.7 245.7 L1276.0 247.9 L1275.9 250.2 L1276.3 247.4 L1279.0 246.9 L1279.6 244.3 L1280.1 241.6 L1281.6 239.9 L1281.6 237.6 L1281.7 235.4 L1281.7 233.1 L1281.8 230.9 L1282.0 228.6 L1282.0 226.4 L1281.3 224.1 L1281.6 221.9 L1281.7 219.6 L1281.3 217.4 L1281.4 215.1 L1281.4 212.9 L1281.5 210.6 L1281.5 208.3 L1281.3 206.1 L1281.8 203.8 L1281.8 201.6 L1281.4 199.3 L1281.4 197.1 L1281.5 194.8 L1281.8 192.6 L1281.3 190.3 L1281.8 188.1 L1281.6 185.8 L1284.0 189.0 L1286.4 185.8 L1286.8 188.1 L1287.0 190.4 L1286.9 192.7 L1286.9 195.0 L1287.7 197.3 L1288.0 199.5 L1287.9 201.9 L1288.1 204.2 L1288.6 206.4 L1288.2 208.8 L1289.0 211.0 L1288.7 213.4 L1289.3 215.7 L1289.3 218.0 L1289.5 214.5 L1291.8 214.2 L1293.2 212.6 L1295.0 211.5 L1294.9 209.2 L1295.2 206.8 L1295.2 204.5 L1295.2 202.1 L1295.1 199.8 L1295.6 197.5 L1295.9 195.2 L1296.0 192.8 L1295.5 190.5 L1296.0 188.1 L1295.9 185.8 L1295.9 183.4 L1296.2 181.1 L1295.8 178.7 L1296.5 176.4 L1296.3 174.1 L1296.7 171.7 L1296.9 169.4 L1296.3 167.0 L1297.0 164.7 L1297.2 162.4 L1296.9 160.0 L1296.8 157.6 L1297.4 155.3 L1297.7 152.9 L1297.2 150.4 L1297.9 148.1 L1297.8 145.7 L1298.1 143.3 L1298.0 140.9 L1298.4 138.6 L1298.7 136.2 L1300.6 134.9 L1299.2 131.6 L1300.3 129.8 L1300.0 127.3 L1301.9 125.9 L1302.1 128.2 L1302.4 130.4 L1302.4 132.8 L1302.5 135.0 L1302.5 137.3 L1302.6 139.6 L1302.7 141.9 L1303.4 144.2 L1303.1 146.5 L1302.8 148.8 L1303.1 151.1 L1303.4 153.4 L1303.5 155.7 L1304.0 157.9 L1304.4 160.2 L1304.3 162.5 L1303.9 164.9 L1304.4 167.1 L1304.3 164.9 L1304.5 162.6 L1304.4 160.4 L1304.2 158.1 L1304.7 155.9 L1304.4 153.6 L1305.0 151.4 L1304.9 149.2 L1304.5 146.9 L1304.7 144.7 L1304.6 142.5 L1304.7 140.2 L1304.9 138.0 L1305.0 135.7 L1305.1 133.5 L1304.9 131.3 L1305.7 129.1 L1305.3 126.8 L1305.8 124.6 L1305.2 122.3 L1305.7 120.1 L1305.9 117.9 L1305.6 115.6 L1305.5 113.4 L1305.8 111.1 L1305.4 108.9 L1305.8 106.7 L1305.4 104.4 L1305.9 102.2 L1306.0 100.0 L1305.5 97.7 L1305.4 95.5 L1305.8 93.2 L1305.5 91.0 L1305.7 88.8 L1305.5 86.5 L1306.0 84.3 L1305.7 82.1 L1305.9 79.8 L1305.6 77.6 L1305.7 75.4 L1305.9 73.1 L1305.6 70.9 L1308.5 71.1 L1309.5 67.5 L1310.5 65.5 L1309.8 63.0 L1310.7 60.9 L1311.3 58.8 L1309.9 56.2 L1309.9 54.0 L1311.3 52.0 L1311.5 54.3 L1312.1 56.4 L1311.9 58.8 L1312.8 60.9 L1312.5 63.2 L1313.3 65.4 L1313.6 67.6 L1313.7 69.9 L1313.8 72.1 L1313.9 74.4 L1314.2 76.6 L1313.7 78.9 L1313.4 81.1 L1313.6 83.3 L1313.8 85.6 L1313.2 87.8 L1313.1 90.0 L1313.5 92.2 L1312.9 94.4 L1313.3 96.7 L1313.3 99.0 L1314.0 101.1 L1314.1 103.4 L1314.1 105.6 L1313.6 108.0 L1314.4 110.1 L1314.0 112.5 L1314.2 114.7 L1314.2 117.0 L1314.6 119.2 L1315.1 121.4 L1314.8 123.7 L1315.2 125.9 L1315.6 128.2 L1315.3 130.6 L1315.3 132.9 L1315.0 135.3 L1315.2 137.6 L1315.5 140.0 L1315.5 142.3 L1315.4 144.7 L1315.3 147.0 L1315.2 149.4 L1315.2 151.7 L1315.7 153.9 L1315.0 156.1 L1315.4 158.3 L1315.7 160.5 L1315.5 162.7 L1315.3 165.0 L1316.1 167.1 L1316.3 169.3 L1316.2 171.5 L1316.0 173.8 L1315.8 176.0 L1316.2 178.2 L1316.7 180.4 L1316.4 182.6 L1317.6 180.6 L1319.0 178.7 L1318.6 176.0 L1317.6 173.0 L1319.4 171.3 L1319.6 168.9 L1319.8 166.6 L1319.8 164.3 L1319.6 162.0 L1319.8 159.7 L1319.7 157.4 L1320.0 155.2 L1319.6 152.9 L1320.1 150.6 L1320.3 148.3 L1319.9 146.0 L1319.8 143.7 L1319.8 141.4 L1319.9 139.1 L1320.2 136.8 L1320.1 134.5 L1319.9 132.2 L1320.1 130.0 L1320.0 127.7 L1320.0 125.4 L1320.2 123.1 L1320.3 120.8 L1320.2 123.3 L1321.6 125.1 L1322.8 127.0 L1324.0 128.9 L1324.0 131.3 L1323.2 134.1 L1324.1 136.2 L1324.3 134.0 L1324.0 131.7 L1324.2 129.5 L1324.6 127.3 L1324.2 125.0 L1324.7 122.8 L1324.8 120.6 L1324.7 118.3 L1325.0 116.1 L1324.7 113.8 L1325.1 111.6 L1325.1 109.4 L1325.1 107.1 L1325.4 104.9 L1325.9 102.7 L1325.9 100.5 L1325.7 98.2 L1326.1 96.0 L1326.1 93.7 L1326.0 91.5 L1327.9 89.7 L1329.9 88.1 L1329.9 85.8 L1330.2 83.6 L1330.5 81.4 L1330.5 79.1 L1331.2 77.0 L1331.4 74.7 L1331.8 72.5 L1331.4 70.2 L1332.5 68.1 L1332.4 65.8 L1333.1 68.8 L1334.9 70.9 L1334.7 73.1 L1334.9 75.4 L1334.4 77.6 L1334.7 79.9 L1334.0 82.1 L1334.6 84.4 L1334.2 86.6 L1334.3 88.9 L1333.6 91.1 L1334.1 93.4 L1333.7 95.6 L1334.1 97.9 L1333.6 100.1 L1333.4 102.4 L1333.5 104.6 L1333.8 106.9 L1334.4 109.1 L1334.3 111.3 L1334.5 113.6 L1334.4 115.8 L1334.1 118.1 L1334.9 120.3 L1334.9 122.5 L1334.8 124.8 L1334.8 127.1 L1334.9 129.3 L1336.2 131.5 L1335.8 134.2 L1335.0 136.9 L1336.5 139.1 L1337.1 141.5 L1336.4 144.2 L1337.5 146.5 L1337.3 148.7 L1337.6 150.9 L1337.2 153.1 L1337.3 155.4 L1337.4 157.6 L1337.5 159.8 L1337.8 162.0 L1337.4 164.2 L1337.4 166.4 L1337.5 168.6 L1337.6 170.9 L1337.6 173.1 L1337.5 175.3 L1337.7 177.5 L1338.4 179.7 L1337.9 182.0 L1336.7 184.2 L1336.7 186.5 L1337.4 188.7 L1337.9 190.9 L1338.3 193.2 L1338.0 195.4 L1338.3 197.7 L1337.6 199.9 L1337.8 202.2 L1337.7 204.4 L1337.8 206.7 L1338.2 209.0 L1337.9 211.2 L1337.7 213.5 L1338.2 215.7 L1337.9 218.0 L1339.1 221.3 L1341.8 221.9 L1342.3 224.2 L1342.3 226.5 L1342.3 228.8 L1342.8 231.1 L1342.6 233.4 L1342.7 235.7 L1342.8 238.0 L1342.6 240.4 L1342.9 242.7 L1343.5 244.9 L1343.1 247.3 L1343.5 249.6 L1343.5 251.9 L1344.3 254.1 L1344.1 256.5 L1344.3 258.8 L1344.4 261.1 L1344.2 263.4 L1344.7 265.7 L1345.7 262.1 L1347.7 263.0 L1349.1 261.2 L1351.3 263.1 L1351.5 260.8 L1351.3 258.5 L1351.3 256.2 L1351.4 253.9 L1351.1 251.6 L1351.4 249.3 L1351.4 247.0 L1351.6 244.7 L1351.1 242.4 L1351.3 240.1 L1351.3 237.8 L1351.0 235.5 L1351.6 233.2 L1351.3 230.9 L1352.0 233.0 L1351.8 235.4 L1352.6 237.5 L1352.5 239.9 L1352.6 242.2 L1353.8 244.2 L1354.0 246.4 L1353.9 248.8 L1354.7 250.9 L1355.0 253.1 L1355.1 255.4 L1355.1 253.2 L1355.4 251.0 L1355.6 248.7 L1355.4 246.5 L1355.1 244.3 L1355.4 242.1 L1355.1 239.8 L1355.7 237.6 L1355.8 235.4 L1355.4 233.2 L1355.3 230.9 L1355.9 228.7 L1356.0 226.5 L1356.2 224.3 L1355.5 222.0 L1356.3 219.9 L1356.2 217.6 L1356.1 215.4 L1356.0 213.1 L1356.0 210.8 L1356.8 208.6 L1356.3 206.2 L1356.8 204.0 L1356.8 201.7 L1357.2 199.5 L1357.0 197.1 L1357.4 194.9 L1357.8 192.7 L1357.6 190.3 L1357.5 188.0 L1358.0 185.8 L1358.1 188.1 L1358.6 190.3 L1358.3 192.7 L1359.1 194.8 L1359.4 197.1 L1359.4 199.4 L1359.7 201.7 L1360.2 203.9 L1359.9 206.3 L1360.4 208.5 L1360.1 210.8 L1361.0 213.0 L1361.3 215.3 L1361.2 217.6 L1361.2 219.9 L1361.2 222.2 L1361.9 224.4 L1361.9 227.3 L1361.9 230.2 L1364.0 232.1 L1364.7 234.7 L1364.9 232.4 L1364.7 230.2 L1364.8 227.9 L1365.1 225.6 L1364.6 223.3 L1365.2 221.1 L1365.1 218.8 L1365.3 216.5 L1365.2 214.3 L1364.8 212.0 L1365.4 209.7 L1364.9 207.4 L1365.5 205.2 L1365.8 202.9 L1365.5 200.6 L1365.5 198.4 L1365.6 196.1 L1365.6 198.8 L1368.2 199.7 L1366.6 203.5 L1370.5 203.6 L1368.2 207.8 L1370.4 209.0 L1370.3 206.7 L1371.3 204.5 L1371.1 202.2 L1371.4 200.0 L1371.4 197.7 L1372.1 195.5 L1372.5 193.3 L1372.0 190.9 L1372.6 188.7 L1372.5 186.4 L1373.3 184.2 L1373.3 181.9 L1373.2 179.6 L1373.7 177.4 L1373.9 175.2 L1374.7 173.1 L1374.5 170.8 L1375.5 168.7 L1375.7 166.5 L1375.3 164.1 L1376.4 162.1 L1376.7 159.9 L1376.8 157.6 L1377.1 155.4 L1377.0 153.1 L1377.3 150.9 L1377.7 148.7 L1378.1 146.5 L1378.6 144.3 L1378.5 142.0 L1378.1 139.8 L1378.2 137.5 L1378.6 135.3 L1378.5 133.1 L1378.4 130.8 L1378.3 128.6 L1378.5 126.3 L1378.6 124.1 L1378.6 121.9 L1378.7 119.6 L1379.0 117.4 L1379.2 115.2 L1379.1 112.9 L1378.9 110.7 L1378.9 108.4 L1378.8 106.2 L1379.7 104.0 L1379.1 101.7 L1379.5 99.5 L1379.3 97.2 L1379.5 95.0 L1382.0 93.3 L1382.4 95.6 L1381.9 97.8 L1382.0 100.1 L1382.5 102.4 L1382.0 104.6 L1381.8 106.9 L1382.3 109.2 L1382.3 111.4 L1381.9 113.7 L1382.1 116.0 L1382.0 118.3 L1382.3 120.5 L1382.1 122.8 L1382.5 125.0 L1382.7 127.3 L1382.6 129.6 L1382.7 131.9 L1382.7 134.1 L1382.1 136.4 L1382.9 138.7 L1382.4 140.9 L1382.8 143.2 L1382.7 145.5 L1382.2 147.7 L1382.7 150.0 L1382.1 152.3 L1381.6 154.5 L1381.0 156.8 L1381.3 159.3 L1380.5 161.5 L1380.3 163.9 L1379.1 165.9 L1378.8 168.3 L1378.2 170.5 L1378.1 172.9 L1379.5 174.9 L1382.5 174.1 L1382.8 178.0 L1383.0 180.2 L1382.8 182.5 L1382.8 184.8 L1383.0 187.0 L1383.8 189.2 L1383.2 191.5 L1383.7 193.7 L1383.7 196.0 L1384.3 198.2 L1383.7 200.5 L1384.0 202.7 L1384.3 204.9 L1384.2 207.2 L1384.7 209.4 L1384.8 211.6 L1385.0 213.9 L1385.3 216.1 L1384.9 218.4 L1385.1 220.6 L1385.2 222.9 L1385.2 225.1 L1385.6 227.4 L1385.7 229.6 L1387.1 231.6 L1388.2 233.9 L1389.5 236.0 L1389.3 233.7 L1389.9 231.4 L1389.9 229.0 L1389.5 226.7 L1389.6 224.3 L1390.1 222.0 L1389.7 219.7 L1389.9 217.3 L1389.8 215.0 L1390.1 212.7 L1389.8 210.3 L1390.0 208.0 L1389.9 205.7 L1390.4 203.4 L1390.5 201.0 L1390.4 198.7 L1390.3 196.5 L1390.7 194.3 L1390.8 192.1 L1390.8 189.9 L1390.2 187.7 L1390.6 185.5 L1390.6 183.3 L1390.1 181.1 L1390.3 178.8 L1390.7 176.6 L1390.5 174.4 L1390.0 172.2 L1390.1 170.0 L1390.4 167.8 L1390.7 165.6 L1390.6 163.4 L1390.7 161.2 L1390.2 159.0 L1390.1 156.8 L1390.6 154.6 L1390.3 152.4 L1390.7 150.2 L1390.5 148.0 L1390.2 145.8 L1390.7 143.5 L1390.0 141.3 L1390.7 139.1 L1390.7 136.9 L1390.4 134.7 L1390.0 132.5 L1390.1 130.3 L1389.9 128.1 L1390.3 125.9 L1392.2 129.3 L1392.3 131.5 L1392.7 133.7 L1392.1 136.0 L1392.4 138.2 L1392.1 140.4 L1392.6 142.6 L1392.5 144.8 L1392.5 147.0 L1393.0 149.2 L1393.0 151.4 L1392.6 153.7 L1393.0 155.9 L1392.5 158.1 L1392.8 160.3 L1392.6 162.6 L1393.1 164.9 L1392.9 167.3 L1392.8 169.6 L1393.3 171.9 L1392.9 174.2 L1393.5 176.5 L1393.6 178.8 L1393.2 181.2 L1393.4 183.5 L1393.3 185.8 L1393.3 188.1 L1393.7 190.3 L1393.1 192.6 L1393.5 194.9 L1393.2 197.2 L1393.2 199.4 L1393.7 201.7 L1393.8 204.0 L1393.7 206.2 L1393.6 208.5 L1393.2 210.8 L1393.7 213.0 L1393.9 215.3 L1393.5 217.6 L1393.4 219.9 L1393.4 222.1 L1393.8 224.4 L1393.5 226.7 L1394.0 229.0 L1394.0 231.3 L1394.1 233.6 L1393.7 235.9 L1393.7 238.2 L1394.1 240.5 L1394.0 242.8 L1394.5 245.1 L1394.5 247.4 L1394.1 249.7 L1394.4 252.0 L1394.4 254.3 L1394.3 256.6 L1395.4 259.0 L1393.1 261.5 L1393.6 263.9 L1393.5 266.3 L1395.0 268.7 L1395.7 271.1 L1395.7 273.5 L1394.7 276.0 L1393.7 278.5 L1395.0 280.8 L1395.9 283.2 L1394.1 285.8 L1394.2 288.2 L1396.3 290.4 L1394.7 293.0 L1395.7 295.3 L1396.1 297.6 L1396.3 299.9 L1396.4 302.2 L1396.1 304.5 L1396.4 306.8 L1396.6 309.1 L1396.4 311.4 L1397.1 313.7 L1396.7 316.0 L1396.9 318.3 L1397.4 320.6 L1397.8 322.9 L1397.7 325.2 L1397.6 327.5 L1398.5 329.9 L1399.5 332.2 L1399.9 334.7 L1398.1 337.6 L1399.0 340.0 L1398.7 340.9 L1399.1 343.1 L1398.3 345.4 L1399.2 347.6 L1398.9 349.8 L1398.8 352.0 L1398.6 354.3 L1399.2 356.5 L1399.2 358.7 L1398.6 360.9 L1398.9 363.1 L1399.4 365.3 L1398.9 367.6 L1399.4 369.8 L1399.2 372.0 L1399.0 374.3 L1399.4 376.5 L1399.3 378.7 L1399.0 381.0 L1399.8 383.3 L1399.8 385.6 L1399.4 387.9 L1399.2 390.2 L1399.6 392.5 L1399.7 394.8 L1399.7 397.1 L1400.0 399.3 L1400.1 401.6 L1399.9 403.9 L1400.5 406.2 L1399.8 408.6 L1400.3 410.8 L1400.5 413.1 L1400.7 415.4 L1400.3 417.7 L1400.6 420.0 L1400.4 422.2 L1400.9 424.4 L1401.0 426.6 L1401.0 428.8 L1401.4 431.0 L1400.8 433.2 L1401.7 435.4 L1401.2 437.6 L1401.2 439.8 L1401.4 442.0 L1402.1 444.2 L1402.0 446.4 L1402.3 448.6 L1401.8 450.9 L1402.0 453.0 L1401.8 455.3 L1402.6 457.4 L1402.1 459.7 L1402.6 461.8 L1402.5 464.1 L1402.3 466.3 L1403.0 468.4 L1402.7 470.7 L1403.3 472.8 L1403.5 475.0 L1403.3 477.3 L1403.6 479.4 L1403.2 481.7 L1403.5 483.9 L1403.8 486.1 L1404.0 488.3 L1403.8 490.5 L1403.6 492.7 L1403.9 494.9 L1403.8 497.1 L1404.3 499.3 L1404.0 501.5 L1404.6 503.7 L1404.5 505.9 L1403.4 509.0 L1405.9 510.9 L1404.8 514.0 L1406.4 516.2 L1406.2 518.5 L1406.4 520.9 L1406.7 523.2 L1406.8 525.5 L1406.7 527.9 L1406.4 530.2 L1406.6 532.6 L1406.7 534.9 L1406.9 537.2 L1407.0 539.6 L1406.7 541.9 L1407.2 544.2 L1407.3 546.6 L1407.0 548.9 L1406.9 551.2 L1406.6 553.6 L1407.3 555.9 L1407.1 558.3 L1406.7 560.6 L1406.8 562.9 L1406.4 565.2 L1406.6 567.6 L1406.5 569.9 L1406.9 572.3 L1406.4 574.6 L1406.6 576.9 L1406.6 579.2 L1406.5 581.5 L1406.7 583.8 L1406.8 586.1 L1406.2 588.4 L1406.5 590.7 L1406.5 592.9 L1406.7 595.2 L1406.8 597.5 L1406.7 599.8 L1406.2 602.1 L1406.1 604.4 L1406.2 606.7 L1406.4 609.0 L1406.1 611.3 L1406.1 613.7 L1406.4 616.0 L1406.6 618.4 L1406.7 620.7 L1406.2 623.1 L1406.5 625.4 L1406.3 627.8 L1406.7 630.1 L1406.5 632.5 L1406.4 634.8 L1406.9 637.1 L1406.6 639.4 L1406.9 641.7 L1406.7 644.0 L1406.3 646.3 L1406.6 648.6 L1407.0 650.8 L1407.2 653.1 L1407.3 655.4 L1406.9 657.7 L1407.0 660.0 L1408.4 662.4 L1405.7 664.8 L1407.7 667.2 L1406.8 669.6 L1407.9 672.0 L1407.2 674.4 L1407.0 676.6 L1407.0 678.9 L1406.9 681.1 L1407.0 683.4 L1407.2 685.6 L1406.9 687.8 L1407.3 690.1 L1407.5 692.3 L1407.5 694.6 L1407.5 696.8 L1407.3 699.0 L1407.2 701.3 L1406.9 703.5 L1407.0 705.7 L1406.8 708.0 L1407.4 710.2 L1407.5 712.5 L1407.1 714.7 L1407.2 716.9 L1407.1 719.2 L1406.9 721.4 L1407.0 723.7 L1407.2 725.9 L1407.1 728.1 L1407.6 730.4 L1407.1 732.6 L1407.7 734.9 L1407.0 737.1 L1407.5 739.4 L1407.5 741.6 L1407.5 743.8 L1407.1 746.1 L1407.6 748.3 L1407.3 750.6 L1407.1 752.8 L1407.8 755.1 L1407.5 757.3 L1407.9 759.5 L1407.9 761.8 L1407.8 764.0 L1407.2 766.3 L1407.4 768.5 L1408.1 770.8 L1407.4 773.0 L1407.7 775.3 L1407.8 777.5 L1408.2 779.8 L1407.8 782.1 L1408.0 784.4 L1407.9 786.6 L1407.6 788.9 L1408.3 791.2 L1408.2 793.5 L1408.1 795.8 L1408.0 798.1 L1408.5 800.4 L1408.0 802.7 L1408.4 804.9 L1408.8 807.2 L1408.0 809.5 L1408.4 811.8 L1408.8 814.1 L1409.3 816.3 L1409.1 818.7 L1409.2 821.0 L1409.8 823.2 L1410.1 825.5 L1410.1 827.9 L1410.2 830.2 L1410.6 832.5 L1410.8 834.8 L1410.9 837.1 L1411.7 839.3 L1411.3 841.7 L1411.7 844.0 L1412.1 846.2 L1412.8 848.4 L1412.8 850.8 L1412.9 853.1 L1413.1 850.8 L1413.1 848.5 L1412.9 846.2 L1413.4 843.9 L1412.9 841.6 L1413.7 839.4 L1413.2 837.0 L1413.8 834.8 L1413.6 832.5 L1413.3 830.1 L1413.4 827.8 L1413.5 825.6 L1413.4 823.3 L1413.8 821.0 L1413.9 818.7 L1413.7 816.4 L1413.9 814.1 L1414.1 811.8 L1414.4 809.5 L1414.6 807.1 L1414.7 804.8 L1414.2 802.4 L1414.6 800.1 L1414.7 797.7 L1414.8 795.4 L1415.5 793.1 L1415.2 790.7 L1415.4 788.4 L1415.4 786.0 L1415.1 783.3 L1416.0 781.0 L1418.2 779.3 L1418.1 776.6 L1418.0 774.0 L1420.1 775.6 L1421.5 773.4 L1423.0 772.3 L1422.7 770.1 L1423.4 767.8 L1422.8 765.6 L1422.8 763.3 L1423.0 761.1 L1423.1 758.8 L1423.1 756.6 L1423.0 754.3 L1423.2 752.1 L1422.7 749.8 L1422.8 747.6 L1422.9 745.3 L1423.0 743.1 L1423.2 740.9 L1423.0 738.6 L1422.7 736.4 L1423.1 734.1 L1422.8 731.9 L1423.1 729.6 L1422.6 727.4 L1422.4 725.2 L1423.0 722.9 L1422.5 720.7 L1423.0 718.4 L1422.8 716.2 L1422.7 713.9 L1422.3 711.7 L1422.9 709.4 L1422.2 707.2 L1422.7 705.0 L1422.4 702.7 L1422.7 700.5 L1422.2 698.2 L1422.5 696.0 L1422.4 693.7 L1422.4 691.5 L1423.1 694.6 L1422.7 692.3 L1422.7 690.0 L1422.9 687.7 L1423.2 685.5 L1422.7 683.2 L1422.8 680.9 L1422.8 678.6 L1423.2 676.3 L1423.5 674.0 L1422.9 671.7 L1423.1 669.4 L1422.8 667.2 L1422.9 664.9 L1422.9 662.6 L1423.1 660.3 L1423.3 658.0 L1423.3 655.7 L1423.7 653.4 L1423.5 651.1 L1423.1 648.8 L1423.9 646.6 L1423.5 644.2 L1424.0 642.0 L1424.2 639.7 L1423.8 637.4 L1424.2 635.1 L1424.2 632.8 L1423.7 630.5 L1424.3 628.2 L1424.5 625.9 L1424.6 623.6 L1424.0 621.3 L1424.4 619.0 L1425.9 620.5 L1427.8 621.2 L1428.1 625.4 L1430.7 624.2 L1431.1 626.5 L1430.9 628.7 L1430.8 631.0 L1430.7 633.2 L1430.9 635.5 L1431.0 637.7 L1430.6 640.0 L1430.4 642.2 L1430.9 644.5 L1430.7 646.8 L1430.8 649.0 L1431.0 651.3 L1430.4 653.5 L1430.6 655.8 L1430.3 658.0 L1430.7 660.3 L1430.3 662.6 L1430.6 664.9 L1430.3 667.1 L1430.3 669.4 L1429.9 671.7 L1430.6 674.0 L1430.1 676.3 L1429.8 678.6 L1430.1 680.9 L1430.3 683.2 L1429.9 685.5 L1429.7 687.7 L1429.3 690.0 L1429.8 692.3 L1429.5 694.6 L1431.3 695.9 L1432.0 698.1 L1433.2 699.9 L1433.3 702.6 L1433.9 704.9 L1435.5 703.0 L1434.7 700.3 L1434.5 697.8 L1437.1 696.3 L1436.0 693.4 L1436.5 691.2 L1436.3 689.0 L1436.7 686.7 L1436.2 684.5 L1436.6 682.2 L1436.2 680.0 L1436.6 677.7 L1436.7 675.5 L1436.3 673.2 L1436.4 671.0 L1436.7 668.7 L1436.7 666.5 L1436.7 664.2 L1436.5 662.0 L1436.9 659.8 L1436.5 657.5 L1436.4 655.3 L1436.2 653.0 L1436.7 650.8 L1436.5 648.5 L1436.7 646.3 L1436.9 644.0 L1436.4 641.8 L1436.4 639.5 L1436.7 637.3 L1436.8 635.0 L1436.5 632.8 L1438.1 630.8 L1436.8 628.0 L1436.7 625.5 L1438.2 623.5 L1439.1 621.2 L1439.5 618.9 L1438.0 616.1 L1439.0 613.9 L1439.0 611.6 L1439.2 609.3 L1439.0 607.0 L1438.9 604.7 L1439.3 602.4 L1439.1 600.1 L1439.4 597.8 L1439.2 595.5 L1439.4 593.3 L1439.8 591.0 L1439.2 588.7 L1439.4 586.4 L1439.2 584.1 L1439.8 581.8 L1439.7 579.5 L1439.9 577.3 L1439.9 575.0 L1439.9 572.8 L1439.2 570.6 L1439.1 568.4 L1439.4 566.1 L1439.4 563.9 L1439.5 561.6 L1439.2 559.4 L1439.0 557.2 L1439.0 554.0 L1441.0 552.6 L1442.5 550.9 L1443.5 548.6 L1445.6 547.2 L1447.2 545.2 L1447.3 541.7 L1445.0 542.9 L1444.2 545.1 L1444.2 548.0 L1443.9 550.6 L1445.4 548.9 L1445.6 546.1 L1447.5 544.7 L1447.8 542.0 L1447.6 539.7 L1448.0 537.3 L1447.4 535.0 L1447.6 532.6 L1447.3 530.3 L1447.4 527.9 L1447.5 525.6 L1447.1 523.2 L1447.2 520.9 L1447.2 518.5 L1447.1 516.2 L1447.3 513.9 L1447.3 511.5 L1447.4 509.2 L1447.0 506.9 L1447.3 504.6 L1447.4 502.2 L1447.7 499.9 L1447.6 497.6 L1447.3 495.2 L1447.4 492.9 L1447.3 490.6 L1447.4 488.2 L1447.5 485.9 L1447.8 483.6 L1449.6 482.6 L1450.0 479.8 L1452.8 480.1 L1452.9 476.7 L1453.7 474.3 L1455.4 472.5 L1455.7 469.8 L1457.3 467.9 L1456.7 464.7 L1459.0 465.6 L1460.5 468.1 L1460.4 465.7 L1460.9 463.4 L1460.8 461.1 L1460.7 458.7 L1461.1 456.4 L1460.6 454.0 L1460.7 451.7 L1461.0 449.3 L1461.3 447.0 L1461.0 444.6 L1461.1 442.3 L1461.9 444.4 L1461.6 446.7 L1461.6 449.0 L1462.2 451.1 L1463.0 453.1 L1463.0 455.4 L1462.7 457.7 L1463.6 459.8 L1463.5 462.1 L1464.3 464.1 L1464.3 466.4 L1466.2 469.8 L1466.1 472.3 L1466.9 474.5 L1468.6 476.5 L1466.0 479.6 L1468.7 481.4 L1468.2 484.0 L1469.2 486.2 L1468.8 488.7 L1468.0 490.9 L1469.2 493.4 L1469.3 495.8 L1466.9 497.7 L1466.3 499.9 L1467.5 502.5 L1468.9 504.5 L1467.1 507.5 L1470.2 508.9 L1467.7 512.1 L1470.9 513.5 L1470.1 516.2 L1472.0 517.7 L1471.0 521.3 L1472.6 523.1 L1472.5 525.3 L1472.6 527.6 L1472.4 529.8 L1472.2 532.0 L1472.3 534.2 L1472.8 536.5 L1472.3 538.7 L1472.2 540.9 L1472.4 543.2 L1472.6 545.4 L1472.5 547.7 L1472.2 550.1 L1472.7 552.4 L1472.2 554.8 L1472.4 557.1 L1472.4 559.5 L1472.6 561.8 L1472.7 564.2 L1472.3 566.5 L1472.7 568.9 L1472.6 571.2 L1473.9 573.3 L1473.9 575.6 L1472.5 578.2 L1474.8 580.1 L1474.9 582.4 L1473.3 585.0 L1474.2 587.2 L1475.6 589.3 L1474.5 591.8 L1474.6 595.1 L1472.1 595.0 L1473.6 593.0 L1475.3 591.5 L1476.8 589.5 L1474.8 586.4 L1477.9 584.8 L1475.3 581.6 L1478.8 580.1 L1477.1 577.1 L1477.9 574.9 L1478.5 572.6 L1478.7 574.8 L1478.9 577.0 L1479.1 579.2 L1479.1 581.4 L1479.2 583.6 L1479.3 585.8 L1479.6 588.0 L1479.9 590.2 L1479.7 592.4 L1480.3 594.6 L1480.4 596.8 L1480.3 599.0 L1480.3 601.2 L1480.8 603.4 L1480.2 605.6 L1480.6 607.8 L1480.9 610.0 L1481.0 612.2 L1481.3 610.0 L1481.4 607.7 L1481.3 605.3 L1482.4 603.2 L1482.2 600.9 L1482.8 598.7 L1482.6 596.4 L1482.7 594.1 L1483.4 591.9 L1483.9 589.7 L1483.4 587.3 L1484.0 585.1 L1483.8 582.8 L1484.5 580.6 L1484.6 578.3 L1484.9 576.1 L1485.5 578.4 L1484.1 581.0 L1485.6 583.2 L1486.0 585.5 L1485.2 588.1 L1485.0 590.5 L1487.5 592.5 L1486.7 595.0 L1489.9 595.0 L1490.9 597.5 L1488.7 599.9 L1489.4 602.4 L1489.2 604.8 L1488.7 607.3 L1488.7 609.7 L1489.9 612.2 L1489.8 614.4 L1490.1 616.7 L1489.6 618.9 L1489.8 621.1 L1489.5 623.3 L1489.6 625.6 L1489.5 627.8 L1489.4 630.0 L1489.2 632.3 L1489.3 634.5 L1489.6 636.7 L1488.7 638.9 L1490.6 641.1 L1490.4 643.4 L1489.0 645.6 L1489.9 647.8 L1489.3 650.0 L1489.1 652.2 L1489.5 654.5 L1489.3 656.7 L1489.8 658.9 L1489.5 661.2 L1489.6 663.4 L1489.7 665.6 L1489.6 667.9 L1490.1 670.1 L1489.9 672.3 L1490.0 670.0 L1490.0 667.7 L1490.4 665.5 L1490.8 663.3 L1490.7 661.0 L1490.6 658.7 L1490.3 656.4 L1490.6 654.1 L1490.6 651.8 L1490.8 649.6 L1491.6 647.3 L1491.5 645.1 L1491.4 642.8 L1491.2 640.5 L1491.4 638.2 L1491.8 636.0 L1492.1 633.7 L1492.2 631.4 L1492.2 629.2 L1492.6 626.9 L1492.3 624.6 L1492.1 622.3 L1492.4 620.0 L1492.4 617.8 L1493.1 615.5 L1493.2 613.3 L1493.1 611.0 L1493.1 608.7 L1494.5 610.4 L1493.3 613.6 L1496.1 614.6 L1495.7 617.3 L1497.1 615.4 L1495.9 612.8 L1495.8 610.5 L1496.5 608.4 L1498.1 606.5 L1498.0 604.3 L1497.6 601.9 L1496.9 604.9 L1500.1 606.5 L1497.5 610.1 L1499.5 612.2 L1499.2 614.5 L1496.7 615.7 L1496.8 618.2 L1497.0 620.8 L1497.0 623.1 L1497.1 625.3 L1496.9 627.6 L1497.0 629.9 L1497.4 632.1 L1497.1 634.4 L1497.1 636.7 L1497.4 639.0 L1497.9 641.2 L1497.8 643.5 L1497.8 645.7 L1498.3 648.0 L1497.9 650.3 L1498.2 652.5 L1497.8 654.8 L1498.4 657.1 L1498.7 659.3 L1497.9 661.6 L1498.2 663.9 L1498.4 666.2 L1498.6 668.4 L1498.7 670.7 L1498.7 673.0 L1499.0 675.2 L1498.9 677.5 L1499.3 675.3 L1498.7 673.1 L1499.1 670.9 L1498.7 668.7 L1499.5 666.5 L1499.0 664.3 L1499.0 662.1 L1499.5 659.9 L1499.0 657.7 L1499.3 655.5 L1499.1 653.3 L1499.3 651.1 L1499.2 648.9 L1499.9 646.7 L1499.4 644.5 L1499.6 642.3 L1500.0 640.1 L1499.4 637.9 L1500.0 635.7 L1499.5 633.5 L1500.3 631.3 L1499.7 629.1 L1500.3 626.9 L1500.0 624.7 L1500.1 622.5 L1500.0 624.8 L1500.1 627.0 L1500.4 629.3 L1500.6 631.5 L1500.4 633.8 L1500.3 636.0 L1500.8 638.2 L1500.9 640.5 L1500.3 642.8 L1501.0 645.0 L1500.9 647.3 L1500.9 649.5 L1500.5 651.8 L1501.2 654.0 L1500.7 656.3 L1501.2 658.5 L1501.2 660.8 L1501.0 663.0 L1500.9 665.3 L1501.0 667.5 L1501.3 669.8 L1500.9 672.0 L1501.2 674.3 L1500.8 676.6 L1501.5 678.8 L1501.3 681.0 L1501.1 683.3 L1501.1 685.6 L1501.4 687.8 L1501.3 685.5 L1501.7 683.3 L1501.3 681.0 L1501.3 678.7 L1501.8 676.4 L1502.1 674.2 L1502.0 671.9 L1501.4 669.6 L1501.8 667.4 L1502.1 665.1 L1502.1 662.8 L1502.2 660.6 L1501.6 658.3 L1501.7 656.0 L1502.1 653.7 L1501.9 651.4 L1502.3 649.2 L1502.4 646.9 L1502.2 644.6 L1501.9 642.4 L1502.3 640.1 L1502.4 637.8 L1502.4 635.6 L1502.2 633.3 L1502.7 631.0 L1502.6 628.7 L1502.7 626.5 L1502.7 624.2 L1502.7 626.5 L1503.0 628.7 L1502.5 631.0 L1502.9 633.3 L1503.3 635.5 L1503.2 637.8 L1502.8 640.1 L1503.1 642.3 L1502.9 644.6 L1503.4 646.9 L1503.3 649.1 L1503.4 651.4 L1503.3 653.7 L1503.2 656.0 L1503.1 658.2 L1503.5 660.5 L1503.9 662.7 L1503.2 665.0 L1503.3 667.3 L1503.5 669.6 L1503.8 671.8 L1503.4 674.1 L1503.5 676.4 L1503.5 678.6 L1503.9 680.9 L1503.9 678.7 L1504.1 676.5 L1503.8 674.3 L1503.9 672.1 L1504.2 669.9 L1504.1 667.7 L1504.0 665.5 L1503.9 663.3 L1504.7 661.1 L1504.1 658.9 L1504.4 656.7 L1504.2 654.5 L1504.5 652.3 L1504.9 650.1 L1504.5 647.9 L1504.8 645.7 L1504.5 643.5 L1505.2 641.3 L1505.3 639.1 L1505.0 636.9 L1504.8 634.7 L1505.1 632.5 L1505.1 630.3 L1504.8 628.1 L1505.3 625.9 L1505.6 628.2 L1505.7 630.5 L1505.2 632.8 L1505.1 635.1 L1505.6 637.3 L1505.6 639.6 L1505.9 641.9 L1505.6 644.2 L1505.5 646.5 L1505.9 648.8 L1505.4 651.1 L1505.4 653.4 L1506.0 655.7 L1505.5 658.0 L1505.8 660.3 L1506.0 662.5 L1506.0 664.8 L1506.2 667.1 L1506.5 669.4 L1506.0 671.7 L1506.1 674.0 L1506.1 671.8 L1506.4 669.5 L1506.3 667.3 L1506.3 665.1 L1506.5 662.8 L1506.0 660.6 L1506.2 658.3 L1506.6 656.1 L1506.7 653.9 L1506.3 651.6 L1506.7 649.4 L1506.5 647.2 L1507.2 645.0 L1506.9 642.7 L1507.1 640.5 L1507.2 638.2 L1507.2 636.0 L1507.4 633.8 L1506.8 631.5 L1507.1 629.3 L1507.5 631.5 L1507.2 633.8 L1507.4 636.1 L1507.4 638.3 L1507.6 640.6 L1507.0 642.8 L1507.7 645.1 L1507.4 647.4 L1507.8 649.6 L1507.9 651.8 L1507.2 654.1 L1507.8 656.4 L1507.5 658.6 L1508.0 660.9 L1507.9 663.1 L1507.5 665.4 L1508.1 667.6 L1507.9 669.9 L1507.9 672.2 L1507.9 674.4 L1507.9 676.7 L1508.2 678.9 L1508.5 681.2 L1508.4 683.4 L1507.8 685.7 L1508.0 688.0 L1508.6 690.2 L1508.0 692.5 L1508.2 694.7 L1508.5 697.0 L1508.3 699.2 L1508.4 701.5 L1508.3 699.2 L1508.8 697.0 L1508.1 694.7 L1508.3 692.5 L1508.6 690.2 L1508.7 688.0 L1508.7 685.7 L1508.9 683.5 L1508.7 681.2 L1508.6 679.0 L1509.2 676.7 L1508.5 674.5 L1508.8 672.2 L1508.9 670.0 L1509.2 667.7 L1508.6 665.5 L1509.4 663.2 L1509.0 661.0 L1508.7 658.7 L1508.9 656.5 L1509.1 654.2 L1509.4 652.0 L1509.1 649.7 L1509.4 647.5 L1509.0 645.2 L1509.3 643.0 L1509.3 640.7 L1509.0 638.4 L1509.4 636.2 L1509.8 638.4 L1509.9 640.6 L1509.8 642.8 L1509.6 645.0 L1509.2 647.2 L1509.5 649.4 L1509.6 651.6 L1509.6 653.8 L1509.5 656.0 L1509.4 658.2 L1510.2 660.4 L1509.6 662.6 L1510.2 664.8 L1509.7 667.0 L1510.2 669.2 L1509.9 671.4 L1509.8 673.6 L1509.8 675.8 L1509.9 678.0 L1509.8 680.2 L1510.0 682.4 L1510.0 684.6 L1510.4 686.8 L1510.5 689.0 L1510.3 691.2 L1510.3 689.0 L1510.1 686.7 L1510.1 684.5 L1510.5 682.3 L1510.3 680.1 L1510.8 677.9 L1510.3 675.6 L1510.3 673.4 L1510.8 671.2 L1511.0 669.0 L1510.4 666.7 L1511.0 664.5 L1510.8 662.3 L1511.0 660.1 L1511.2 657.9 L1510.6 655.6 L1511.0 653.4 L1510.6 651.2 L1511.4 649.0 L1510.8 646.8 L1511.3 644.6 L1511.1 642.4 L1511.0 640.1 L1511.0 637.9 L1511.3 635.7 L1511.3 633.5 L1511.1 631.3 L1511.5 629.1 L1511.7 626.9 L1511.2 624.7 L1511.6 622.5 L1511.0 619.9 L1510.6 617.4 L1512.1 615.2 L1512.7 612.9 L1512.4 610.4 L1511.9 607.9 L1512.2 605.6 L1512.1 603.1 L1511.6 600.6 L1512.9 598.4 L1512.8 596.1 L1513.4 593.8 L1513.1 591.4 L1513.4 589.1 L1513.2 586.8 L1512.9 584.4 L1513.2 582.1 L1513.0 579.8 L1512.9 577.4 L1513.4 575.1 L1513.6 572.8 L1513.7 570.5 L1513.1 568.1 L1513.5 565.8 L1516.5 565.2 L1517.3 569.2 L1517.6 571.5 L1517.9 573.8 L1517.8 576.1 L1518.7 578.3 L1518.4 580.7 L1518.5 583.0 L1518.8 585.3 L1519.5 587.5 L1519.5 589.9 L1519.9 592.1 L1520.4 594.4 L1520.6 596.7 L1520.8 599.0 L1521.1 601.3 L1521.1 603.6 L1521.5 601.4 L1521.7 599.1 L1522.0 596.9 L1522.5 594.7 L1522.1 592.3 L1523.0 590.2 L1522.8 587.8 L1523.9 585.7 L1523.9 583.4 L1524.1 581.1 L1524.0 578.8 L1524.8 576.7 L1525.0 574.4 L1527.8 575.9 L1527.7 570.9 L1530.2 571.5 L1531.3 569.2 L1533.2 569.9 L1535.7 569.0 L1536.4 572.6 L1536.6 570.2 L1536.9 567.7 L1539.7 566.4 L1538.0 563.2 L1538.4 560.8 L1539.4 558.7 L1541.2 557.0 L1540.4 554.1 L1541.5 552.0 L1541.9 556.0 L1545.3 554.7 L1546.6 557.2" stroke="#ff0000" stroke-width="4.6" stroke-dasharray="42 9"/>
</g>
<rect x="748" y="138.8" width="488.5" height="105.5" fill="#ffffff" stroke="#4d4d4d" stroke-width="3" filter="url(#bl)"/>
<g filter="url(#bl)"><line x1="766" y1="167.7" x2="912.5" y2="167.7" stroke="#2a00ff" stroke-width="4"/>
<line x1="766" y1="214.5" x2="813.5" y2="214.5" stroke="#ff1020" stroke-width="4"/><line x1="843.5" y1="214.5" x2="891.5" y2="214.5" stroke="#ff1020" stroke-width="4"/></g>
<g filter="url(#bl)" class="lg">
<text transform="translate(925.5 181.6) scale(1.309 1)" text-anchor="start" font-size="37">Original Price</text>
<text transform="translate(925.5 227.8) scale(1.331 1)" text-anchor="start" font-size="37">Predict Price</text>
</g>
<g filter="url(#bl)">
<text transform="translate(122.0 64.5) scale(1.358 1)" text-anchor="end" font-size="36.4">3.2</text>
<text transform="translate(122.0 240.8) scale(1.358 1)" text-anchor="end" font-size="36.4">3.1</text>
<text transform="translate(122.0 418.9) scale(1.358 1)" text-anchor="end" font-size="36.4">3</text>
<text transform="translate(122.0 596.1) scale(1.358 1)" text-anchor="end" font-size="36.4">2.9</text>
<text transform="translate(122.0 774.0) scale(1.358 1)" text-anchor="end" font-size="36.4">2.8</text>
<text transform="translate(122.0 951.7) scale(1.358 1)" text-anchor="end" font-size="36.4">2.7</text>
<text transform="translate(122.0 1129.3) scale(1.358 1)" text-anchor="end" font-size="36.4">2.6</text>
<text transform="translate(122.0 1306.5) scale(1.358 1)" text-anchor="end" font-size="36.4">2.5</text>
<text transform="translate(140.9 1343.9) scale(1.358 1)" text-anchor="middle" font-size="36.4">0</text>
<text transform="translate(489.2 1343.9) scale(1.358 1)" text-anchor="middle" font-size="36.4">500</text>
<text transform="translate(840.5 1343.9) scale(1.358 1)" text-anchor="middle" font-size="36.4">1000</text>
<text transform="translate(1191.5 1343.9) scale(1.358 1)" text-anchor="middle" font-size="36.4">1500</text>
<text transform="translate(1539.9 1343.9) scale(1.358 1)" text-anchor="middle" font-size="36.4">2000</text>
<text transform="translate(1891.0 1343.9) scale(1.358 1)" text-anchor="middle" font-size="36.4">2500</text>
<text transform="translate(2241.0 1343.9) scale(1.358 1)" text-anchor="middle" font-size="36.4">3000</text>
</g>
</svg></body></html>
